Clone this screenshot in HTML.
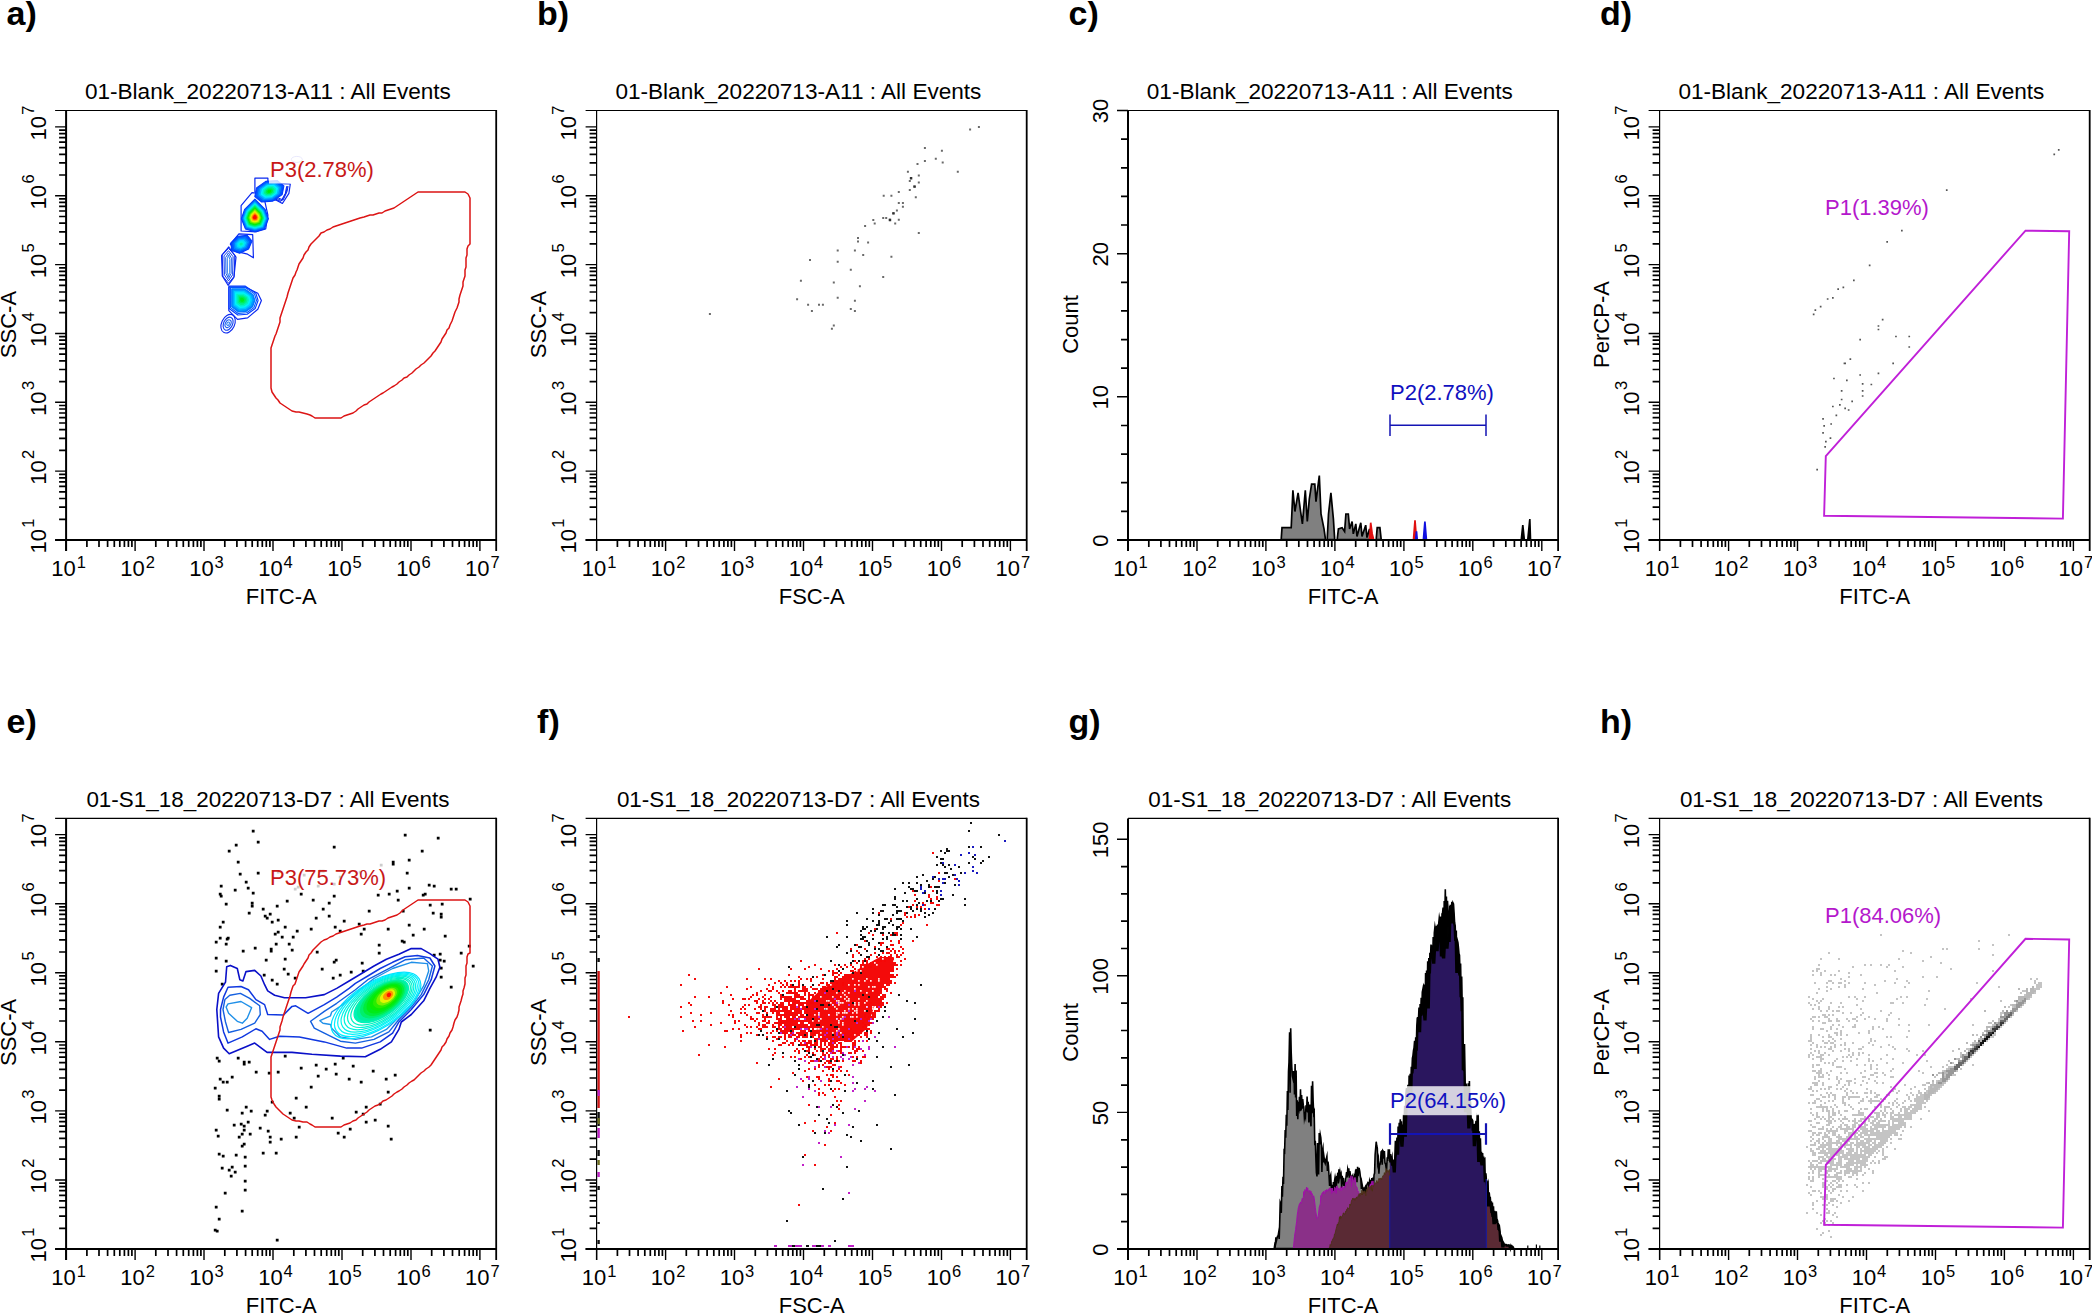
<!DOCTYPE html>
<html lang="en"><head><meta charset="utf-8"><title>Flow cytometry panels</title>
<style>html,body{margin:0;padding:0;background:#fff}svg{display:block}.t{font:22px "Liberation Sans", Arial, Helvetica, sans-serif;fill:#000}.s{font:16.5px "Liberation Sans", Arial, Helvetica, sans-serif;fill:#000}.L{font:bold 34px "Liberation Sans", Arial, Helvetica, sans-serif;fill:#000}.g{font:22px "Liberation Sans", Arial, Helvetica, sans-serif}</style></head><body>
<svg width="2092" height="1313" viewBox="0 0 2092 1313">
<rect width="2092" height="1313" fill="#fff"/>
<g>
<polygon points="254.9,178.2 267.9,178.2 267.9,183.3 290.3,184 288.9,193.4 282.4,203.5 275.8,199.9 265,200.7 259.2,193.4 254.9,192" fill="#fff" stroke="#0a28f0" stroke-width="1.2" stroke-linejoin="round"/><polygon points="241.1,205.7 252,192.7 260.7,193.4 265,202.1 267.9,215.1 265.7,228.9 256.3,231.8 241.1,231" fill="#fff" stroke="#0a28f0" stroke-width="1.2" stroke-linejoin="round"/><polygon points="230.3,244.1 238.9,233.9 252.7,234.7 253.4,257.8 247.6,254.2 236,251.3" fill="#fff" stroke="#0a28f0" stroke-width="1.2" stroke-linejoin="round"/><polygon points="221.6,255.6 228.8,247 236,257.1 233.9,277.4 228.1,285.3 222.3,275.9" fill="#fff" stroke="#0a28f0" stroke-width="1.2" stroke-linejoin="round"/><polygon points="228.8,286.8 244.7,286.8 257.8,293.3 261.4,300.5 257.8,309.2 247.6,317.9 237.5,319.3 228.8,310.6" fill="#fff" stroke="#0a28f0" stroke-width="1.2" stroke-linejoin="round"/><ellipse cx="296.83068017366134" cy="159.40665701881332" rx="5.5" ry="3" fill="none" stroke="#9090f0" stroke-width="1"/><polygon points="283.9,185.9 282.2,194.5 272.9,201.1 261.6,202 254.8,196.6 256.5,188 265.7,181.4 277.1,180.5" fill="#003cff" stroke="#003cff" stroke-width="1.1" stroke-linejoin="round"/><polygon points="282.3,186.5 280.7,194.1 272.5,200 262.5,200.8 256.4,196 257.9,188.4 266.1,182.5 276.2,181.7" fill="#005dff" stroke="#005dff" stroke-width="1.1" stroke-linejoin="round"/><polygon points="280.6,187.1 279.3,193.7 272.1,198.9 263.3,199.6 258.1,195.4 259.4,188.8 266.5,183.6 275.3,182.9" fill="#0089ff" stroke="#0089ff" stroke-width="1.1" stroke-linejoin="round"/><polygon points="279,187.7 277.8,193.4 271.7,197.8 264.2,198.4 259.7,194.8 260.8,189.1 266.9,184.7 274.5,184.1" fill="#00bbff" stroke="#00bbff" stroke-width="1.1" stroke-linejoin="round"/><polygon points="277.3,188.3 276.4,193 271.3,196.7 265.1,197.1 261.3,194.2 262.3,189.5 267.4,185.8 273.6,185.3" fill="#00f0ff" stroke="#00f0ff" stroke-width="1.1" stroke-linejoin="round"/><polygon points="275.7,188.9 275,192.7 270.9,195.6 265.9,195.9 263,193.6 263.7,189.8 267.8,186.9 272.7,186.5" fill="#00f2c7" stroke="#00f2c7" stroke-width="1.1" stroke-linejoin="round"/><polygon points="274.1,189.5 273.5,192.3 270.5,194.5 266.8,194.7 264.6,193 265.2,190.2 268.2,188 271.9,187.8" fill="#00f087" stroke="#00f087" stroke-width="1.1" stroke-linejoin="round"/><polygon points="272.4,190.1 272.1,191.9 270.1,193.3 267.7,193.5 266.2,192.4 266.6,190.6 268.6,189.1 271,189" fill="#00ed44" stroke="#00ed44" stroke-width="1.1" stroke-linejoin="round"/><polygon points="270.8,190.7 270.6,191.6 269.7,192.2 268.6,192.3 267.9,191.8 268.1,190.9 269,190.3 270.1,190.2" fill="#00eb00" stroke="#00eb00" stroke-width="1.1" stroke-linejoin="round"/><polyline points="275.8,199.2 280.9,201.4 285.3,193.4 286.7,186.2" fill="none" stroke="#0a28f0" stroke-width="1"/><polyline points="277,198.6 282.1,200.7 286.1,192.5 287.4,186.2" fill="none" stroke="#0a28f0" stroke-width="1"/><polyline points="278.2,198 283.2,199.9 287,191.7 288.1,186.2" fill="none" stroke="#0a28f0" stroke-width="1"/><polygon points="254.9,199.2 265,209.3 268.4,218.7 264.3,228.9 254.9,231.8 245.4,228.9 241.4,218.7 244.7,209.3" fill="#003cff" stroke="#003cff" stroke-width="1.1" stroke-linejoin="round"/><polygon points="254.9,200.4 264.3,209.9 267.4,218.6 263.7,228.1 254.9,230.8 246.1,228.1 242.3,218.6 245.4,209.9" fill="#0062ff" stroke="#0062ff" stroke-width="1.1" stroke-linejoin="round"/><polygon points="254.9,201.7 263.6,210.4 266.5,218.5 263,227.3 254.9,229.8 246.7,227.3 243.2,218.5 246.1,210.4" fill="#0095ff" stroke="#0095ff" stroke-width="1.1" stroke-linejoin="round"/><polygon points="254.9,202.9 262.9,211 265.6,218.4 262.3,226.5 254.9,228.8 247.4,226.5 244.2,218.4 246.8,211" fill="#00cdff" stroke="#00cdff" stroke-width="1.1" stroke-linejoin="round"/><polygon points="254.9,204.2 262.2,211.5 264.6,218.3 261.7,225.7 254.9,227.8 248,225.7 245.1,218.3 247.5,211.5" fill="#00f4e7" stroke="#00f4e7" stroke-width="1.1" stroke-linejoin="round"/><polygon points="254.9,205.4 261.5,212.1 263.7,218.2 261,224.9 254.9,226.8 248.7,224.9 246,218.2 248.2,212.1" fill="#00f1a1" stroke="#00f1a1" stroke-width="1.1" stroke-linejoin="round"/><polygon points="254.9,206.7 260.8,212.6 262.8,218.1 260.4,224.1 254.9,225.8 249.3,224.1 247,218.1 248.9,212.6" fill="#00ee57" stroke="#00ee57" stroke-width="1.1" stroke-linejoin="round"/><polygon points="254.9,208 260.1,213.2 261.8,218 259.7,223.3 254.9,224.8 250,223.3 247.9,218 249.6,213.2" fill="#00eb0b" stroke="#00eb0b" stroke-width="1.1" stroke-linejoin="round"/><polygon points="254.9,209.2 259.4,213.7 260.9,217.9 259.1,222.5 254.9,223.8 250.6,222.5 248.8,217.9 250.3,213.7" fill="#44ed00" stroke="#44ed00" stroke-width="1.1" stroke-linejoin="round"/><polygon points="254.9,210.5 258.7,214.3 260,217.8 258.4,221.7 254.9,222.8 251.3,221.7 249.8,217.8 251,214.3" fill="#96f000" stroke="#96f000" stroke-width="1.1" stroke-linejoin="round"/><polygon points="254.9,211.7 258,214.8 259,217.7 257.8,220.9 254.9,221.8 252,220.9 250.7,217.7 251.7,214.8" fill="#eaf400" stroke="#eaf400" stroke-width="1.1" stroke-linejoin="round"/><polygon points="254.9,213 257.3,215.4 258.1,217.6 257.1,220.1 254.9,220.8 252.6,220.1 251.6,217.6 252.4,215.4" fill="#ffb700" stroke="#ffb700" stroke-width="1.1" stroke-linejoin="round"/><polygon points="254.9,214.2 256.6,215.9 257.1,217.5 256.5,219.3 254.9,219.7 253.3,219.3 252.6,217.5 253.1,215.9" fill="#ff6200" stroke="#ff6200" stroke-width="1.1" stroke-linejoin="round"/><polygon points="254.9,215.5 255.9,216.5 256.2,217.4 255.8,218.5 254.9,218.7 253.9,218.5 253.5,217.4 253.9,216.5" fill="#ff0a00" stroke="#ff0a00" stroke-width="1.1" stroke-linejoin="round"/><polygon points="252,241 248.6,249 239.6,253.3 231.7,250.6 230.9,243 237.8,236.2 247.2,235.3" fill="#003cff" stroke="#003cff" stroke-width="1.1" stroke-linejoin="round"/><polygon points="250.3,241.5 247.5,248.3 239.8,251.9 233.1,249.6 232.5,243.2 238.3,237.4 246.3,236.6" fill="#0059ff" stroke="#0059ff" stroke-width="1.1" stroke-linejoin="round"/><polygon points="248.7,241.9 246.3,247.5 240,250.5 234.6,248.7 234,243.3 238.8,238.6 245.3,237.9" fill="#0080ff" stroke="#0080ff" stroke-width="1.1" stroke-linejoin="round"/><polygon points="247.1,242.4 245.2,246.8 240.3,249.1 236,247.7 235.5,243.5 239.3,239.7 244.4,239.3" fill="#00acff" stroke="#00acff" stroke-width="1.1" stroke-linejoin="round"/><polygon points="245.5,242.8 244.1,246 240.5,247.8 237.4,246.7 237,243.7 239.8,240.9 243.5,240.6" fill="#00dbff" stroke="#00dbff" stroke-width="1.1" stroke-linejoin="round"/><polygon points="243.8,243.3 243,245.3 240.7,246.4 238.8,245.7 238.6,243.8 240.3,242.1 242.6,241.9" fill="#00f4e5" stroke="#00f4e5" stroke-width="1.1" stroke-linejoin="round"/><polygon points="242.2,243.8 241.9,244.6 241,245 240.2,244.7 240.1,244 240.8,243.3 241.7,243.2" fill="#00f1ad" stroke="#00f1ad" stroke-width="1.1" stroke-linejoin="round"/><polygon points="222.2,254.4 228.5,248.3 234.8,255.3 234.2,276.3 228.5,283.3 222.9,276.3" fill="none" stroke="#0a28f0" stroke-width="1"/><polygon points="224,255.9 228.5,250.7 233.1,256.7 232.6,274.8 228.5,280.9 224.4,274.8" fill="none" stroke="#1040f0" stroke-width="1"/><polygon points="225.7,257.4 228.5,252.9 231.4,258.1 231.1,273.5 228.5,278.6 226,273.5" fill="none" stroke="#2060f0" stroke-width="1"/><polygon points="227.3,258.8 228.5,255.1 229.8,259.4 229.7,272.2 228.5,276.5 227.4,272.2" fill="none" stroke="#3080f0" stroke-width="1"/><polygon points="229.1,286 245,286 255.9,293.3 258.1,300.5 255.2,308.5 247.2,314.3 237.8,315 229.1,308.5" fill="none" stroke="#003cff" stroke-width="1.1" stroke-linejoin="round"/><polygon points="230.4,287.4 244.7,287.4 254.5,293.9 256.5,300.4 253.9,307.6 246.7,312.8 238.2,313.5 230.4,307.6" fill="none" stroke="#0056ff" stroke-width="1.1" stroke-linejoin="round"/><polygon points="231.7,288.8 244.4,288.8 253.1,294.6 254.9,300.4 252.6,306.7 246.2,311.4 238.6,312 231.7,306.7" fill="#007aff" stroke="#007aff" stroke-width="1.1" stroke-linejoin="round"/><polygon points="233,290.1 244.2,290.1 251.8,295.2 253.3,300.3 251.3,305.9 245.7,309.9 239.1,310.4 233,305.9" fill="#00a2ff" stroke="#00a2ff" stroke-width="1.1" stroke-linejoin="round"/><polygon points="234.3,291.5 243.9,291.5 250.4,295.9 251.7,300.2 250,305 245.2,308.5 239.5,308.9 234.3,305" fill="#00cdff" stroke="#00cdff" stroke-width="1.1" stroke-linejoin="round"/><polygon points="235.6,292.9 243.6,292.9 249,296.5 250.1,300.1 248.7,304.1 244.7,307 240,307.4 235.6,304.1" fill="#00f4f8" stroke="#00f4f8" stroke-width="1.1" stroke-linejoin="round"/><polygon points="236.9,294.3 243.3,294.3 247.6,297.2 248.5,300.1 247.3,303.3 244.2,305.6 240.4,305.9 236.9,303.3" fill="#00f2c4" stroke="#00f2c4" stroke-width="1.1" stroke-linejoin="round"/><polygon points="238.2,295.7 243,295.7 246.3,297.8 246.9,300 246,302.4 243.6,304.1 240.8,304.4 238.2,302.4" fill="#00f08f" stroke="#00f08f" stroke-width="1.1" stroke-linejoin="round"/><polygon points="239.5,297 242.7,297 244.9,298.5 245.3,299.9 244.7,301.5 243.1,302.7 241.3,302.8 239.5,301.5" fill="#00ee57" stroke="#00ee57" stroke-width="1.1" stroke-linejoin="round"/><polygon points="240.8,298.4 242.4,298.4 243.5,299.1 243.7,299.9 243.4,300.7 242.6,301.2 241.7,301.3 240.8,300.7" fill="#00ec1e" stroke="#00ec1e" stroke-width="1.1" stroke-linejoin="round"/><ellipse cx="228.1" cy="323.7" rx="6.5" ry="9.8" transform="rotate(25 228.1 323.7)" fill="none" stroke="#0a28f0" stroke-width="1.1"/><ellipse cx="228.1" cy="323.7" rx="4.5" ry="6.9" transform="rotate(25 228.1 323.7)" fill="none" stroke="#1040f0" stroke-width="1.1"/><ellipse cx="228.1" cy="323.7" rx="2.7" ry="4.1" transform="rotate(25 228.1 323.7)" fill="none" stroke="#2060f0" stroke-width="1.1"/><ellipse cx="228.1" cy="323.7" rx="1.2" ry="1.8" transform="rotate(25 228.1 323.7)" fill="none" stroke="#3080f0" stroke-width="1.1"/><polygon points="418,192 421,192 424,192 427,192 430,192 433,192 437,192 440,192 443,192 446,192 449,192 453,192 456,192 459,192 462,192 465,192 468,194 470,198 470,201 470,204 470,207 470,210 470,213 470,217 470,220 470,223 470,226 470,229 470,232 470,235 470,238 470,241 470,244 468,246 467,249 467,252 467,255 466,258 466,261 466,264 466,267 465,270 465,273 465,276 464,279 463,282 463,286 462,289 461,292 460,295 459,299 459,302 458,305 457,308 455,312 454,315 453,318 452,321 450,325 449,328 447,330 446,333 444,336 442,339 441,342 439,345 437,348 435,351 433,353 431,356 429,358 426,361 424,363 421,365 419,367 416,369 414,371 412,373 409,375 407,377 404,378 402,380 399,382 397,384 394,386 392,387 389,389 386,391 383,393 381,394 378,396 375,398 372,400 369,402 367,404 364,405 361,407 358,409 356,411 353,413 350,414 347,415 344,416 341,418 338,418 334,418 331,418 328,418 325,418 322,418 318,418 315,418 312,416 310,415 307,414 303,413 299,412 296,412 292,411 289,409 286,407 283,405 280,403 278,400 276,398 274,395 272,392 271,388 271,385 271,382 271,379 271,376 271,373 271,370 271,367 271,364 271,361 271,358 271,355 271,352 271,348 272,345 273,342 274,339 275,336 276,334 277,331 278,328 279,325 280,322 280,318 281,315 282,312 283,309 284,306 285,303 286,300 287,297 288,293 289,290 290,287 291,284 292,281 293,278 295,275 296,272 297,270 298,267 299,264 301,261 303,258 304,255 306,252 308,250 309,247 311,244 313,242 315,240 317,238 319,236 321,233 324,232 327,230 330,229 333,227 336,226 339,225 342,224 345,223 348,222 351,221 354,220 357,219 360,218 364,217 367,216 370,215 373,215 376,214 379,213 382,213 385,211 388,210 391,209 394,208 397,206 400,204 403,202 406,200 409,198 412,196 415,194" fill="none" stroke="#dc1414" stroke-width="1.5" stroke-linejoin="round"/><rect x="269" y="154.5" width="108" height="29" fill="#fff" fill-opacity="0.8"/><text x="270" y="176.5" class="g" fill="#c81818">P3(2.78%)</text>
<path d="M55.1 110.5H496.2" stroke="#000" stroke-width="1.2" fill="none"/>
<path d="M496.2 109.9V551" stroke="#000" stroke-width="1.8" fill="none"/>
<path d="M66.1 110.5V551" stroke="#000" stroke-width="2" fill="none"/>
<path d="M55.1 540H496.2" stroke="#000" stroke-width="2" fill="none"/>
<path d="M66.1 540v11M135.1 540v11M204 540v11M273 540v11M342 540v11M411 540v11M479.9 540v11" stroke="#000" stroke-width="1.4" fill="none"/>
<path d="M86.9 540v7M99 540v7M107.6 540v7M114.3 540v7M119.8 540v7M124.4 540v7M128.4 540v7M131.9 540v7M155.8 540v7M168 540v7M176.6 540v7M183.3 540v7M188.7 540v7M193.4 540v7M197.4 540v7M200.9 540v7M224.8 540v7M236.9 540v7M245.6 540v7M252.2 540v7M257.7 540v7M262.3 540v7M266.3 540v7M269.9 540v7M293.8 540v7M305.9 540v7M314.5 540v7M321.2 540v7M326.7 540v7M331.3 540v7M335.3 540v7M338.8 540v7M362.7 540v7M374.9 540v7M383.5 540v7M390.2 540v7M395.6 540v7M400.3 540v7M404.3 540v7M407.8 540v7M431.7 540v7M443.9 540v7M452.5 540v7M459.2 540v7M464.6 540v7M469.2 540v7M473.2 540v7M476.8 540v7" stroke="#000" stroke-width="1.7" fill="none"/>
<text x="51.3" y="575.7" class="t">10</text><text x="76.7" y="567.7" class="s">1</text>
<text x="120.3" y="575.7" class="t">10</text><text x="145.7" y="567.7" class="s">2</text>
<text x="189.2" y="575.7" class="t">10</text><text x="214.6" y="567.7" class="s">3</text>
<text x="258.2" y="575.7" class="t">10</text><text x="283.6" y="567.7" class="s">4</text>
<text x="327.2" y="575.7" class="t">10</text><text x="352.6" y="567.7" class="s">5</text>
<text x="396.2" y="575.7" class="t">10</text><text x="421.6" y="567.7" class="s">6</text>
<text x="465.1" y="575.7" class="t">10</text><text x="490.5" y="567.7" class="s">7</text>
<path d="M66.1 540h-11M66.1 471.1h-11M66.1 402.3h-11M66.1 333.5h-11M66.1 264.6h-11M66.1 195.8h-11M66.1 126.9h-11" stroke="#000" stroke-width="1.4" fill="none"/>
<path d="M66.1 519.3h-7M66.1 507.2h-7M66.1 498.5h-7M66.1 491.9h-7M66.1 486.4h-7M66.1 481.8h-7M66.1 477.8h-7M66.1 474.3h-7M66.1 450.4h-7M66.1 438.3h-7M66.1 429.7h-7M66.1 423h-7M66.1 417.6h-7M66.1 413h-7M66.1 409h-7M66.1 405.5h-7M66.1 381.6h-7M66.1 369.5h-7M66.1 360.8h-7M66.1 354.2h-7M66.1 348.7h-7M66.1 344.1h-7M66.1 340.1h-7M66.1 336.6h-7M66.1 312.7h-7M66.1 300.6h-7M66.1 292h-7M66.1 285.3h-7M66.1 279.9h-7M66.1 275.3h-7M66.1 271.3h-7M66.1 267.8h-7M66.1 243.9h-7M66.1 231.8h-7M66.1 223.1h-7M66.1 216.5h-7M66.1 211h-7M66.1 206.4h-7M66.1 202.4h-7M66.1 198.9h-7M66.1 175h-7M66.1 162.9h-7M66.1 154.3h-7M66.1 147.6h-7M66.1 142.2h-7M66.1 137.6h-7M66.1 133.6h-7M66.1 130.1h-7" stroke="#000" stroke-width="1.7" fill="none"/>
<g transform="translate(45.8 540) rotate(-90)"><text x="-13.6" y="0" class="t">10</text><text x="12.2" y="-11.9" class="s">1</text></g>
<g transform="translate(45.8 471.1) rotate(-90)"><text x="-13.6" y="0" class="t">10</text><text x="12.2" y="-11.9" class="s">2</text></g>
<g transform="translate(45.8 402.3) rotate(-90)"><text x="-13.6" y="0" class="t">10</text><text x="12.2" y="-11.9" class="s">3</text></g>
<g transform="translate(45.8 333.5) rotate(-90)"><text x="-13.6" y="0" class="t">10</text><text x="12.2" y="-11.9" class="s">4</text></g>
<g transform="translate(45.8 264.6) rotate(-90)"><text x="-13.6" y="0" class="t">10</text><text x="12.2" y="-11.9" class="s">5</text></g>
<g transform="translate(45.8 195.8) rotate(-90)"><text x="-13.6" y="0" class="t">10</text><text x="12.2" y="-11.9" class="s">6</text></g>
<g transform="translate(45.8 126.9) rotate(-90)"><text x="-13.6" y="0" class="t">10</text><text x="12.2" y="-11.9" class="s">7</text></g>
<text x="267.9" y="98.8" class="t" text-anchor="middle" textLength="366" lengthAdjust="spacingAndGlyphs">01-Blank_20220713-A11 : All Events</text>
<text x="281.2" y="603.8" class="t" text-anchor="middle">FITC-A</text>
<text transform="translate(15.9 324.5) rotate(-90)" class="t" text-anchor="middle">SSC-A</text>
<text x="6.6" y="24.9" class="L">a)</text>
</g>
<g>
<path d="M977.9 126.9h2M969.1 129.6h2M923.9 148h2M940.9 150.7h2M934.8 158.7h2M923.9 160.9h2M941.7 162.5h2M916.5 163.9h2M956.8 171.8h2M906.9 171.8h2M917.8 175.4h2M909.9 178.1h2M908.8 180.9h2M917.8 182.5h2M913.4 186.4h2M908.8 189.9h2M897.8 191.9h2M882.7 195.7h2M890.4 195.7h2M914.8 197.3h2M897.8 203.1h2M901.9 203.1h2M901.9 206.7h2M895.9 210.5h2M892.3 213.2h2M897.8 219.8h2M888.8 219.8h2M882.2 217.9h2M885.2 217.9h2M872.3 220.1h2M873.7 223.4h2M894.2 223.4h2M864.1 225.9h2M917.8 233h2M857 237.9h2M857 241.5h2M867.1 242.6h2M836.7 250.5h2M853.9 250.5h2M862.2 254.9h2M890.4 256.8h2M809 260.1h2M836.7 261.8h2M849.8 269.7h2M882.2 276.9h2M799.9 280.7h2M832.8 282.6h2M858.9 286.2h2M836.7 297.7h2M796.1 299.3h2M853.9 300.7h2M807.1 304.8h2M818 304.8h2M821.9 304.8h2M849.8 308.9h2M810.9 310.9h2M853.9 310.9h2M708.9 313.9h2M832.8 325.4h2M830.9 328.7h2" stroke="#6a6a6a" stroke-width="2" fill="none"/><path d="M913.4 186.6h2.4M892.3 213.4h2.4M888.8 220h2.4M909.9 178.3h2.4" stroke="#303030" stroke-width="2.4" fill="none"/>
<path d="M585.6 110.5H1026.7" stroke="#000" stroke-width="1.2" fill="none"/>
<path d="M1026.7 109.9V551" stroke="#000" stroke-width="1.8" fill="none"/>
<path d="M596.6 110.5V551" stroke="#000" stroke-width="1.2" fill="none"/>
<path d="M585.6 540H1026.7" stroke="#000" stroke-width="2" fill="none"/>
<path d="M596.6 540v11M665.6 540v11M734.5 540v11M803.5 540v11M872.5 540v11M941.5 540v11M1010.4 540v11" stroke="#000" stroke-width="1.4" fill="none"/>
<path d="M617.4 540v7M629.5 540v7M638.1 540v7M644.8 540v7M650.3 540v7M654.9 540v7M658.9 540v7M662.4 540v7M686.3 540v7M698.5 540v7M707.1 540v7M713.8 540v7M719.2 540v7M723.9 540v7M727.9 540v7M731.4 540v7M755.3 540v7M767.4 540v7M776.1 540v7M782.7 540v7M788.2 540v7M792.8 540v7M796.8 540v7M800.4 540v7M824.3 540v7M836.4 540v7M845 540v7M851.7 540v7M857.2 540v7M861.8 540v7M865.8 540v7M869.3 540v7M893.2 540v7M905.4 540v7M914 540v7M920.7 540v7M926.1 540v7M930.8 540v7M934.8 540v7M938.3 540v7M962.2 540v7M974.4 540v7M983 540v7M989.7 540v7M995.1 540v7M999.7 540v7M1003.7 540v7M1007.3 540v7" stroke="#000" stroke-width="1.7" fill="none"/>
<text x="581.8" y="575.7" class="t">10</text><text x="607.2" y="567.7" class="s">1</text>
<text x="650.8" y="575.7" class="t">10</text><text x="676.2" y="567.7" class="s">2</text>
<text x="719.7" y="575.7" class="t">10</text><text x="745.1" y="567.7" class="s">3</text>
<text x="788.7" y="575.7" class="t">10</text><text x="814.1" y="567.7" class="s">4</text>
<text x="857.7" y="575.7" class="t">10</text><text x="883.1" y="567.7" class="s">5</text>
<text x="926.7" y="575.7" class="t">10</text><text x="952.1" y="567.7" class="s">6</text>
<text x="995.6" y="575.7" class="t">10</text><text x="1021" y="567.7" class="s">7</text>
<path d="M596.6 540h-11M596.6 471.1h-11M596.6 402.3h-11M596.6 333.5h-11M596.6 264.6h-11M596.6 195.8h-11M596.6 126.9h-11" stroke="#000" stroke-width="1.4" fill="none"/>
<path d="M596.6 519.3h-7M596.6 507.2h-7M596.6 498.5h-7M596.6 491.9h-7M596.6 486.4h-7M596.6 481.8h-7M596.6 477.8h-7M596.6 474.3h-7M596.6 450.4h-7M596.6 438.3h-7M596.6 429.7h-7M596.6 423h-7M596.6 417.6h-7M596.6 413h-7M596.6 409h-7M596.6 405.5h-7M596.6 381.6h-7M596.6 369.5h-7M596.6 360.8h-7M596.6 354.2h-7M596.6 348.7h-7M596.6 344.1h-7M596.6 340.1h-7M596.6 336.6h-7M596.6 312.7h-7M596.6 300.6h-7M596.6 292h-7M596.6 285.3h-7M596.6 279.9h-7M596.6 275.3h-7M596.6 271.3h-7M596.6 267.8h-7M596.6 243.9h-7M596.6 231.8h-7M596.6 223.1h-7M596.6 216.5h-7M596.6 211h-7M596.6 206.4h-7M596.6 202.4h-7M596.6 198.9h-7M596.6 175h-7M596.6 162.9h-7M596.6 154.3h-7M596.6 147.6h-7M596.6 142.2h-7M596.6 137.6h-7M596.6 133.6h-7M596.6 130.1h-7" stroke="#000" stroke-width="1.7" fill="none"/>
<g transform="translate(576.3 540) rotate(-90)"><text x="-13.6" y="0" class="t">10</text><text x="12.2" y="-11.9" class="s">1</text></g>
<g transform="translate(576.3 471.1) rotate(-90)"><text x="-13.6" y="0" class="t">10</text><text x="12.2" y="-11.9" class="s">2</text></g>
<g transform="translate(576.3 402.3) rotate(-90)"><text x="-13.6" y="0" class="t">10</text><text x="12.2" y="-11.9" class="s">3</text></g>
<g transform="translate(576.3 333.5) rotate(-90)"><text x="-13.6" y="0" class="t">10</text><text x="12.2" y="-11.9" class="s">4</text></g>
<g transform="translate(576.3 264.6) rotate(-90)"><text x="-13.6" y="0" class="t">10</text><text x="12.2" y="-11.9" class="s">5</text></g>
<g transform="translate(576.3 195.8) rotate(-90)"><text x="-13.6" y="0" class="t">10</text><text x="12.2" y="-11.9" class="s">6</text></g>
<g transform="translate(576.3 126.9) rotate(-90)"><text x="-13.6" y="0" class="t">10</text><text x="12.2" y="-11.9" class="s">7</text></g>
<text x="798.4" y="98.8" class="t" text-anchor="middle" textLength="366" lengthAdjust="spacingAndGlyphs">01-Blank_20220713-A11 : All Events</text>
<text x="811.7" y="603.8" class="t" text-anchor="middle">FSC-A</text>
<text transform="translate(546.4 324.5) rotate(-90)" class="t" text-anchor="middle">SSC-A</text>
<text x="537.1" y="24.9" class="L">b)</text>
</g>
<g>
<polygon points="1281.2,539.6 1282,527.7 1291.2,527.7 1292.9,490.4 1294.9,511.5 1298.1,492.9 1300.6,511.5 1302.4,523.9 1305.3,490.4 1307.3,521.5 1309.3,499.1 1311.6,484.2 1314.8,484.2 1316,501.6 1319.3,475.5 1321,514 1324,528.9 1325.5,539.6" fill="#808080" stroke="#000" stroke-width="1.7" stroke-linejoin="miter"/><polygon points="1327.2,539.6 1328.5,514 1330.9,492.9 1333.4,519 1334.7,539.6" fill="#808080" stroke="#000" stroke-width="1.7" stroke-linejoin="miter"/><polygon points="1337.2,539.6 1338.4,528.9 1342.1,527.7 1344.6,531.4 1345.9,514 1348.3,514 1349.6,528.9 1352.1,521.5 1353.3,533.9 1355.8,523.9 1357,536.4 1360.8,522.7 1362,536.4 1365.7,525.2 1367,537.6 1369.5,528.9 1370.7,539.6" fill="#808080" stroke="#000" stroke-width="1.7" stroke-linejoin="miter"/><polygon points="1369.5,539.6 1370.7,522.7 1372.2,533.9 1373.7,539.6" fill="#e01010" stroke="#e01010" stroke-width="1.7" stroke-linejoin="miter"/><polygon points="1376.2,539.6 1377.2,527.7 1379.9,527.7 1381.2,539.6" fill="#808080" stroke="#000" stroke-width="1.7" stroke-linejoin="miter"/><polygon points="1413.5,539.6 1415,520.2 1416.5,539.6" fill="#e01010" stroke="#e01010" stroke-width="1.7" stroke-linejoin="miter"/><polygon points="1415.7,539.6 1416.5,531.4 1417.2,539.6" fill="#1010e0" stroke="#1010e0" stroke-width="1.7" stroke-linejoin="miter"/><polygon points="1423.4,539.6 1424.9,521.5 1426.4,539.6" fill="#1010e0" stroke="#1010e0" stroke-width="1.7" stroke-linejoin="miter"/><polygon points="1521.3,539.6 1522.8,525.2 1524.3,539.6" fill="#000" stroke="#000" stroke-width="1.7" stroke-linejoin="miter"/><polygon points="1527.8,539.6 1529.8,519 1530.5,539.6" fill="#000" stroke="#000" stroke-width="1.7" stroke-linejoin="miter"/><rect x="1389" y="377.5" width="108" height="29" fill="#fff" fill-opacity="0.8"/><text x="1390" y="399.5" class="g" fill="#1010c0">P2(2.78%)</text><path d="M1390 414.5V436.1M1486 414.5V436.1M1390 425.3H1486" stroke="#1414b4" stroke-width="1.5" fill="none"/>
<path d="M1117 110.5H1558.1" stroke="#000" stroke-width="1.2" fill="none"/>
<path d="M1558.1 109.9V551" stroke="#000" stroke-width="1.8" fill="none"/>
<path d="M1128 110.5V551" stroke="#000" stroke-width="2" fill="none"/>
<path d="M1117 540H1558.1" stroke="#000" stroke-width="2" fill="none"/>
<path d="M1128 540v11M1197 540v11M1265.9 540v11M1334.9 540v11M1403.9 540v11M1472.8 540v11M1541.8 540v11" stroke="#000" stroke-width="1.4" fill="none"/>
<path d="M1148.8 540v7M1160.9 540v7M1169.5 540v7M1176.2 540v7M1181.7 540v7M1186.3 540v7M1190.3 540v7M1193.8 540v7M1217.7 540v7M1229.9 540v7M1238.5 540v7M1245.2 540v7M1250.6 540v7M1255.3 540v7M1259.3 540v7M1262.8 540v7M1286.7 540v7M1298.8 540v7M1307.5 540v7M1314.1 540v7M1319.6 540v7M1324.2 540v7M1328.2 540v7M1331.8 540v7M1355.7 540v7M1367.8 540v7M1376.4 540v7M1383.1 540v7M1388.6 540v7M1393.2 540v7M1397.2 540v7M1400.7 540v7M1424.6 540v7M1436.8 540v7M1445.4 540v7M1452.1 540v7M1457.5 540v7M1462.2 540v7M1466.2 540v7M1469.7 540v7M1493.6 540v7M1505.8 540v7M1514.4 540v7M1521.1 540v7M1526.5 540v7M1531.1 540v7M1535.1 540v7M1538.7 540v7" stroke="#000" stroke-width="1.7" fill="none"/>
<text x="1113.2" y="575.7" class="t">10</text><text x="1138.6" y="567.7" class="s">1</text>
<text x="1182.2" y="575.7" class="t">10</text><text x="1207.6" y="567.7" class="s">2</text>
<text x="1251.1" y="575.7" class="t">10</text><text x="1276.5" y="567.7" class="s">3</text>
<text x="1320.1" y="575.7" class="t">10</text><text x="1345.5" y="567.7" class="s">4</text>
<text x="1389.1" y="575.7" class="t">10</text><text x="1414.5" y="567.7" class="s">5</text>
<text x="1458" y="575.7" class="t">10</text><text x="1483.4" y="567.7" class="s">6</text>
<text x="1527" y="575.7" class="t">10</text><text x="1552.4" y="567.7" class="s">7</text>
<path d="M1128 540h-11M1128 396.8h-11M1128 253.7h-11M1128 110.5h-11" stroke="#000" stroke-width="1.4" fill="none"/>
<path d="M1128 511.4h-7M1128 482.7h-7M1128 454.1h-7M1128 425.5h-7M1128 368.2h-7M1128 339.6h-7M1128 310.9h-7M1128 282.3h-7M1128 225h-7M1128 196.4h-7M1128 167.8h-7M1128 139.1h-7" stroke="#000" stroke-width="1.7" fill="none"/>
<text transform="translate(1107.7 540.5) rotate(-90)" class="t" text-anchor="middle">0</text>
<text transform="translate(1107.7 397.3) rotate(-90)" class="t" text-anchor="middle">10</text>
<text transform="translate(1107.7 254.2) rotate(-90)" class="t" text-anchor="middle">20</text>
<text transform="translate(1107.7 111) rotate(-90)" class="t" text-anchor="middle">30</text>
<text x="1329.8" y="98.8" class="t" text-anchor="middle" textLength="366" lengthAdjust="spacingAndGlyphs">01-Blank_20220713-A11 : All Events</text>
<text x="1343.1" y="603.8" class="t" text-anchor="middle">FITC-A</text>
<text transform="translate(1077.8 324.5) rotate(-90)" class="t" text-anchor="middle">Count</text>
<text x="1068.5" y="24.9" class="L">c)</text>
</g>
<g>
<path d="M2057.9 149.8h1.7M2053.4 154.3h1.7M1945.9 190.1h1.7M1901 230.7h1.7M1886.3 241.9h1.7M1868.8 265.4h1.7M1853 280.4h1.7M1842.5 287.4h1.7M1837.3 289.2h1.7M1832 297.9h1.7M1826.8 299h1.7M1819.8 306.7h1.7M1814.5 310.2h1.7M1812.8 314.4h1.7M1881.8 319.7h1.7M1877.6 329.5h1.7M1895.1 336.5h1.7M1908.4 336.5h1.7M1859.3 339.6h1.7M1908.4 347h1.7M1849.5 359.2h1.7M1843.6 363.4h1.7M1892.3 363.4h1.7M1877.6 373.3h1.7M1859.3 375h1.7M1833.1 378.5h1.7M1846 380.3h1.7M1861.8 383.8h1.7M1870.5 384.5h1.7M1840.8 390.8h1.7M1861.8 396h1.7M1840.8 399.5h1.7M1851.3 401.3h1.7M1832 406.5h1.7M1844.3 408.3h1.7M1847.8 410h1.7M1835.5 415.3h1.7M1822.2 418.8h1.7M1830.3 424h1.7M1822.2 432.8h1.7M1829.6 438.1h1.7M1824.3 446.8h1.7M1816.3 469.6h1.7M1877.6 326h1.7M1861.8 390.8h1.7M1823.3 425.8h1.7M1825 441.6h1.7M1839 404.8h1.7M1844.3 363.4h1.7" stroke="#555" stroke-width="1.7" fill="none"/><polygon points="1825.8,456.2 2025.5,230.6 2069.2,231.3 2062.9,518.6 1824.1,515.8" fill="none" stroke="#c020d8" stroke-width="1.9" stroke-linejoin="miter"/><text x="1825" y="215" class="g" fill="#b418cc">P1(1.39%)</text>
<path d="M1648.6 110.5H2089.7" stroke="#000" stroke-width="1.2" fill="none"/>
<path d="M2089.7 109.9V551" stroke="#000" stroke-width="1.8" fill="none"/>
<path d="M1659.6 110.5V551" stroke="#000" stroke-width="1.2" fill="none"/>
<path d="M1648.6 540H2089.7" stroke="#000" stroke-width="2" fill="none"/>
<path d="M1659.6 540v11M1728.6 540v11M1797.5 540v11M1866.5 540v11M1935.5 540v11M2004.4 540v11M2073.4 540v11" stroke="#000" stroke-width="1.4" fill="none"/>
<path d="M1680.4 540v7M1692.5 540v7M1701.1 540v7M1707.8 540v7M1713.3 540v7M1717.9 540v7M1721.9 540v7M1725.4 540v7M1749.3 540v7M1761.5 540v7M1770.1 540v7M1776.8 540v7M1782.2 540v7M1786.9 540v7M1790.9 540v7M1794.4 540v7M1818.3 540v7M1830.4 540v7M1839.1 540v7M1845.7 540v7M1851.2 540v7M1855.8 540v7M1859.8 540v7M1863.4 540v7M1887.3 540v7M1899.4 540v7M1908 540v7M1914.7 540v7M1920.2 540v7M1924.8 540v7M1928.8 540v7M1932.3 540v7M1956.2 540v7M1968.4 540v7M1977 540v7M1983.7 540v7M1989.1 540v7M1993.8 540v7M1997.8 540v7M2001.3 540v7M2025.2 540v7M2037.4 540v7M2046 540v7M2052.7 540v7M2058.1 540v7M2062.7 540v7M2066.7 540v7M2070.3 540v7" stroke="#000" stroke-width="1.7" fill="none"/>
<text x="1644.8" y="575.7" class="t">10</text><text x="1670.2" y="567.7" class="s">1</text>
<text x="1713.8" y="575.7" class="t">10</text><text x="1739.2" y="567.7" class="s">2</text>
<text x="1782.7" y="575.7" class="t">10</text><text x="1808.1" y="567.7" class="s">3</text>
<text x="1851.7" y="575.7" class="t">10</text><text x="1877.1" y="567.7" class="s">4</text>
<text x="1920.7" y="575.7" class="t">10</text><text x="1946.1" y="567.7" class="s">5</text>
<text x="1989.6" y="575.7" class="t">10</text><text x="2015" y="567.7" class="s">6</text>
<text x="2058.6" y="575.7" class="t">10</text><text x="2084" y="567.7" class="s">7</text>
<path d="M1659.6 540h-11M1659.6 471.1h-11M1659.6 402.3h-11M1659.6 333.5h-11M1659.6 264.6h-11M1659.6 195.8h-11M1659.6 126.9h-11" stroke="#000" stroke-width="1.4" fill="none"/>
<path d="M1659.6 519.3h-7M1659.6 507.2h-7M1659.6 498.5h-7M1659.6 491.9h-7M1659.6 486.4h-7M1659.6 481.8h-7M1659.6 477.8h-7M1659.6 474.3h-7M1659.6 450.4h-7M1659.6 438.3h-7M1659.6 429.7h-7M1659.6 423h-7M1659.6 417.6h-7M1659.6 413h-7M1659.6 409h-7M1659.6 405.5h-7M1659.6 381.6h-7M1659.6 369.5h-7M1659.6 360.8h-7M1659.6 354.2h-7M1659.6 348.7h-7M1659.6 344.1h-7M1659.6 340.1h-7M1659.6 336.6h-7M1659.6 312.7h-7M1659.6 300.6h-7M1659.6 292h-7M1659.6 285.3h-7M1659.6 279.9h-7M1659.6 275.3h-7M1659.6 271.3h-7M1659.6 267.8h-7M1659.6 243.9h-7M1659.6 231.8h-7M1659.6 223.1h-7M1659.6 216.5h-7M1659.6 211h-7M1659.6 206.4h-7M1659.6 202.4h-7M1659.6 198.9h-7M1659.6 175h-7M1659.6 162.9h-7M1659.6 154.3h-7M1659.6 147.6h-7M1659.6 142.2h-7M1659.6 137.6h-7M1659.6 133.6h-7M1659.6 130.1h-7" stroke="#000" stroke-width="1.7" fill="none"/>
<g transform="translate(1639.3 540) rotate(-90)"><text x="-13.6" y="0" class="t">10</text><text x="12.2" y="-11.9" class="s">1</text></g>
<g transform="translate(1639.3 471.1) rotate(-90)"><text x="-13.6" y="0" class="t">10</text><text x="12.2" y="-11.9" class="s">2</text></g>
<g transform="translate(1639.3 402.3) rotate(-90)"><text x="-13.6" y="0" class="t">10</text><text x="12.2" y="-11.9" class="s">3</text></g>
<g transform="translate(1639.3 333.5) rotate(-90)"><text x="-13.6" y="0" class="t">10</text><text x="12.2" y="-11.9" class="s">4</text></g>
<g transform="translate(1639.3 264.6) rotate(-90)"><text x="-13.6" y="0" class="t">10</text><text x="12.2" y="-11.9" class="s">5</text></g>
<g transform="translate(1639.3 195.8) rotate(-90)"><text x="-13.6" y="0" class="t">10</text><text x="12.2" y="-11.9" class="s">6</text></g>
<g transform="translate(1639.3 126.9) rotate(-90)"><text x="-13.6" y="0" class="t">10</text><text x="12.2" y="-11.9" class="s">7</text></g>
<text x="1861.4" y="98.8" class="t" text-anchor="middle" textLength="366" lengthAdjust="spacingAndGlyphs">01-Blank_20220713-A11 : All Events</text>
<text x="1874.7" y="603.8" class="t" text-anchor="middle">FITC-A</text>
<text transform="translate(1609.4 324.5) rotate(-90)" class="t" text-anchor="middle">PerCP-A</text>
<text x="1600.1" y="24.9" class="L">d)</text>
</g>
<g>
<path d="M438.8 960.2h2.8M275.8 906.2h2.8M283.8 1056.2h2.8M299.8 1068.2h2.8M270.8 1102.2h2.8M295.8 931.2h2.8M387.8 894.2h2.8M309.8 1087.2h2.8M449.8 889.2h2.8M285.8 901.2h2.8M244.8 882.2h2.8M251.8 893.2h2.8M215.8 1231.2h2.8M400.8 941.2h2.8M225.8 1082.2h2.8M213.8 1088.2h2.8M221.8 1156.2h2.8M265.8 918.2h2.8M393.8 1075.2h2.8M274.8 1153.2h2.8M314.8 1065.2h2.8M403.8 835.2h2.8M227.8 851.2h2.8M376.8 895.2h2.8M214.8 958.2h2.8M276.8 872.2h2.8M214.8 1207.2h2.8M287.8 944.2h2.8M296.8 887.2h2.8M268.8 1142.2h2.8M318.8 871.2h2.8M265.8 1111.2h2.8M330.8 1118.2h2.8M270.8 922.2h2.8M243.8 1181.2h2.8M364.8 1107.2h2.8M239.8 1124.2h2.8M333.8 927.2h2.8M320.8 969.2h2.8M378.8 1104.2h2.8M407.8 888.2h2.8M422.8 929.2h2.8M270.8 980.2h2.8M282.8 969.2h2.8M237.8 1137.2h2.8M234.8 845.2h2.8M332.8 847.2h2.8M386.8 1092.2h2.8M402.8 942.2h2.8M230.8 1077.2h2.8M262.8 975.2h2.8M248.8 1134.2h2.8M293.8 978.2h2.8M223.8 1193.2h2.8M217.8 1096.2h2.8M232.8 1125.2h2.8M342.8 1137.2h2.8M247.8 913.2h2.8M321.8 871.2h2.8M362.8 929.2h2.8M279.8 1139.2h2.8M431.8 913.2h2.8M227.8 1170.2h2.8M389.8 1139.2h2.8M327.8 916.2h2.8M275.8 1240.2h2.8M230.8 1167.2h2.8M443.8 936.2h2.8M263.8 916.2h2.8M386.8 1126.2h2.8M309.8 929.2h2.8M288.8 1113.2h2.8M233.8 890.2h2.8M251.8 831.2h2.8M439.8 968.2h2.8M439.8 917.2h2.8M276.8 920.2h2.8M440.8 904.2h2.8M213.8 1230.2h2.8M327.8 903.2h2.8M355.8 879.2h2.8M471.8 966.2h2.8M336.8 1133.2h2.8M254.8 1072.2h2.8M219.8 886.2h2.8M217.8 1219.2h2.8M238.8 874.2h2.8M242.8 1144.2h2.8M219.8 896.2h2.8M250.8 906.2h2.8M241.8 951.2h2.8M428.8 905.2h2.8M348.8 1129.2h2.8M258.8 1128.2h2.8M243.8 1190.2h2.8M315.8 952.2h2.8M334.8 960.2h2.8M332.8 884.2h2.8M225.8 1110.2h2.8M218.8 1079.2h2.8M240.8 1146.2h2.8M225.8 939.2h2.8M432.8 955.2h2.8M407.8 925.2h2.8M246.8 1122.2h2.8M242.8 1064.2h2.8M220.8 1168.2h2.8M311.8 900.2h2.8M293.8 889.2h2.8M269.8 951.2h2.8M246.8 888.2h2.8M283.8 959.2h2.8M338.8 931.2h2.8M342.8 921.2h2.8M321.8 909.2h2.8M253.8 948.2h2.8M333.8 1064.2h2.8M364.8 1122.2h2.8M234.8 1155.2h2.8M332.8 896.2h2.8M359.8 934.2h2.8M297.8 1127.2h2.8M240.8 1211.2h2.8M432.8 886.2h2.8M243.8 1157.2h2.8M361.8 971.2h2.8M354.8 1112.2h2.8M386.8 929.2h2.8M220.8 984.2h2.8M459.8 953.2h2.8M249.8 1111.2h2.8M267.8 1073.2h2.8M428.8 1030.2h2.8M304.8 1107.2h2.8M391.8 864.2h2.8M338.8 877.2h2.8M351.8 1066.2h2.8M439.8 914.2h2.8M360.8 963.2h2.8M290.8 950.2h2.8M273.8 934.2h2.8M268.8 914.2h2.8M384.8 1079.2h2.8M256.8 873.2h2.8M361.8 1114.2h2.8M396.8 900.2h2.8M243.8 1166.2h2.8M276.8 932.2h2.8M250.8 903.2h2.8M269.8 949.2h2.8M377.8 945.2h2.8M349.8 972.2h2.8M274.8 944.2h2.8M367.8 911.2h2.8M438.8 954.2h2.8M261.8 1153.2h2.8M224.8 944.2h2.8M358.8 872.2h2.8M454.8 889.2h2.8M214.8 1130.2h2.8M215.8 1058.2h2.8M405.8 873.2h2.8M331.8 978.2h2.8M242.8 1130.2h2.8M221.8 922.2h2.8M242.8 1062.2h2.8M236.8 1058.2h2.8M316.8 886.2h2.8M233.8 1172.2h2.8M218.8 927.2h2.8M280.8 937.2h2.8M264.8 960.2h2.8M240.8 1134.2h2.8M314.8 918.2h2.8M341.8 1058.2h2.8M294.8 1137.2h2.8M423.8 894.2h2.8M224.8 904.2h2.8M256.8 842.2h2.8M395.8 891.2h2.8M359.8 1082.2h2.8M276.8 1072.2h2.8M316.8 1076.2h2.8M391.8 862.2h2.8M291.8 937.2h2.8M442.8 961.2h2.8M266.8 1131.2h2.8M467.8 946.2h2.8M218.8 894.2h2.8M261.8 909.2h2.8M334.8 1074.2h2.8M401.8 911.2h2.8M275.8 984.2h2.8M377.8 953.2h2.8M286.8 974.2h2.8M236.8 862.2h2.8M226.8 938.2h2.8M420.8 851.2h2.8M283.8 927.2h2.8M268.8 1137.2h2.8M407.8 860.2h2.8M224.8 961.2h2.8M324.8 1069.2h2.8M216.8 1136.2h2.8M229.8 1176.2h2.8M347.8 1079.2h2.8M411.8 935.2h2.8M242.8 1126.2h2.8M244.8 1107.2h2.8M217.8 1061.2h2.8M302.8 875.2h2.8M436.8 838.2h2.8M379.8 865.2h2.8M217.8 1099.2h2.8M427.8 885.2h2.8M371.8 1071.2h2.8M292.8 1118.2h2.8M332.8 962.2h2.8M218.8 938.2h2.8M299.8 894.2h2.8M421.8 895.2h2.8M247.8 1062.2h2.8M357.8 924.2h2.8M294.8 1098.2h2.8M217.8 1154.2h2.8M338.8 975.2h2.8M373.8 1120.2h2.8M214.8 942.2h2.8M221.8 1082.2h2.8M214.8 971.2h2.8M449.8 987.2h2.8M263.8 1115.2h2.8M240.8 1113.2h2.8M439.8 977.2h2.8M468.8 899.2h2.8" stroke="#000" stroke-width="2.8" fill="none"/><polygon points="216.8,1009.5 218.6,993.4 225.5,982.2 226.7,966.7 230.4,965.4 237.3,968.5 239.8,979.7 242.9,981 246,971.6 254.7,970.4 260.9,976 264.6,984.7 267.7,990.9 274.6,995.2 284.5,997.7 305.6,997.7 324.3,994.6 336.7,988.4 349.1,981 361.6,973.5 374,966 386.4,959.2 398.9,954.2 411.3,948.6 421.2,948.6 429.9,953.6 438,959.2 439.9,967.3 436.1,977.2 429.9,988.4 423.7,1000.8 411.3,1014.5 401.3,1022 398.9,1029.4 391.4,1041.9 380.2,1049.3 365.3,1056.8 340.4,1056.1 311.9,1054.3 292,1052.4 267.1,1052.4 254.7,1043.1 247.2,1046.2 229.2,1053.7 223.6,1048.1 218.6,1036.9" fill="none" stroke="#0a10c8" stroke-width="1.6" stroke-linejoin="round"/><polygon points="220.5,1009.5 223.6,997.1 228,987.2 241,986.5 248.5,989.7 255.9,999.6 264.6,1004.6 267.7,1014.5 283.3,1015.1 292,1006.4 295.7,1005.8 308.1,1013.3 324.3,1004.6 336.7,997.1 349.1,988.4 355.4,983.4 367.8,976 380.2,968.5 392.6,962.3 405.1,956.7 417.5,955.5 429.9,958 434.9,966 431.2,979.7 423.7,994.6 411.3,1009.5 398.9,1022 392.6,1033.2 380.2,1041.9 361.6,1048.1 346.7,1048.1 324.3,1041.9 299.4,1036.9 279.5,1036.3 269.6,1039.4 262.1,1031.3 255.9,1028.8 242.3,1036.9 228,1043.1 223.6,1031.9 220.5,1017" fill="none" stroke="#1038e0" stroke-width="1.5" stroke-linejoin="round"/><polygon points="223,1009.5 224.9,999.6 229.8,995.2 240.4,993.4 249.7,998.4 259.7,1005.8 260.3,1014.5 254.7,1023.2 241,1029.4 228.6,1032.5 225.5,1022" fill="none" stroke="#1560e0" stroke-width="1.4" stroke-linejoin="round"/><polygon points="226.1,1007.1 228,1003.9 241,1001.5 251.6,1007.7 247.2,1018.2 242.3,1023.2 237.3,1021.3 228.6,1013.3" fill="none" stroke="#2090e8" stroke-width="1.4" stroke-linejoin="round"/><polygon points="310.6,1021.3 324.3,1011.4 336.7,1003.3 355.4,989.7 367.8,979.7 386.4,969.8 405.1,959.8 423.7,958 432.4,966 428.7,979.7 421.2,994.6 411.3,1007.1 398.9,1019.5 388.9,1031.9 374,1039.4 355.4,1043.1 340.4,1041.2 324.3,1033.2 314.3,1028.2" fill="none" stroke="#1560e0" stroke-width="1.4" stroke-linejoin="round"/><polygon points="319.9,1020.7 330.5,1015.8 331.7,1012 342.9,1004.6 361.6,988.4 374,978.5 392.6,968.5 411.3,962.3 427.4,963.6 428.7,971 423.7,985.9 413.8,1002.1 398.9,1017 386.4,1029.4 371.5,1036.9 355.4,1039.4 340.4,1036.9 331.7,1028.2 330.5,1024.5 323,1023.2" fill="none" stroke="#2090e8" stroke-width="1.4" stroke-linejoin="round"/><ellipse cx="376" cy="1005.5" rx="50.8" ry="23" transform="rotate(-32 376 1005.5)" fill="none" stroke="#00e2ff" stroke-width="1.2"/><ellipse cx="376.8" cy="1004.9" rx="48.1" ry="21.9" transform="rotate(-32.4 376.8 1004.9)" fill="none" stroke="#00eeff" stroke-width="1.2"/><ellipse cx="377.5" cy="1004.2" rx="45.3" ry="20.7" transform="rotate(-32.7 377.5 1004.2)" fill="none" stroke="#00f4f8" stroke-width="1.2"/><ellipse cx="378.3" cy="1003.6" rx="42.5" ry="19.6" transform="rotate(-33.1 378.3 1003.6)" fill="none" stroke="#00f4eb" stroke-width="1.2"/><ellipse cx="379" cy="1003" rx="39.8" ry="18.4" transform="rotate(-33.4 379 1003)" fill="none" stroke="#00f3de" stroke-width="1.2"/><ellipse cx="379.8" cy="1002.4" rx="37" ry="17.2" transform="rotate(-33.8 379.8 1002.4)" fill="none" stroke="#00f3d0" stroke-width="1.2"/><ellipse cx="380.6" cy="1001.7" rx="34.2" ry="16" transform="rotate(-34.1 380.6 1001.7)" fill="none" stroke="#00f2c3" stroke-width="1.2"/><ellipse cx="381.3" cy="1001.1" rx="31.4" ry="14.8" transform="rotate(-34.5 381.3 1001.1)" fill="#00f2b6" stroke="#00f2b6" stroke-width="1.2"/><ellipse cx="382.1" cy="1000.5" rx="28.6" ry="13.6" transform="rotate(-34.8 382.1 1000.5)" fill="#00f19c" stroke="#00f19c" stroke-width="1.2"/><ellipse cx="382.8" cy="999.8" rx="25.7" ry="12.4" transform="rotate(-35.2 382.8 999.8)" fill="#00ef6c" stroke="#00ef6c" stroke-width="1.2"/><ellipse cx="383.6" cy="999.2" rx="22.9" ry="11.2" transform="rotate(-35.5 383.6 999.2)" fill="#00ed3c" stroke="#00ed3c" stroke-width="1.2"/><ellipse cx="384.3" cy="998.6" rx="20" ry="9.9" transform="rotate(-35.9 384.3 998.6)" fill="#00eb18" stroke="#00eb18" stroke-width="1.2"/><ellipse cx="385.1" cy="997.9" rx="17.1" ry="8.6" transform="rotate(-36.2 385.1 997.9)" fill="#09eb00" stroke="#09eb00" stroke-width="1.2"/><ellipse cx="385.9" cy="997.3" rx="14.2" ry="7.3" transform="rotate(-36.6 385.9 997.3)" fill="#2aec00" stroke="#2aec00" stroke-width="1.2"/><ellipse cx="386.6" cy="996.7" rx="11.2" ry="6" transform="rotate(-36.9 386.6 996.7)" fill="#7eef00" stroke="#7eef00" stroke-width="1.2"/><ellipse cx="387.4" cy="996.1" rx="8.2" ry="4.6" transform="rotate(-37.3 387.4 996.1)" fill="#e5f400" stroke="#e5f400" stroke-width="1.2"/><ellipse cx="388.1" cy="995.4" rx="5.1" ry="3.2" transform="rotate(-37.6 388.1 995.4)" fill="#ff9400" stroke="#ff9400" stroke-width="1.2"/><ellipse cx="388.9" cy="994.8" rx="1.8" ry="1.5" transform="rotate(-38 388.9 994.8)" fill="#ff1400" stroke="#ff1400" stroke-width="1.2"/><polygon points="418,900 421,900 424,900 427,900 430,900 433,900 437,900 440,900 443,900 446,900 449,900 453,900 456,900 459,900 462,900 465,900 468,902 470,906 470,909 470,912 470,915 470,919 470,922 470,925 470,928 470,931 470,934 470,937 470,940 470,943 470,946 470,949 470,953 468,954 467,957 467,960 467,963 466,966 466,969 466,972 466,975 465,978 465,981 465,984 464,988 463,991 463,994 462,997 461,1001 460,1004 459,1007 459,1010 458,1014 457,1017 455,1020 454,1023 453,1027 452,1030 450,1033 449,1036 447,1039 446,1042 444,1045 442,1047 441,1050 439,1053 437,1056 435,1059 433,1062 431,1065 429,1067 426,1069 424,1071 421,1073 419,1075 416,1078 414,1080 412,1081 409,1083 407,1085 404,1087 402,1089 399,1091 397,1092 394,1094 392,1096 389,1098 386,1100 383,1101 381,1103 378,1105 375,1106 372,1108 369,1110 367,1112 364,1114 361,1116 358,1118 356,1120 353,1121 350,1123 347,1124 344,1125 341,1127 338,1127 334,1127 331,1127 328,1127 325,1127 322,1127 318,1127 315,1127 312,1125 310,1124 307,1122 303,1122 299,1121 296,1121 292,1120 289,1118 286,1116 283,1114 280,1111 278,1109 276,1107 274,1104 272,1100 271,1097 271,1094 271,1091 271,1088 271,1085 271,1081 271,1078 271,1075 271,1072 271,1069 271,1066 271,1063 271,1060 271,1057 272,1054 273,1051 274,1048 275,1045 276,1042 277,1039 278,1036 279,1033 280,1030 280,1027 281,1024 282,1021 283,1017 284,1014 285,1011 286,1008 287,1005 288,1002 289,999 290,996 291,992 292,989 293,986 295,984 296,981 297,978 298,975 299,972 301,969 303,966 304,964 306,961 308,958 309,955 311,953 313,950 315,948 317,946 319,944 321,942 324,940 327,939 330,937 333,936 336,934 339,933 342,932 345,931 348,930 351,929 354,928 357,927 360,926 364,925 367,924 370,924 373,923 376,922 379,921 382,921 385,920 388,918 391,917 394,916 397,915 400,913 403,910 406,908 409,906 412,904 415,902" fill="none" stroke="#dc1414" stroke-width="1.5" stroke-linejoin="round"/><rect x="269" y="862.6" width="119" height="29" fill="#fff" fill-opacity="0.8"/><text x="270" y="884.6" class="g" fill="#c81818">P3(75.73%)</text>
<path d="M55.1 818.4H496.2" stroke="#000" stroke-width="1.2" fill="none"/>
<path d="M496.2 817.8V1260" stroke="#000" stroke-width="1.8" fill="none"/>
<path d="M66.1 818.4V1260" stroke="#000" stroke-width="2" fill="none"/>
<path d="M55.1 1249H496.2" stroke="#000" stroke-width="2" fill="none"/>
<path d="M66.1 1249v11M135.1 1249v11M204 1249v11M273 1249v11M342 1249v11M411 1249v11M479.9 1249v11" stroke="#000" stroke-width="1.4" fill="none"/>
<path d="M86.9 1249v7M99 1249v7M107.6 1249v7M114.3 1249v7M119.8 1249v7M124.4 1249v7M128.4 1249v7M131.9 1249v7M155.8 1249v7M168 1249v7M176.6 1249v7M183.3 1249v7M188.7 1249v7M193.4 1249v7M197.4 1249v7M200.9 1249v7M224.8 1249v7M236.9 1249v7M245.6 1249v7M252.2 1249v7M257.7 1249v7M262.3 1249v7M266.3 1249v7M269.9 1249v7M293.8 1249v7M305.9 1249v7M314.5 1249v7M321.2 1249v7M326.7 1249v7M331.3 1249v7M335.3 1249v7M338.8 1249v7M362.7 1249v7M374.9 1249v7M383.5 1249v7M390.2 1249v7M395.6 1249v7M400.3 1249v7M404.3 1249v7M407.8 1249v7M431.7 1249v7M443.9 1249v7M452.5 1249v7M459.2 1249v7M464.6 1249v7M469.2 1249v7M473.2 1249v7M476.8 1249v7" stroke="#000" stroke-width="1.7" fill="none"/>
<text x="51.3" y="1284.8" class="t">10</text><text x="76.7" y="1276.8" class="s">1</text>
<text x="120.3" y="1284.8" class="t">10</text><text x="145.7" y="1276.8" class="s">2</text>
<text x="189.2" y="1284.8" class="t">10</text><text x="214.6" y="1276.8" class="s">3</text>
<text x="258.2" y="1284.8" class="t">10</text><text x="283.6" y="1276.8" class="s">4</text>
<text x="327.2" y="1284.8" class="t">10</text><text x="352.6" y="1276.8" class="s">5</text>
<text x="396.2" y="1284.8" class="t">10</text><text x="421.6" y="1276.8" class="s">6</text>
<text x="465.1" y="1284.8" class="t">10</text><text x="490.5" y="1276.8" class="s">7</text>
<path d="M66.1 1249h-11M66.1 1180h-11M66.1 1110.9h-11M66.1 1041.8h-11M66.1 972.8h-11M66.1 903.7h-11M66.1 834.6h-11" stroke="#000" stroke-width="1.4" fill="none"/>
<path d="M66.1 1228.3h-7M66.1 1216.1h-7M66.1 1207.5h-7M66.1 1200.8h-7M66.1 1195.3h-7M66.1 1190.7h-7M66.1 1186.7h-7M66.1 1183.1h-7M66.1 1159.2h-7M66.1 1147h-7M66.1 1138.4h-7M66.1 1131.7h-7M66.1 1126.2h-7M66.1 1121.6h-7M66.1 1117.6h-7M66.1 1114.1h-7M66.1 1090.1h-7M66.1 1078h-7M66.1 1069.3h-7M66.1 1062.6h-7M66.1 1057.2h-7M66.1 1052.5h-7M66.1 1048.5h-7M66.1 1045h-7M66.1 1021h-7M66.1 1008.9h-7M66.1 1000.3h-7M66.1 993.6h-7M66.1 988.1h-7M66.1 983.5h-7M66.1 979.5h-7M66.1 975.9h-7M66.1 952h-7M66.1 939.8h-7M66.1 931.2h-7M66.1 924.5h-7M66.1 919h-7M66.1 914.4h-7M66.1 910.4h-7M66.1 906.9h-7M66.1 882.9h-7M66.1 870.7h-7M66.1 862.1h-7M66.1 855.4h-7M66.1 850h-7M66.1 845.3h-7M66.1 841.3h-7M66.1 837.8h-7" stroke="#000" stroke-width="1.7" fill="none"/>
<g transform="translate(45.8 1249) rotate(-90)"><text x="-13.6" y="0" class="t">10</text><text x="12.2" y="-11.9" class="s">1</text></g>
<g transform="translate(45.8 1180) rotate(-90)"><text x="-13.6" y="0" class="t">10</text><text x="12.2" y="-11.9" class="s">2</text></g>
<g transform="translate(45.8 1110.9) rotate(-90)"><text x="-13.6" y="0" class="t">10</text><text x="12.2" y="-11.9" class="s">3</text></g>
<g transform="translate(45.8 1041.8) rotate(-90)"><text x="-13.6" y="0" class="t">10</text><text x="12.2" y="-11.9" class="s">4</text></g>
<g transform="translate(45.8 972.8) rotate(-90)"><text x="-13.6" y="0" class="t">10</text><text x="12.2" y="-11.9" class="s">5</text></g>
<g transform="translate(45.8 903.7) rotate(-90)"><text x="-13.6" y="0" class="t">10</text><text x="12.2" y="-11.9" class="s">6</text></g>
<g transform="translate(45.8 834.6) rotate(-90)"><text x="-13.6" y="0" class="t">10</text><text x="12.2" y="-11.9" class="s">7</text></g>
<text x="267.9" y="806.7" class="t" text-anchor="middle" textLength="363" lengthAdjust="spacingAndGlyphs">01-S1_18_20220713-D7 : All Events</text>
<text x="281.2" y="1312.8" class="t" text-anchor="middle">FITC-A</text>
<text transform="translate(15.9 1032.4) rotate(-90)" class="t" text-anchor="middle">SSC-A</text>
<text x="6.6" y="732.8" class="L">e)</text>
</g>
<g>
<polygon points="808,1003 822,990 842,980 862,968 880,958 893,958 890,970 880,988 872,1010 866,1028 852,1040 838,1040 822,1030 810,1018" fill="#f60606" stroke="#f60606" stroke-width="2" stroke-linejoin="round"/><path d="M758 1035h2M760 1031h2M762 1011h2M762 1035h2M766 1015h2M766 1039h2M768 1023h2M768 1065h2M772 1059h2M776 1007h2M776 1011h2M776 1029h2M778 1033h2M778 1039h2M780 1021h2M780 1033h2M782 995h2M782 1053h2M784 1011h2M784 1027h2M786 1091h2M786 1221h2M788 967h2M788 1017h2M788 1111h2M790 1031h2M790 1033h2M790 1113h2M792 985h2M794 987h2M794 989h2M794 999h2M794 1027h2M794 1061h2M794 1075h2M796 1087h2M798 1045h2M798 1059h2M798 1065h2M798 1069h2M798 1125h2M802 985h2M802 1037h2M802 1157h2M804 1035h2M804 1051h2M804 1061h2M806 1007h2M806 1015h2M808 1017h2M808 1021h2M808 1023h2M808 1053h2M808 1085h2M808 1087h2M810 1021h2M810 1031h2M810 1037h2M810 1057h2M812 977h2M812 985h2M812 997h2M812 1011h2M812 1019h2M812 1055h2M812 1061h2M812 1081h2M814 1041h2M814 1047h2M814 1049h2M814 1133h2M816 1001h2M816 1009h2M816 1023h2M816 1025h2M816 1059h2M816 1107h2M818 997h2M818 1019h2M818 1023h2M818 1025h2M818 1037h2M818 1059h2M818 1115h2M820 1005h2M820 1023h2M820 1061h2M822 1005h2M822 1051h2M822 1189h2M824 975h2M824 999h2M824 1009h2M824 1029h2M824 1039h2M824 1133h2M826 937h2M826 991h2M826 1007h2M826 1119h2M828 1005h2M828 1009h2M828 1019h2M828 1123h2M830 961h2M830 981h2M830 997h2M830 1007h2M830 1025h2M830 1041h2M830 1061h2M830 1081h2M830 1089h2M832 981h2M832 989h2M832 1023h2M832 1035h2M832 1069h2M832 1105h2M834 1009h2M834 1027h2M834 1043h2M834 1241h2M836 947h2M836 1027h2M836 1039h2M836 1059h2M836 1061h2M836 1107h2M838 945h2M838 965h2M838 971h2M838 991h2M838 1029h2M840 1007h2M840 1053h2M842 969h2M842 989h2M842 1031h2M842 1037h2M842 1055h2M842 1113h2M842 1199h2M844 1009h2M844 1075h2M844 1091h2M846 921h2M846 925h2M846 937h2M846 953h2M846 979h2M846 1135h2M846 1167h2M848 1021h2M848 1029h2M850 951h2M850 963h2M850 991h2M850 1019h2M850 1039h2M850 1137h2M852 961h2M852 973h2M852 997h2M852 1003h2M852 1005h2M852 1013h2M852 1023h2M852 1127h2M854 945h2M854 1007h2M854 1015h2M854 1021h2M854 1031h2M854 1061h2M856 913h2M856 1059h2M856 1083h2M858 947h2M858 953h2M858 961h2M858 1001h2M858 1111h2M860 931h2M860 935h2M860 939h2M860 947h2M860 955h2M860 973h2M860 1033h2M860 1141h2M862 927h2M862 929h2M862 937h2M862 939h2M862 963h2M862 995h2M862 1015h2M862 1017h2M864 929h2M864 937h2M864 961h2M866 919h2M866 927h2M866 941h2M866 951h2M866 957h2M866 1011h2M866 1031h2M868 943h2M868 945h2M868 957h2M868 997h2M868 1001h2M868 1003h2M868 1039h2M870 931h2M872 909h2M872 913h2M872 921h2M872 939h2M872 971h2M872 1081h2M872 1089h2M874 931h2M874 949h2M874 963h2M876 925h2M876 929h2M876 977h2M876 1021h2M876 1041h2M876 1057h2M876 1125h2M878 915h2M878 921h2M878 923h2M878 925h2M878 943h2M878 949h2M878 955h2M878 1033h2M880 911h2M880 933h2M880 951h2M880 967h2M882 905h2M882 911h2M882 927h2M882 929h2M882 933h2M882 939h2M882 951h2M882 963h2M882 1017h2M882 1047h2M884 905h2M884 919h2M884 927h2M884 1007h2M884 1011h2M886 919h2M886 937h2M886 939h2M886 947h2M886 961h2M888 923h2M888 933h2M890 921h2M890 1067h2M890 1149h2M892 905h2M892 915h2M892 925h2M892 933h2M892 935h2M894 889h2M894 897h2M894 899h2M894 905h2M894 935h2M894 1095h2M896 907h2M896 911h2M896 913h2M896 919h2M896 927h2M896 929h2M896 1029h2M898 911h2M898 919h2M898 927h2M898 995h2M900 911h2M900 919h2M900 929h2M900 935h2M900 939h2M902 883h2M902 901h2M902 921h2M902 1037h2M904 893h2M906 901h2M906 907h2M906 913h2M906 1001h2M908 883h2M908 887h2M908 1065h2M910 889h2M910 907h2M910 909h2M910 929h2M912 889h2M912 911h2M912 1033h2M914 891h2M914 1003h2M914 1019h2M916 877h2M916 883h2M916 891h2M916 899h2M916 905h2M916 907h2M916 909h2M916 937h2M918 903h2M920 885h2M920 887h2M920 909h2M920 911h2M920 985h2M922 875h2M924 893h2M924 913h2M924 917h2M926 881h2M926 901h2M928 885h2M928 887h2M928 909h2M928 915h2M930 901h2M932 879h2M932 913h2M934 877h2M934 887h2M934 909h2M936 857h2M936 865h2M936 887h2M936 891h2M936 893h2M938 887h2M938 901h2M940 851h2M940 859h2M940 863h2M940 899h2M942 859h2M942 865h2M942 879h2M942 899h2M944 853h2M944 867h2M944 873h2M944 883h2M946 849h2M946 851h2M946 873h2M948 851h2M948 865h2M948 877h2M950 869h2M952 875h2M952 895h2M954 885h2M958 867h2M960 873h2M964 899h2M964 905h2M968 831h2M968 847h2M968 863h2M970 823h2M972 857h2M974 859h2M980 847h2M980 863h2M982 861h2M988 857h2M998 835h2" stroke="#111" stroke-width="2" fill="none"/><path d="M628 1017h2M680 985h2M680 1007h2M680 1017h2M682 1031h2M688 975h2M688 1003h2M690 1005h2M690 1013h2M692 1021h2M694 979h2M694 997h2M694 1027h2M698 1055h2M700 1015h2M700 1021h2M708 997h2M708 1045h2M710 1013h2M710 1025h2M720 993h2M720 1023h2M722 1001h2M722 1003h2M724 1031h2M724 1047h2M726 987h2M726 1031h2M728 1005h2M728 1015h2M730 995h2M730 1011h2M732 999h2M732 1015h2M732 1017h2M732 1029h2M734 1021h2M734 1023h2M738 1021h2M738 1029h2M740 1009h2M740 1013h2M740 1035h2M740 1037h2M740 1041h2M742 999h2M742 1007h2M744 999h2M744 1005h2M744 1009h2M744 1013h2M744 1025h2M746 979h2M746 989h2M746 1015h2M746 1027h2M746 1033h2M748 999h2M748 1005h2M750 987h2M750 997h2M750 1017h2M750 1019h2M750 1027h2M750 1033h2M752 995h2M752 1019h2M754 1001h2M754 1009h2M754 1021h2M756 993h2M756 995h2M756 1001h2M756 1003h2M756 1013h2M756 1019h2M756 1027h2M756 1035h2M756 1063h2M758 969h2M758 999h2M758 1007h2M758 1013h2M758 1023h2M758 1025h2M758 1029h2M760 991h2M760 1005h2M760 1007h2M760 1009h2M760 1029h2M762 997h2M762 1001h2M762 1003h2M762 1015h2M762 1017h2M762 1021h2M762 1025h2M762 1027h2M764 979h2M764 995h2M764 999h2M764 1003h2M764 1007h2M764 1009h2M764 1011h2M764 1017h2M764 1019h2M764 1021h2M764 1025h2M764 1027h2M766 989h2M766 1007h2M766 1013h2M766 1017h2M766 1023h2M766 1027h2M766 1033h2M766 1037h2M768 985h2M768 991h2M768 999h2M768 1003h2M768 1017h2M768 1021h2M768 1023h2M768 1049h2M770 979h2M770 991h2M770 997h2M770 1001h2M770 1009h2M770 1011h2M770 1017h2M770 1033h2M770 1087h2M772 987h2M772 989h2M772 1003h2M772 1005h2M772 1009h2M772 1011h2M772 1013h2M772 1025h2M772 1027h2M772 1031h2M772 1037h2M772 1041h2M772 1055h2M774 983h2M774 1001h2M774 1005h2M774 1007h2M774 1009h2M774 1011h2M774 1023h2M774 1027h2M774 1037h2M774 1049h2M774 1053h2M776 991h2M776 1003h2M776 1011h2M776 1013h2M776 1015h2M776 1017h2M776 1019h2M776 1023h2M776 1031h2M776 1039h2M778 981h2M778 993h2M778 1005h2M778 1007h2M778 1009h2M778 1011h2M778 1013h2M778 1015h2M778 1019h2M778 1021h2M778 1023h2M778 1025h2M778 1027h2M778 1029h2M778 1037h2M778 1045h2M778 1079h2M780 983h2M780 987h2M780 995h2M780 997h2M780 999h2M780 1003h2M780 1005h2M780 1007h2M780 1011h2M780 1015h2M780 1017h2M780 1019h2M780 1021h2M780 1023h2M780 1025h2M780 1029h2M780 1031h2M780 1037h2M780 1045h2M782 985h2M782 991h2M782 997h2M782 1003h2M782 1005h2M782 1007h2M782 1009h2M782 1011h2M782 1015h2M782 1021h2M782 1023h2M782 1027h2M782 1031h2M782 1033h2M782 1043h2M782 1057h2M784 981h2M784 987h2M784 997h2M784 999h2M784 1001h2M784 1007h2M784 1009h2M784 1011h2M784 1013h2M784 1015h2M784 1017h2M784 1021h2M784 1023h2M784 1025h2M784 1027h2M784 1029h2M784 1031h2M784 1033h2M784 1035h2M784 1037h2M784 1039h2M784 1043h2M786 983h2M786 985h2M786 993h2M786 997h2M786 999h2M786 1001h2M786 1007h2M786 1009h2M786 1011h2M786 1013h2M786 1015h2M786 1017h2M786 1019h2M786 1021h2M786 1023h2M786 1025h2M786 1027h2M786 1029h2M786 1031h2M786 1033h2M786 1041h2M788 975h2M788 987h2M788 991h2M788 993h2M788 997h2M788 999h2M788 1001h2M788 1003h2M788 1005h2M788 1011h2M788 1013h2M788 1015h2M788 1017h2M788 1019h2M788 1021h2M788 1023h2M788 1025h2M788 1027h2M788 1029h2M788 1031h2M788 1035h2M788 1037h2M788 1045h2M790 969h2M790 981h2M790 985h2M790 987h2M790 991h2M790 993h2M790 997h2M790 999h2M790 1001h2M790 1005h2M790 1007h2M790 1009h2M790 1011h2M790 1013h2M790 1015h2M790 1019h2M790 1021h2M790 1023h2M790 1025h2M790 1027h2M790 1029h2M790 1033h2M790 1035h2M790 1037h2M790 1043h2M790 1057h2M792 987h2M792 993h2M792 999h2M792 1001h2M792 1003h2M792 1005h2M792 1007h2M792 1009h2M792 1013h2M792 1015h2M792 1017h2M792 1019h2M792 1021h2M792 1023h2M792 1025h2M792 1029h2M792 1031h2M792 1033h2M792 1035h2M792 1043h2M792 1045h2M792 1073h2M794 981h2M794 987h2M794 989h2M794 991h2M794 993h2M794 995h2M794 997h2M794 999h2M794 1001h2M794 1003h2M794 1005h2M794 1007h2M794 1009h2M794 1011h2M794 1013h2M794 1015h2M794 1017h2M794 1019h2M794 1021h2M794 1023h2M794 1025h2M794 1027h2M794 1029h2M794 1035h2M794 1039h2M794 1041h2M794 1051h2M794 1057h2M796 987h2M796 993h2M796 995h2M796 997h2M796 1001h2M796 1003h2M796 1007h2M796 1009h2M796 1011h2M796 1013h2M796 1015h2M796 1019h2M796 1021h2M796 1023h2M796 1025h2M796 1027h2M796 1029h2M796 1033h2M796 1037h2M796 1049h2M798 977h2M798 981h2M798 983h2M798 985h2M798 987h2M798 991h2M798 995h2M798 997h2M798 1001h2M798 1003h2M798 1005h2M798 1007h2M798 1009h2M798 1011h2M798 1013h2M798 1017h2M798 1019h2M798 1021h2M798 1025h2M798 1027h2M798 1029h2M798 1033h2M798 1035h2M798 1037h2M798 1041h2M798 1045h2M798 1051h2M798 1053h2M798 1205h2M800 961h2M800 979h2M800 991h2M800 997h2M800 999h2M800 1003h2M800 1005h2M800 1009h2M800 1011h2M800 1013h2M800 1015h2M800 1017h2M800 1021h2M800 1023h2M800 1025h2M800 1027h2M800 1029h2M800 1031h2M800 1033h2M800 1035h2M800 1043h2M800 1045h2M800 1059h2M802 987h2M802 989h2M802 991h2M802 997h2M802 999h2M802 1003h2M802 1005h2M802 1007h2M802 1009h2M802 1015h2M802 1017h2M802 1021h2M802 1023h2M802 1025h2M802 1027h2M802 1031h2M802 1033h2M802 1035h2M802 1037h2M802 1041h2M802 1045h2M802 1049h2M802 1081h2M804 969h2M804 987h2M804 989h2M804 991h2M804 993h2M804 995h2M804 999h2M804 1003h2M804 1007h2M804 1009h2M804 1011h2M804 1013h2M804 1017h2M804 1019h2M804 1021h2M804 1025h2M804 1027h2M804 1029h2M804 1031h2M804 1033h2M804 1035h2M804 1037h2M804 1041h2M804 1043h2M804 1045h2M804 1057h2M804 1071h2M804 1123h2M804 1155h2M806 979h2M806 989h2M806 991h2M806 1001h2M806 1003h2M806 1005h2M806 1009h2M806 1011h2M806 1013h2M806 1015h2M806 1017h2M806 1019h2M806 1021h2M806 1025h2M806 1027h2M806 1029h2M806 1033h2M806 1035h2M806 1037h2M806 1043h2M806 1045h2M806 1047h2M806 1051h2M806 1055h2M806 1077h2M808 967h2M808 993h2M808 995h2M808 997h2M808 999h2M808 1001h2M808 1003h2M808 1005h2M808 1007h2M808 1009h2M808 1011h2M808 1013h2M808 1015h2M808 1017h2M808 1019h2M808 1021h2M808 1023h2M808 1027h2M808 1029h2M808 1031h2M808 1041h2M808 1043h2M808 1047h2M808 1049h2M808 1051h2M808 1057h2M808 1063h2M808 1069h2M808 1105h2M810 979h2M810 981h2M810 987h2M810 995h2M810 1001h2M810 1005h2M810 1007h2M810 1009h2M810 1011h2M810 1013h2M810 1017h2M810 1019h2M810 1021h2M810 1023h2M810 1025h2M810 1027h2M810 1031h2M810 1033h2M810 1035h2M810 1041h2M810 1043h2M810 1045h2M810 1047h2M810 1061h2M812 989h2M812 995h2M812 997h2M812 999h2M812 1001h2M812 1005h2M812 1007h2M812 1009h2M812 1011h2M812 1013h2M812 1015h2M812 1017h2M812 1021h2M812 1023h2M812 1025h2M812 1027h2M812 1029h2M812 1031h2M812 1033h2M812 1035h2M812 1037h2M812 1045h2M812 1053h2M812 1061h2M812 1131h2M814 965h2M814 989h2M814 993h2M814 997h2M814 999h2M814 1003h2M814 1005h2M814 1007h2M814 1009h2M814 1011h2M814 1013h2M814 1015h2M814 1017h2M814 1019h2M814 1021h2M814 1023h2M814 1025h2M814 1027h2M814 1031h2M814 1033h2M814 1035h2M814 1039h2M814 1043h2M814 1045h2M814 1047h2M814 1049h2M814 1055h2M814 1069h2M814 1085h2M814 1121h2M814 1165h2M816 977h2M816 989h2M816 997h2M816 999h2M816 1003h2M816 1005h2M816 1007h2M816 1009h2M816 1011h2M816 1013h2M816 1015h2M816 1017h2M816 1019h2M816 1021h2M816 1023h2M816 1027h2M816 1029h2M816 1031h2M816 1033h2M816 1039h2M816 1041h2M816 1043h2M816 1045h2M816 1051h2M816 1061h2M816 1077h2M818 985h2M818 991h2M818 995h2M818 997h2M818 999h2M818 1001h2M818 1003h2M818 1005h2M818 1007h2M818 1009h2M818 1011h2M818 1013h2M818 1015h2M818 1017h2M818 1019h2M818 1021h2M818 1023h2M818 1025h2M818 1027h2M818 1029h2M818 1031h2M818 1033h2M818 1035h2M818 1037h2M818 1039h2M818 1047h2M818 1059h2M818 1061h2M818 1065h2M818 1067h2M818 1077h2M818 1079h2M818 1089h2M818 1093h2M818 1095h2M820 969h2M820 983h2M820 989h2M820 991h2M820 993h2M820 995h2M820 997h2M820 999h2M820 1001h2M820 1003h2M820 1005h2M820 1007h2M820 1009h2M820 1011h2M820 1013h2M820 1015h2M820 1017h2M820 1019h2M820 1021h2M820 1023h2M820 1025h2M820 1029h2M820 1031h2M820 1033h2M820 1035h2M820 1039h2M820 1041h2M820 1043h2M820 1045h2M820 1047h2M820 1049h2M820 1051h2M820 1057h2M822 975h2M822 979h2M822 983h2M822 987h2M822 989h2M822 993h2M822 995h2M822 997h2M822 999h2M822 1001h2M822 1003h2M822 1007h2M822 1009h2M822 1011h2M822 1013h2M822 1015h2M822 1017h2M822 1019h2M822 1021h2M822 1023h2M822 1025h2M822 1027h2M822 1029h2M822 1031h2M822 1033h2M822 1035h2M822 1037h2M822 1039h2M822 1041h2M822 1049h2M822 1051h2M822 1053h2M822 1055h2M822 1059h2M822 1065h2M822 1071h2M822 1093h2M824 987h2M824 997h2M824 999h2M824 1001h2M824 1003h2M824 1005h2M824 1007h2M824 1009h2M824 1011h2M824 1013h2M824 1015h2M824 1017h2M824 1019h2M824 1021h2M824 1023h2M824 1025h2M824 1027h2M824 1029h2M824 1031h2M824 1033h2M824 1035h2M824 1037h2M824 1039h2M824 1041h2M824 1043h2M824 1045h2M824 1049h2M824 1055h2M824 1063h2M824 1085h2M824 1095h2M824 1145h2M826 983h2M826 985h2M826 989h2M826 993h2M826 995h2M826 997h2M826 1001h2M826 1003h2M826 1005h2M826 1007h2M826 1009h2M826 1011h2M826 1013h2M826 1015h2M826 1017h2M826 1019h2M826 1021h2M826 1023h2M826 1025h2M826 1027h2M826 1029h2M826 1031h2M826 1033h2M826 1035h2M826 1037h2M826 1039h2M826 1041h2M826 1047h2M826 1053h2M826 1061h2M826 1067h2M826 1075h2M826 1127h2M828 971h2M828 985h2M828 989h2M828 991h2M828 993h2M828 995h2M828 997h2M828 999h2M828 1001h2M828 1003h2M828 1005h2M828 1007h2M828 1009h2M828 1011h2M828 1013h2M828 1015h2M828 1017h2M828 1019h2M828 1021h2M828 1023h2M828 1025h2M828 1027h2M828 1029h2M828 1031h2M828 1033h2M828 1035h2M828 1037h2M828 1039h2M828 1043h2M828 1045h2M828 1049h2M828 1051h2M828 1055h2M828 1057h2M828 1061h2M828 1063h2M828 1067h2M828 1069h2M828 1079h2M828 1081h2M828 1085h2M830 983h2M830 987h2M830 993h2M830 995h2M830 997h2M830 999h2M830 1001h2M830 1003h2M830 1005h2M830 1007h2M830 1009h2M830 1011h2M830 1013h2M830 1015h2M830 1017h2M830 1019h2M830 1021h2M830 1023h2M830 1025h2M830 1027h2M830 1029h2M830 1031h2M830 1033h2M830 1035h2M830 1037h2M830 1039h2M830 1041h2M830 1043h2M830 1045h2M830 1047h2M830 1049h2M830 1051h2M830 1059h2M830 1063h2M830 1067h2M830 1075h2M830 1115h2M830 1131h2M832 971h2M832 973h2M832 975h2M832 983h2M832 985h2M832 991h2M832 993h2M832 995h2M832 997h2M832 999h2M832 1001h2M832 1003h2M832 1005h2M832 1007h2M832 1009h2M832 1011h2M832 1013h2M832 1015h2M832 1017h2M832 1019h2M832 1021h2M832 1023h2M832 1025h2M832 1027h2M832 1029h2M832 1031h2M832 1033h2M832 1035h2M832 1037h2M832 1039h2M832 1041h2M832 1043h2M832 1045h2M832 1047h2M832 1049h2M832 1053h2M832 1059h2M832 1065h2M832 1071h2M832 1075h2M832 1077h2M832 1091h2M834 965h2M834 973h2M834 977h2M834 979h2M834 981h2M834 983h2M834 985h2M834 989h2M834 991h2M834 993h2M834 995h2M834 997h2M834 999h2M834 1001h2M834 1003h2M834 1005h2M834 1007h2M834 1009h2M834 1011h2M834 1013h2M834 1015h2M834 1017h2M834 1019h2M834 1021h2M834 1023h2M834 1025h2M834 1027h2M834 1029h2M834 1031h2M834 1033h2M834 1035h2M834 1037h2M834 1039h2M834 1041h2M834 1043h2M834 1047h2M834 1053h2M834 1061h2M834 1065h2M834 1089h2M834 1097h2M834 1123h2M836 933h2M836 969h2M836 973h2M836 977h2M836 981h2M836 985h2M836 987h2M836 989h2M836 991h2M836 993h2M836 995h2M836 997h2M836 999h2M836 1001h2M836 1003h2M836 1005h2M836 1007h2M836 1009h2M836 1011h2M836 1013h2M836 1015h2M836 1017h2M836 1019h2M836 1021h2M836 1023h2M836 1025h2M836 1027h2M836 1029h2M836 1031h2M836 1033h2M836 1035h2M836 1037h2M836 1039h2M836 1041h2M836 1045h2M836 1047h2M836 1057h2M836 1059h2M836 1071h2M836 1077h2M836 1081h2M836 1101h2M838 975h2M838 979h2M838 981h2M838 983h2M838 985h2M838 987h2M838 989h2M838 991h2M838 993h2M838 995h2M838 997h2M838 999h2M838 1001h2M838 1003h2M838 1005h2M838 1007h2M838 1009h2M838 1011h2M838 1013h2M838 1015h2M838 1017h2M838 1019h2M838 1021h2M838 1023h2M838 1025h2M838 1027h2M838 1029h2M838 1031h2M838 1033h2M838 1035h2M838 1037h2M838 1039h2M838 1043h2M838 1051h2M838 1061h2M838 1067h2M838 1069h2M838 1081h2M838 1089h2M838 1105h2M838 1109h2M840 967h2M840 973h2M840 979h2M840 981h2M840 983h2M840 985h2M840 987h2M840 989h2M840 991h2M840 993h2M840 995h2M840 997h2M840 999h2M840 1001h2M840 1003h2M840 1005h2M840 1007h2M840 1009h2M840 1011h2M840 1013h2M840 1015h2M840 1017h2M840 1019h2M840 1021h2M840 1023h2M840 1025h2M840 1027h2M840 1029h2M840 1031h2M840 1033h2M840 1035h2M840 1037h2M840 1039h2M840 1043h2M840 1045h2M840 1047h2M840 1049h2M840 1051h2M840 1053h2M840 1067h2M840 1071h2M840 1083h2M840 1101h2M842 977h2M842 979h2M842 981h2M842 987h2M842 989h2M842 991h2M842 993h2M842 995h2M842 997h2M842 999h2M842 1001h2M842 1003h2M842 1005h2M842 1007h2M842 1009h2M842 1011h2M842 1013h2M842 1015h2M842 1017h2M842 1019h2M842 1021h2M842 1023h2M842 1025h2M842 1027h2M842 1029h2M842 1031h2M842 1033h2M842 1035h2M842 1039h2M842 1047h2M842 1061h2M844 965h2M844 975h2M844 977h2M844 979h2M844 981h2M844 983h2M844 985h2M844 987h2M844 989h2M844 991h2M844 993h2M844 995h2M844 997h2M844 999h2M844 1001h2M844 1003h2M844 1005h2M844 1007h2M844 1009h2M844 1011h2M844 1013h2M844 1015h2M844 1017h2M844 1019h2M844 1021h2M844 1023h2M844 1025h2M844 1027h2M844 1029h2M844 1031h2M844 1035h2M844 1037h2M844 1041h2M844 1047h2M844 1085h2M846 967h2M846 975h2M846 977h2M846 979h2M846 981h2M846 983h2M846 985h2M846 987h2M846 989h2M846 991h2M846 993h2M846 995h2M846 997h2M846 999h2M846 1001h2M846 1003h2M846 1005h2M846 1007h2M846 1009h2M846 1011h2M846 1013h2M846 1015h2M846 1017h2M846 1019h2M846 1021h2M846 1023h2M846 1025h2M846 1027h2M846 1029h2M846 1031h2M846 1033h2M846 1035h2M846 1037h2M846 1039h2M846 1041h2M846 1047h2M846 1071h2M848 975h2M848 979h2M848 981h2M848 983h2M848 985h2M848 987h2M848 989h2M848 991h2M848 993h2M848 995h2M848 997h2M848 999h2M848 1001h2M848 1003h2M848 1005h2M848 1007h2M848 1009h2M848 1011h2M848 1013h2M848 1015h2M848 1017h2M848 1019h2M848 1021h2M848 1023h2M848 1025h2M848 1027h2M848 1029h2M848 1031h2M848 1033h2M848 1035h2M848 1039h2M848 1041h2M848 1047h2M848 1053h2M848 1075h2M850 949h2M850 965h2M850 971h2M850 977h2M850 979h2M850 981h2M850 983h2M850 985h2M850 987h2M850 989h2M850 991h2M850 993h2M850 995h2M850 997h2M850 999h2M850 1001h2M850 1003h2M850 1005h2M850 1007h2M850 1009h2M850 1011h2M850 1013h2M850 1015h2M850 1017h2M850 1019h2M850 1021h2M850 1023h2M850 1025h2M850 1027h2M850 1031h2M850 1033h2M850 1037h2M850 1039h2M850 1041h2M850 1053h2M852 955h2M852 957h2M852 967h2M852 971h2M852 981h2M852 985h2M852 987h2M852 989h2M852 991h2M852 993h2M852 995h2M852 997h2M852 999h2M852 1001h2M852 1003h2M852 1005h2M852 1007h2M852 1009h2M852 1011h2M852 1013h2M852 1015h2M852 1017h2M852 1019h2M852 1023h2M852 1025h2M852 1027h2M852 1029h2M852 1031h2M852 1035h2M852 1043h2M852 1045h2M852 1047h2M852 1049h2M852 1057h2M852 1061h2M852 1065h2M854 961h2M854 969h2M854 973h2M854 975h2M854 977h2M854 979h2M854 981h2M854 983h2M854 985h2M854 987h2M854 989h2M854 991h2M854 993h2M854 995h2M854 997h2M854 999h2M854 1001h2M854 1003h2M854 1005h2M854 1007h2M854 1009h2M854 1011h2M854 1013h2M854 1015h2M854 1017h2M854 1021h2M854 1023h2M854 1025h2M854 1027h2M854 1029h2M854 1031h2M854 1033h2M854 1035h2M854 1037h2M854 1041h2M854 1043h2M854 1045h2M854 1051h2M854 1053h2M854 1061h2M856 945h2M856 951h2M856 963h2M856 975h2M856 977h2M856 981h2M856 983h2M856 985h2M856 987h2M856 989h2M856 991h2M856 993h2M856 995h2M856 997h2M856 999h2M856 1001h2M856 1003h2M856 1005h2M856 1007h2M856 1009h2M856 1011h2M856 1013h2M856 1015h2M856 1017h2M856 1019h2M856 1021h2M856 1023h2M856 1025h2M856 1027h2M856 1029h2M856 1031h2M856 1033h2M856 1035h2M856 1049h2M856 1051h2M856 1057h2M856 1059h2M858 953h2M858 971h2M858 973h2M858 975h2M858 977h2M858 979h2M858 981h2M858 983h2M858 985h2M858 987h2M858 989h2M858 991h2M858 993h2M858 995h2M858 997h2M858 999h2M858 1001h2M858 1003h2M858 1005h2M858 1007h2M858 1009h2M858 1011h2M858 1013h2M858 1015h2M858 1017h2M858 1021h2M858 1023h2M858 1025h2M858 1027h2M858 1029h2M858 1031h2M858 1033h2M858 1035h2M858 1041h2M858 1047h2M858 1049h2M860 965h2M860 967h2M860 971h2M860 975h2M860 977h2M860 979h2M860 981h2M860 983h2M860 985h2M860 987h2M860 989h2M860 991h2M860 993h2M860 995h2M860 997h2M860 999h2M860 1001h2M860 1003h2M860 1005h2M860 1007h2M860 1009h2M860 1011h2M860 1013h2M860 1015h2M860 1017h2M860 1019h2M860 1021h2M860 1023h2M860 1025h2M860 1027h2M860 1029h2M860 1033h2M860 1037h2M860 1049h2M860 1061h2M860 1063h2M862 961h2M862 963h2M862 965h2M862 969h2M862 973h2M862 975h2M862 977h2M862 979h2M862 981h2M862 983h2M862 985h2M862 987h2M862 989h2M862 991h2M862 993h2M862 995h2M862 997h2M862 999h2M862 1001h2M862 1003h2M862 1005h2M862 1007h2M862 1009h2M862 1011h2M862 1013h2M862 1015h2M862 1017h2M862 1019h2M862 1021h2M862 1025h2M862 1029h2M862 1051h2M862 1057h2M864 941h2M864 949h2M864 959h2M864 965h2M864 969h2M864 971h2M864 973h2M864 975h2M864 977h2M864 979h2M864 981h2M864 983h2M864 985h2M864 987h2M864 989h2M864 991h2M864 993h2M864 995h2M864 997h2M864 999h2M864 1001h2M864 1003h2M864 1005h2M864 1007h2M864 1009h2M864 1011h2M864 1013h2M864 1019h2M864 1021h2M864 1023h2M864 1027h2M864 1029h2M864 1033h2M864 1035h2M864 1057h2M866 961h2M866 963h2M866 965h2M866 967h2M866 969h2M866 971h2M866 973h2M866 975h2M866 977h2M866 979h2M866 981h2M866 983h2M866 985h2M866 987h2M866 989h2M866 991h2M866 993h2M866 995h2M866 997h2M866 999h2M866 1001h2M866 1003h2M866 1005h2M866 1007h2M866 1009h2M866 1013h2M866 1015h2M866 1017h2M866 1021h2M866 1023h2M866 1029h2M866 1033h2M866 1035h2M866 1037h2M866 1041h2M868 933h2M868 959h2M868 965h2M868 969h2M868 971h2M868 973h2M868 975h2M868 977h2M868 979h2M868 981h2M868 983h2M868 985h2M868 987h2M868 989h2M868 991h2M868 993h2M868 995h2M868 997h2M868 999h2M868 1001h2M868 1003h2M868 1005h2M868 1007h2M868 1009h2M868 1015h2M868 1019h2M868 1021h2M868 1023h2M868 1025h2M868 1029h2M870 955h2M870 963h2M870 965h2M870 969h2M870 971h2M870 973h2M870 975h2M870 977h2M870 979h2M870 981h2M870 983h2M870 985h2M870 987h2M870 989h2M870 991h2M870 993h2M870 995h2M870 997h2M870 999h2M870 1001h2M870 1005h2M870 1007h2M870 1009h2M870 1011h2M870 1013h2M870 1017h2M870 1019h2M870 1023h2M870 1031h2M870 1033h2M872 935h2M872 939h2M872 965h2M872 967h2M872 969h2M872 971h2M872 973h2M872 975h2M872 977h2M872 979h2M872 981h2M872 983h2M872 985h2M872 987h2M872 989h2M872 991h2M872 993h2M872 995h2M872 997h2M872 999h2M872 1001h2M872 1003h2M872 1005h2M872 1007h2M872 1013h2M872 1015h2M872 1017h2M872 1019h2M874 929h2M874 947h2M874 953h2M874 961h2M874 963h2M874 965h2M874 967h2M874 971h2M874 973h2M874 975h2M874 977h2M874 979h2M874 981h2M874 983h2M874 985h2M874 987h2M874 989h2M874 993h2M874 995h2M874 997h2M874 999h2M874 1001h2M874 1003h2M874 1005h2M874 1011h2M874 1013h2M874 1015h2M874 1017h2M876 957h2M876 961h2M876 963h2M876 967h2M876 969h2M876 971h2M876 973h2M876 975h2M876 977h2M876 979h2M876 981h2M876 983h2M876 985h2M876 987h2M876 989h2M876 991h2M876 993h2M876 995h2M876 997h2M876 999h2M876 1001h2M876 1003h2M876 1005h2M876 1007h2M876 1011h2M878 913h2M878 955h2M878 959h2M878 961h2M878 963h2M878 965h2M878 967h2M878 969h2M878 971h2M878 973h2M878 975h2M878 979h2M878 981h2M878 983h2M878 985h2M878 987h2M878 989h2M878 991h2M878 993h2M878 995h2M878 999h2M878 1001h2M878 1003h2M878 1005h2M878 1007h2M878 1009h2M878 1011h2M880 943h2M880 945h2M880 951h2M880 957h2M880 963h2M880 965h2M880 967h2M880 969h2M880 971h2M880 973h2M880 975h2M880 977h2M880 979h2M880 981h2M880 983h2M880 985h2M880 987h2M880 989h2M880 991h2M880 993h2M880 997h2M880 999h2M880 1001h2M880 1003h2M880 1005h2M880 1007h2M882 935h2M882 943h2M882 953h2M882 961h2M882 963h2M882 965h2M882 967h2M882 969h2M882 971h2M882 973h2M882 975h2M882 977h2M882 979h2M882 981h2M882 983h2M882 985h2M882 987h2M882 995h2M882 997h2M882 999h2M882 1003h2M882 1005h2M884 957h2M884 963h2M884 965h2M884 967h2M884 969h2M884 971h2M884 973h2M884 975h2M884 977h2M884 979h2M884 981h2M884 983h2M884 987h2M884 989h2M884 995h2M884 997h2M886 949h2M886 953h2M886 959h2M886 961h2M886 963h2M886 965h2M886 967h2M886 969h2M886 971h2M886 973h2M886 975h2M886 977h2M886 979h2M886 981h2M886 983h2M886 985h2M886 989h2M886 991h2M886 1003h2M888 949h2M888 953h2M888 957h2M888 961h2M888 963h2M888 965h2M888 967h2M888 969h2M888 971h2M888 973h2M888 975h2M888 977h2M888 979h2M888 981h2M888 983h2M888 985h2M890 919h2M890 935h2M890 941h2M890 945h2M890 951h2M890 955h2M890 957h2M890 959h2M890 961h2M890 963h2M890 965h2M890 967h2M890 969h2M890 971h2M890 975h2M890 977h2M890 981h2M890 983h2M890 993h2M892 945h2M892 949h2M892 959h2M892 963h2M892 965h2M892 967h2M892 969h2M892 971h2M892 975h2M892 977h2M894 933h2M894 951h2M894 953h2M894 963h2M894 965h2M894 977h2M894 983h2M896 933h2M896 935h2M896 955h2M896 957h2M896 965h2M896 969h2M896 975h2M898 941h2M898 943h2M898 951h2M898 957h2M900 925h2M900 947h2M900 955h2M900 961h2M900 965h2M902 923h2M902 949h2M902 953h2M904 913h2M904 915h2M904 959h2M906 917h2M908 907h2M910 917h2M912 891h2M912 905h2M912 941h2M914 895h2M914 901h2M914 915h2M914 917h2M916 905h2M916 907h2M918 915h2M920 907h2M922 903h2M924 905h2M924 909h2M926 925h2M928 895h2M928 897h2M930 887h2M930 899h2M930 903h2M932 853h2M932 891h2M932 903h2M936 897h2M936 899h2M936 905h2M938 873h2M938 881h2M938 905h2M954 865h2M954 879h2" stroke="#f40a0a" stroke-width="2" fill="none"/><path d="M758 1035h2M766 1015h2M772 1059h2M778 1033h2M782 995h2M786 1091h2M788 1111h2M792 985h2M794 1027h2M798 1045h2M798 1125h2M804 1035h2M806 1015h2M808 1053h2M810 1031h2M812 985h2M812 1055h2M814 1047h2M816 1009h2M816 1107h2M818 1025h2M820 1005h2M822 1051h2M824 1009h2M826 937h2M828 1005h2M830 961h2M830 1025h2M830 1089h2M832 1035h2M834 1027h2M836 1027h2M836 1107h2M838 991h2M842 969h2M842 1055h2M844 1075h2M846 937h2M846 1167h2M850 963h2M850 1137h2M852 1003h2M852 1127h2M854 1021h2M856 1059h2M858 961h2M860 935h2M860 973h2M862 929h2M862 995h2M864 937h2M866 941h2M866 1031h2M868 997h2M870 931h2M872 939h2M874 931h2M876 929h2M876 1057h2M878 923h2M878 955h2M880 951h2M882 927h2M882 951h2M884 905h2M884 1011h2M886 947h2M890 921h2M892 915h2M894 889h2M894 935h2M896 913h2M896 1029h2M898 995h2M900 935h2M902 921h2M906 907h2M908 887h2M910 909h2M912 1033h2M916 877h2M916 905h2M918 903h2M920 911h2M924 913h2M928 885h2M930 901h2M934 887h2M936 887h2M938 901h2M940 899h2M942 899h2M944 883h2M948 851h2M952 875h2M960 873h2M968 847h2M974 859h2M988 857h2" stroke="#111" stroke-width="2" fill="none"/><path d="M780 1033h2M784 1027h2M790 1035h2M792 1033h2M794 1019h2M796 1007h2M796 1039h2M796 1087h2M798 1019h2M798 1059h2M800 1009h2M800 1029h2M800 1079h2M802 1097h2M802 1165h2M804 1019h2M804 1029h2M804 1043h2M804 1061h2M806 1029h2M808 1077h2M808 1079h2M808 1089h2M810 1047h2M814 1001h2M814 1009h2M814 1061h2M814 1067h2M814 1091h2M816 1061h2M818 1013h2M818 1017h2M818 1039h2M818 1107h2M818 1143h2M820 1029h2M820 1081h2M824 993h2M824 1035h2M824 1057h2M824 1059h2M824 1067h2M824 1131h2M826 1029h2M826 1033h2M826 1039h2M828 1015h2M828 1133h2M830 1053h2M830 1107h2M832 1005h2M832 1039h2M832 1043h2M832 1051h2M832 1057h2M834 999h2M834 1125h2M836 1003h2M836 1019h2M836 1033h2M836 1035h2M836 1051h2M838 1031h2M838 1037h2M838 1067h2M840 1057h2M840 1157h2M842 1019h2M842 1035h2M842 1053h2M842 1059h2M844 1017h2M844 1055h2M846 1047h2M848 1005h2M848 1011h2M848 1029h2M848 1039h2M848 1059h2M848 1125h2M848 1193h2M850 1057h2M852 1065h2M852 1077h2M852 1083h2M852 1091h2M854 991h2M854 1047h2M854 1089h2M854 1109h2M856 1023h2M858 1063h2M860 1019h2M860 1049h2M862 1041h2M864 1055h2M864 1089h2M864 1101h2M866 1007h2M866 1087h2M868 1021h2M868 1047h2M868 1049h2M870 1019h2M872 1023h2M874 1037h2M874 1091h2M878 1007h2M888 1017h2M894 1047h2" stroke="#c020c8" stroke-width="2" fill="none"/><path d="M920 887h2M920 889h2M922 893h2M922 905h2M924 891h2M928 909h2M932 877h2M938 879h2M940 891h2M940 895h2M942 863h2M942 879h2M942 883h2M944 879h2M954 865h2M954 875h2M956 879h2M958 881h2M958 885h2M960 855h2M964 873h2M968 853h2M972 847h2M972 867h2M972 871h2M974 855h2M976 873h2M1004 841h2" stroke="#1818c0" stroke-width="2" fill="none"/><path d="M812 1020.9h1.7M814 1014.9h1.7M816 1028.8h1.7M818 1012.9h1.7M818 1014.9h1.7M818 1020.9h1.7M818 1028.8h1.7M820 996.9h1.7M820 1018.9h1.7M820 1032.8h1.7M822 1026.8h1.7M824 1008.9h1.7M826 1000.9h1.7M826 1008.9h1.7M828 1000.9h1.7M828 1014.9h1.7M830 984.9h1.7M830 1002.9h1.7M832 996.9h1.7M832 1004.9h1.7M832 1032.8h1.7M834 1006.9h1.7M836 992.9h1.7M836 1000.9h1.7M836 1008.9h1.7M836 1012.9h1.7M836 1014.9h1.7M836 1018.9h1.7M836 1030.8h1.7M838 1000.9h1.7M838 1002.9h1.7M838 1004.9h1.7M838 1012.9h1.7M838 1020.9h1.7M838 1022.9h1.7M838 1028.8h1.7M840 996.9h1.7M840 1002.9h1.7M840 1018.9h1.7M840 1032.8h1.7M842 992.9h1.7M842 1002.9h1.7M842 1012.9h1.7M842 1016.9h1.7M842 1022.9h1.7M842 1024.8h1.7M844 990.9h1.7M844 994.9h1.7M844 998.9h1.7M844 1010.9h1.7M844 1012.9h1.7M846 996.9h1.7M846 1000.9h1.7M846 1012.9h1.7M848 984.9h1.7M848 992.9h1.7M848 998.9h1.7M848 1000.9h1.7M848 1008.9h1.7M850 1016.9h1.7M852 978.9h1.7M852 1008.9h1.7M852 1012.9h1.7M852 1016.9h1.7M854 984.9h1.7M854 988.9h1.7M854 1002.9h1.7M854 1004.9h1.7M854 1010.9h1.7M854 1034.8h1.7M856 970.9h1.7M856 1008.9h1.7M856 1010.9h1.7M856 1012.9h1.7M856 1016.9h1.7M858 980.9h1.7M858 984.9h1.7M858 998.9h1.7M858 1002.9h1.7M858 1004.9h1.7M860 970.9h1.7M860 990.9h1.7M862 966.9h1.7M864 980.9h1.7M864 1002.9h1.7M864 1010.9h1.7M866 978.9h1.7M866 992.9h1.7M866 1000.9h1.7M866 1006.9h1.7M868 986.9h1.7M870 980.9h1.7M872 986.9h1.7M872 990.9h1.7M872 1006.9h1.7M872 1008.9h1.7M874 962.9h1.7M874 986.9h1.7M876 964.9h1.7M878 978.9h1.7M878 980.9h1.7M882 958.9h1.7M896 984.9h1.7" stroke="#fff" stroke-width="1.7" fill="none" stroke-opacity="0.9"/><path d="M598.6 971V1108" stroke="#d01818" stroke-width="2.4"/><path d="M598.6 935v3M598.6 958v4M598.6 1112v14M598.6 1150v6M598.6 1186v4M598.6 1222v2M598.6 1240v4" stroke="#111" stroke-width="2.4"/><path d="M598.6 1090v6M598.6 1128v10M598.6 1172v5" stroke="#c020c8" stroke-width="2.4"/><path d="M598.6 1118v6M598.6 1160v5" stroke="#707020" stroke-width="2.4"/><path d="M774 1246h3M788 1246h14M812 1246h12M828 1246h3M848 1246h6" stroke="#c020c8" stroke-width="2"/><path d="M792 1246h3M806 1246h3M816 1246h5" stroke="#111" stroke-width="2"/>
<path d="M585.6 818.4H1026.7" stroke="#000" stroke-width="1.2" fill="none"/>
<path d="M1026.7 817.8V1260" stroke="#000" stroke-width="1.8" fill="none"/>
<path d="M596.6 818.4V1260" stroke="#000" stroke-width="1.2" fill="none"/>
<path d="M585.6 1249H1026.7" stroke="#000" stroke-width="2" fill="none"/>
<path d="M596.6 1249v11M665.6 1249v11M734.5 1249v11M803.5 1249v11M872.5 1249v11M941.5 1249v11M1010.4 1249v11" stroke="#000" stroke-width="1.4" fill="none"/>
<path d="M617.4 1249v7M629.5 1249v7M638.1 1249v7M644.8 1249v7M650.3 1249v7M654.9 1249v7M658.9 1249v7M662.4 1249v7M686.3 1249v7M698.5 1249v7M707.1 1249v7M713.8 1249v7M719.2 1249v7M723.9 1249v7M727.9 1249v7M731.4 1249v7M755.3 1249v7M767.4 1249v7M776.1 1249v7M782.7 1249v7M788.2 1249v7M792.8 1249v7M796.8 1249v7M800.4 1249v7M824.3 1249v7M836.4 1249v7M845 1249v7M851.7 1249v7M857.2 1249v7M861.8 1249v7M865.8 1249v7M869.3 1249v7M893.2 1249v7M905.4 1249v7M914 1249v7M920.7 1249v7M926.1 1249v7M930.8 1249v7M934.8 1249v7M938.3 1249v7M962.2 1249v7M974.4 1249v7M983 1249v7M989.7 1249v7M995.1 1249v7M999.7 1249v7M1003.7 1249v7M1007.3 1249v7" stroke="#000" stroke-width="1.7" fill="none"/>
<text x="581.8" y="1284.8" class="t">10</text><text x="607.2" y="1276.8" class="s">1</text>
<text x="650.8" y="1284.8" class="t">10</text><text x="676.2" y="1276.8" class="s">2</text>
<text x="719.7" y="1284.8" class="t">10</text><text x="745.1" y="1276.8" class="s">3</text>
<text x="788.7" y="1284.8" class="t">10</text><text x="814.1" y="1276.8" class="s">4</text>
<text x="857.7" y="1284.8" class="t">10</text><text x="883.1" y="1276.8" class="s">5</text>
<text x="926.7" y="1284.8" class="t">10</text><text x="952.1" y="1276.8" class="s">6</text>
<text x="995.6" y="1284.8" class="t">10</text><text x="1021" y="1276.8" class="s">7</text>
<path d="M596.6 1249h-11M596.6 1180h-11M596.6 1110.9h-11M596.6 1041.8h-11M596.6 972.8h-11M596.6 903.7h-11M596.6 834.6h-11" stroke="#000" stroke-width="1.4" fill="none"/>
<path d="M596.6 1228.3h-7M596.6 1216.1h-7M596.6 1207.5h-7M596.6 1200.8h-7M596.6 1195.3h-7M596.6 1190.7h-7M596.6 1186.7h-7M596.6 1183.1h-7M596.6 1159.2h-7M596.6 1147h-7M596.6 1138.4h-7M596.6 1131.7h-7M596.6 1126.2h-7M596.6 1121.6h-7M596.6 1117.6h-7M596.6 1114.1h-7M596.6 1090.1h-7M596.6 1078h-7M596.6 1069.3h-7M596.6 1062.6h-7M596.6 1057.2h-7M596.6 1052.5h-7M596.6 1048.5h-7M596.6 1045h-7M596.6 1021h-7M596.6 1008.9h-7M596.6 1000.3h-7M596.6 993.6h-7M596.6 988.1h-7M596.6 983.5h-7M596.6 979.5h-7M596.6 975.9h-7M596.6 952h-7M596.6 939.8h-7M596.6 931.2h-7M596.6 924.5h-7M596.6 919h-7M596.6 914.4h-7M596.6 910.4h-7M596.6 906.9h-7M596.6 882.9h-7M596.6 870.7h-7M596.6 862.1h-7M596.6 855.4h-7M596.6 850h-7M596.6 845.3h-7M596.6 841.3h-7M596.6 837.8h-7" stroke="#000" stroke-width="1.7" fill="none"/>
<g transform="translate(576.3 1249) rotate(-90)"><text x="-13.6" y="0" class="t">10</text><text x="12.2" y="-11.9" class="s">1</text></g>
<g transform="translate(576.3 1180) rotate(-90)"><text x="-13.6" y="0" class="t">10</text><text x="12.2" y="-11.9" class="s">2</text></g>
<g transform="translate(576.3 1110.9) rotate(-90)"><text x="-13.6" y="0" class="t">10</text><text x="12.2" y="-11.9" class="s">3</text></g>
<g transform="translate(576.3 1041.8) rotate(-90)"><text x="-13.6" y="0" class="t">10</text><text x="12.2" y="-11.9" class="s">4</text></g>
<g transform="translate(576.3 972.8) rotate(-90)"><text x="-13.6" y="0" class="t">10</text><text x="12.2" y="-11.9" class="s">5</text></g>
<g transform="translate(576.3 903.7) rotate(-90)"><text x="-13.6" y="0" class="t">10</text><text x="12.2" y="-11.9" class="s">6</text></g>
<g transform="translate(576.3 834.6) rotate(-90)"><text x="-13.6" y="0" class="t">10</text><text x="12.2" y="-11.9" class="s">7</text></g>
<text x="798.4" y="806.7" class="t" text-anchor="middle" textLength="363" lengthAdjust="spacingAndGlyphs">01-S1_18_20220713-D7 : All Events</text>
<text x="811.7" y="1312.8" class="t" text-anchor="middle">FSC-A</text>
<text transform="translate(546.4 1032.4) rotate(-90)" class="t" text-anchor="middle">SSC-A</text>
<text x="537.1" y="732.8" class="L">f)</text>
</g>
<g>
<polygon points="1274.2,1248.6 1274.2,1248.6 1274.8,1244.5 1275.3,1245.6 1275.9,1237.2 1276.4,1240.9 1277,1238.4 1277.5,1236.3 1278.1,1235.8 1278.6,1232.8 1279.2,1238.9 1279.7,1222.3 1280.2,1202.7 1280.8,1204.4 1281.3,1212.9 1281.9,1185.9 1282.4,1196.8 1283,1176.8 1283.5,1184 1284.1,1151 1284.6,1151.8 1285.2,1130.1 1285.7,1137.8 1286.3,1114.8 1286.8,1125.7 1287.4,1090.9 1287.9,1109.9 1288.5,1071.3 1289,1062 1289.6,1032.3 1290.1,1092.8 1290.7,1028.3 1291.2,1052.2 1291.8,1067.1 1292.3,1076 1292.9,1078.4 1293.4,1071.7 1294,1071.6 1294.5,1094.5 1295.1,1063.9 1295.6,1097.6 1296.1,1070.6 1296.7,1115.9 1297.2,1100.3 1297.8,1119.1 1298.3,1105.9 1298.9,1108.5 1299.4,1096.9 1300,1111.3 1300.5,1089.3 1301.1,1110.4 1301.6,1095 1302.2,1108.8 1302.7,1099.1 1303.3,1105.2 1303.8,1106.9 1304.4,1118 1304.9,1115.1 1305.5,1117.3 1306,1105.4 1306.6,1111.6 1307.1,1096.6 1307.7,1112.5 1308.2,1101.8 1308.8,1122.5 1309.3,1113.9 1309.9,1104.5 1310.4,1120.3 1311,1126.3 1311.5,1085.7 1312,1113.3 1312.6,1081.3 1313.1,1100.1 1313.7,1113.5 1314.2,1112 1314.8,1145.2 1315.3,1140.8 1315.9,1159.4 1316.4,1172.7 1317,1176.5 1317.5,1143.1 1318.1,1149.4 1318.6,1174.4 1319.2,1132.9 1319.7,1144.4 1320.3,1134.9 1320.8,1137.6 1321.4,1145 1321.9,1172.1 1322.5,1151.3 1323,1148.6 1323.6,1162.3 1324.1,1157.7 1324.7,1162.1 1325.2,1163.4 1325.8,1159.8 1326.3,1158.7 1326.9,1156.3 1327.4,1170.9 1328,1161.5 1328.5,1166.1 1329,1175.5 1329.6,1185.9 1330.1,1177.2 1330.7,1175.2 1331.2,1185.6 1331.8,1193.5 1332.3,1184.9 1332.9,1191.9 1333.4,1182 1334,1192.2 1334.5,1181.2 1335.1,1177.4 1335.6,1180.3 1336.2,1193.4 1336.7,1177.4 1337.3,1178 1337.8,1172.7 1338.4,1183.5 1338.9,1169.4 1339.5,1175.9 1340,1172.1 1340.6,1175.9 1341.1,1174.3 1341.7,1187.9 1342.2,1175.9 1342.8,1184.4 1343.3,1177.8 1343.9,1186 1344.4,1181.7 1344.9,1188 1345.5,1178.7 1346,1177.2 1346.6,1172 1347.1,1177.4 1347.7,1169.5 1348.2,1171.9 1348.8,1168.3 1349.3,1177.6 1349.9,1171.2 1350.4,1175.2 1351,1175.7 1351.5,1186.6 1352.1,1178.3 1352.6,1176.5 1353.2,1179.6 1353.7,1182.2 1354.3,1176.1 1354.8,1177.3 1355.4,1172.5 1355.9,1174.4 1356.5,1169.2 1357,1182.1 1357.6,1166.8 1358.1,1176.2 1358.7,1168.4 1359.2,1168.5 1359.8,1171.6 1360.3,1176.1 1360.8,1178.3 1361.4,1188.9 1361.9,1183.3 1362.5,1186.6 1363,1189.9 1363.6,1191.2 1364.1,1188.2 1364.7,1188.3 1365.2,1187.2 1365.8,1195.8 1366.3,1186.5 1366.9,1184.8 1367.4,1183.6 1368,1182.5 1368.5,1182.9 1369.1,1187.7 1369.6,1181.2 1370.2,1183.4 1370.7,1179.8 1371.3,1190.2 1371.8,1178 1372.4,1191.2 1372.9,1177.6 1373.5,1186.4 1374,1175.1 1374.6,1173.1 1375.1,1154.8 1375.7,1147.9 1376.2,1141.7 1376.8,1146 1377.3,1147.9 1377.8,1162.9 1378.4,1159.8 1378.9,1173.7 1379.5,1164.7 1380,1164.6 1380.6,1160.9 1381.1,1151.9 1381.7,1151.2 1382.2,1164.7 1382.8,1150.7 1383.3,1151.4 1383.9,1158.8 1384.4,1151.1 1385,1163.1 1385.5,1163.5 1386.1,1167.7 1386.6,1169.5 1387.2,1157.3 1387.7,1161 1388.3,1149.3 1388.8,1158.6 1389.4,1149.2 1389.9,1162.5 1390.5,1154 1391,1160.4 1391.6,1160.5 1392.1,1157.6 1392.7,1165.8 1393.2,1165.1 1393.7,1159.5 1394.3,1172.6 1394.8,1158 1395.4,1140.7 1395.9,1148.4 1396.5,1144.6 1397,1137.6 1397.6,1154.8 1398.1,1126.5 1398.7,1139.9 1399.2,1122.7 1399.8,1130.2 1400.3,1119.4 1400.9,1126.8 1401.4,1121.3 1402,1146.7 1402.5,1124.6 1403.1,1134.7 1403.6,1114.6 1404.2,1118.3 1404.7,1105.8 1405.3,1136.7 1405.8,1095.2 1406.4,1088.8 1406.9,1088.7 1407.5,1094.6 1408,1084.7 1408.6,1108.3 1409.1,1075.6 1409.7,1087.5 1410.2,1073.7 1410.7,1094.6 1411.3,1066.7 1411.8,1073.5 1412.4,1058 1412.9,1056.1 1413.5,1050.3 1414,1048.2 1414.6,1040.7 1415.1,1069.1 1415.7,1037.3 1416.2,1050.8 1416.8,1026 1417.3,1018 1417.9,1017.3 1418.4,1020.7 1419,1007.5 1419.5,1032.3 1420.1,1003.9 1420.6,1016 1421.2,997.7 1421.7,1014.2 1422.3,992.2 1422.8,989.6 1423.4,986.6 1423.9,989 1424.5,984.6 1425,1020.6 1425.6,973 1426.1,998.4 1426.6,970.4 1427.2,989.7 1427.7,961.3 1428.3,1008.6 1428.8,957.9 1429.4,973.4 1429.9,952.8 1430.5,957.2 1431,944.5 1431.6,951.1 1432.1,945.3 1432.7,957.9 1433.2,937.1 1433.8,963.8 1434.3,933.1 1434.9,927.2 1435.4,930.9 1436,944.5 1436.5,925.8 1437.1,951.3 1437.6,924.6 1438.2,931.7 1438.7,923.9 1439.3,917.7 1439.8,920.5 1440.4,941.6 1440.9,916.5 1441.5,956.5 1442,913.9 1442.5,913.7 1443.1,907.5 1443.6,958.4 1444.2,901 1444.7,921.3 1445.3,889.3 1445.8,914.7 1446.4,896.6 1446.9,948.7 1447.5,900.8 1448,910.8 1448.6,911.8 1449.1,941.9 1449.7,908.8 1450.2,910.3 1450.8,904.8 1451.3,909.4 1451.9,901.9 1452.4,923.4 1453,903 1453.5,904 1454.1,913.2 1454.6,922.5 1455.2,925.9 1455.7,940.9 1456.3,930.4 1456.8,972.9 1457.4,940.6 1457.9,942.5 1458.5,948.1 1459,953.7 1459.5,955.2 1460.1,975.8 1460.6,963.5 1461.2,997.2 1461.7,976.4 1462.3,1011.2 1462.8,997.3 1463.4,1070.3 1463.9,1055.8 1464.5,1044.1 1465,1071.5 1465.6,1112.3 1466.1,1083.6 1466.7,1093.1 1467.2,1093.7 1467.8,1089.9 1468.3,1083.3 1468.9,1128.5 1469.4,1080.9 1470,1119.4 1470.5,1101.4 1471.1,1118.6 1471.6,1118.9 1472.2,1119.6 1472.7,1120.7 1473.3,1130.7 1473.8,1124 1474.4,1146.2 1474.9,1123.7 1475.4,1127.9 1476,1120.9 1476.5,1139.5 1477.1,1117.4 1477.6,1119.1 1478.2,1114.1 1478.7,1162.1 1479.3,1131.3 1479.8,1160.7 1480.4,1138.3 1480.9,1156.9 1481.5,1151.7 1482,1165.4 1482.6,1153 1483.1,1163.1 1483.7,1156.5 1484.2,1160.6 1484.8,1159.6 1485.3,1182.2 1485.9,1173.3 1486.4,1180.1 1487,1181 1487.5,1186.3 1488.1,1184 1488.6,1206.6 1489.2,1192.2 1489.7,1197.8 1490.3,1197.7 1490.8,1204.6 1491.4,1201.2 1491.9,1213.1 1492.4,1202.5 1493,1217 1493.5,1206.2 1494.1,1224.2 1494.6,1210.9 1495.2,1218.3 1495.7,1216.8 1496.3,1211.3 1496.8,1218.9 1497.4,1220.1 1497.9,1222.7 1498.5,1224.2 1499,1230.1 1499.6,1227.7 1500.1,1231.5 1500.7,1241.7 1501.2,1236.3 1501.8,1237.8 1502.3,1240.3 1502.9,1247.4 1503.4,1242.4 1504,1243.5 1504.5,1244.3 1505.1,1244.9 1505.6,1244.6 1506.2,1244.6 1506.7,1244.8 1507.3,1246.7 1507.8,1245.2 1508.3,1244.9 1508.9,1245.1 1509.4,1246.3 1510,1245.4 1510.5,1248.3 1511.1,1245.6 1511.6,1245.5 1512.2,1246.2 1512.7,1246.4 1513.3,1247.2 1513.8,1248.6 1514.1,1248.6" fill="#808080" stroke="#000" stroke-width="1.6" stroke-linejoin="miter" stroke-miterlimit="9"/><polygon points="1293.1,1248.6 1293.4,1248.2 1294,1241.7 1294.5,1236.7 1295.1,1232.4 1295.6,1229.7 1296.1,1225.2 1296.7,1221.2 1297.2,1215.3 1297.8,1211.5 1298.3,1207.8 1298.9,1206 1299.4,1203.8 1300,1204 1300.5,1201.9 1301.1,1203.2 1301.6,1201.7 1302.2,1198.3 1302.7,1198.4 1303.3,1197.7 1303.8,1191.5 1304.4,1194.3 1304.9,1189.6 1305.5,1190.7 1306,1190 1306.6,1187 1307.1,1191 1307.7,1187.9 1308.2,1191.4 1308.8,1191.1 1309.3,1191.3 1309.9,1190.4 1310.4,1193.8 1311,1191.3 1311.5,1194.9 1312,1193.5 1312.6,1195.4 1313.1,1196.9 1313.7,1195.8 1314.2,1198.3 1314.8,1202.8 1315.3,1207.5 1315.9,1212.2 1316.4,1214.9 1317,1218.6 1317.5,1217.4 1318.1,1216.4 1318.6,1214 1319.2,1207.4 1319.7,1205.9 1320.3,1203.7 1320.8,1195.6 1321.4,1196.6 1321.9,1193.5 1322.5,1192.5 1323,1193.6 1323.6,1191.3 1324.1,1192.2 1324.7,1193.9 1325.2,1190.3 1325.8,1192.1 1326.3,1190 1326.9,1189.5 1327.4,1191.3 1328,1190 1328.5,1188.9 1329,1190.3 1329.6,1187.9 1330.1,1190.2 1330.7,1188.7 1331.2,1188 1331.8,1193.5 1332.3,1188 1332.9,1191.9 1333.4,1191 1334,1192.2 1334.5,1187.2 1335.1,1187.6 1335.6,1188.6 1336.2,1193.4 1336.7,1185.9 1337.3,1187.5 1337.8,1190 1338.4,1188.2 1338.9,1188 1339.5,1190.3 1340,1189.9 1340.6,1186.7 1341.1,1190.6 1341.7,1189.3 1342.2,1186.6 1342.8,1189.7 1343.3,1188.1 1343.9,1187.2 1344.4,1186.3 1344.9,1188 1345.5,1185.2 1346,1182.1 1346.6,1182.6 1347.1,1183.9 1347.7,1182.1 1348.2,1181 1348.8,1179.3 1349.3,1178.4 1349.9,1178.7 1350.4,1180.5 1351,1175.7 1351.5,1186.6 1352.1,1178.3 1352.6,1176.5 1353.2,1179.6 1353.7,1182.2 1354.3,1179.5 1354.8,1177.5 1355.4,1181.1 1355.9,1185.4 1356.5,1186.5 1357,1187.2 1357.6,1190.8 1358.1,1191 1358.7,1192.5 1359.2,1194.8 1359.8,1194.4 1360.3,1195.7 1360.8,1193.1 1361.4,1195.1 1361.9,1195 1362.5,1194 1363,1194.4 1363.6,1192.2 1364.1,1193.7 1364.7,1193 1365.2,1193.2 1365.8,1195.8 1366.3,1193.1 1366.9,1191.9 1367.4,1190 1368,1190.2 1368.5,1189.4 1369.1,1189.9 1369.6,1187.6 1370.2,1184.3 1370.7,1183.9 1371.3,1190.2 1371.8,1181.3 1372.4,1191.2 1372.9,1180.9 1373.5,1186.4 1373.6,1248.6" fill="#8a3088" stroke="#a010a8" stroke-width="1" stroke-linejoin="round"/><polygon points="1329,1248.6 1329,1247.9 1329.6,1248 1330.1,1244.5 1330.7,1245.4 1331.2,1243.9 1331.8,1240.9 1332.3,1240.7 1332.9,1238.7 1333.4,1238.5 1334,1237 1334.5,1234 1335.1,1233.4 1335.6,1231.1 1336.2,1228.5 1336.7,1226.7 1337.3,1224.1 1337.8,1225.1 1338.4,1222.4 1338.9,1221.9 1339.5,1216.7 1340,1219.1 1340.6,1215.9 1341.1,1218.2 1341.7,1216.6 1342.2,1216.1 1342.8,1214.9 1343.3,1212.9 1343.9,1213.1 1344.4,1214.2 1344.9,1214.3 1345.5,1211.3 1346,1211.9 1346.6,1209.5 1347.1,1210.1 1347.7,1207.6 1348.2,1208.4 1348.8,1208.6 1349.3,1208.8 1349.9,1204 1350.4,1205.5 1351,1203.4 1351.5,1200.4 1352.1,1200.2 1352.6,1198.2 1353.2,1200 1353.7,1198.3 1354.3,1198.4 1354.8,1200.4 1355.4,1198.5 1355.9,1198.8 1356.5,1196.9 1357,1198.1 1357.6,1197.7 1358.1,1195.8 1358.7,1195 1359.2,1193.5 1359.8,1196.3 1360.3,1194.5 1360.8,1193.1 1361.4,1194.8 1361.9,1190.2 1362.5,1195 1363,1191.2 1363.6,1191.2 1364.1,1193.8 1364.7,1191.3 1365.2,1191.6 1365.8,1195.8 1366.3,1189.1 1366.9,1191.5 1367.4,1188.9 1368,1186.7 1368.5,1187.7 1369.1,1187.7 1369.6,1187.4 1370.2,1187.7 1370.7,1186.3 1371.3,1190.2 1371.8,1185 1372.4,1191.2 1372.9,1185.4 1373.5,1186.4 1374,1184.8 1374.6,1183.7 1375.1,1182.6 1375.7,1183.3 1376.2,1182.9 1376.8,1180.4 1377.3,1181.8 1377.8,1183.1 1378.4,1180.4 1378.9,1178.4 1379.5,1179.3 1380,1178.3 1380.6,1179.1 1381.1,1177.9 1381.7,1179.9 1382.2,1177.9 1382.8,1175.8 1383.3,1175.8 1383.9,1174.9 1384.4,1172.6 1385,1174.5 1385.5,1172.8 1386.1,1168.6 1386.6,1172.5 1387.2,1170.3 1387.7,1171.4 1388.3,1170.6 1388.8,1172.4 1389.4,1169.5 1389.7,1248.6" fill="#5a2a34" stroke="#4a3010" stroke-width="0.8"/><polygon points="1389.7,1248.6 1389.9,1162.5 1390.5,1154 1391,1160.4 1391.6,1160.5 1392.1,1157.6 1392.7,1165.8 1393.2,1165.1 1393.7,1159.5 1394.3,1172.6 1394.8,1158 1395.4,1140.7 1395.9,1148.4 1396.5,1144.6 1397,1137.6 1397.6,1154.8 1398.1,1126.5 1398.7,1139.9 1399.2,1122.7 1399.8,1130.2 1400.3,1119.4 1400.9,1126.8 1401.4,1121.3 1402,1146.7 1402.5,1124.6 1403.1,1134.7 1403.6,1114.6 1404.2,1118.3 1404.7,1105.8 1405.3,1136.7 1405.8,1095.2 1406.4,1088.8 1406.9,1088.7 1407.5,1094.6 1408,1084.7 1408.6,1108.3 1409.1,1075.6 1409.7,1087.5 1410.2,1073.7 1410.7,1094.6 1411.3,1066.7 1411.8,1073.5 1412.4,1058 1412.9,1056.1 1413.5,1050.3 1414,1048.2 1414.6,1040.7 1415.1,1069.1 1415.7,1037.3 1416.2,1050.8 1416.8,1026 1417.3,1018 1417.9,1017.3 1418.4,1020.7 1419,1007.5 1419.5,1032.3 1420.1,1003.9 1420.6,1016 1421.2,997.7 1421.7,1014.2 1422.3,992.2 1422.8,989.6 1423.4,986.6 1423.9,989 1424.5,984.6 1425,1020.6 1425.6,973 1426.1,998.4 1426.6,970.4 1427.2,989.7 1427.7,961.3 1428.3,1008.6 1428.8,957.9 1429.4,973.4 1429.9,952.8 1430.5,957.2 1431,944.5 1431.6,951.1 1432.1,945.3 1432.7,957.9 1433.2,937.1 1433.8,963.8 1434.3,933.1 1434.9,927.2 1435.4,930.9 1436,944.5 1436.5,925.8 1437.1,951.3 1437.6,924.6 1438.2,931.7 1438.7,923.9 1439.3,917.7 1439.8,920.5 1440.4,941.6 1440.9,916.5 1441.5,956.5 1442,913.9 1442.5,913.7 1443.1,907.5 1443.6,958.4 1444.2,901 1444.7,921.3 1445.3,889.3 1445.8,914.7 1446.4,896.6 1446.9,948.7 1447.5,900.8 1448,910.8 1448.6,911.8 1449.1,941.9 1449.7,908.8 1450.2,910.3 1450.8,904.8 1451.3,909.4 1451.9,901.9 1452.4,923.4 1453,903 1453.5,904 1454.1,913.2 1454.6,922.5 1455.2,925.9 1455.7,940.9 1456.3,930.4 1456.8,972.9 1457.4,940.6 1457.9,942.5 1458.5,948.1 1459,953.7 1459.5,955.2 1460.1,975.8 1460.6,963.5 1461.2,997.2 1461.7,976.4 1462.3,1011.2 1462.8,997.3 1463.4,1070.3 1463.9,1055.8 1464.5,1044.1 1465,1071.5 1465.6,1112.3 1466.1,1083.6 1466.7,1093.1 1467.2,1093.7 1467.8,1089.9 1468.3,1083.3 1468.9,1128.5 1469.4,1080.9 1470,1119.4 1470.5,1101.4 1471.1,1118.6 1471.6,1118.9 1472.2,1119.6 1472.7,1120.7 1473.3,1130.7 1473.8,1124 1474.4,1146.2 1474.9,1123.7 1475.4,1127.9 1476,1120.9 1476.5,1139.5 1477.1,1117.4 1477.6,1119.1 1478.2,1114.1 1478.7,1162.1 1479.3,1131.3 1479.8,1160.7 1480.4,1138.3 1480.9,1156.9 1481.5,1151.7 1482,1165.4 1482.6,1153 1483.1,1163.1 1483.7,1156.5 1484.2,1160.6 1484.8,1159.6 1485.3,1182.2 1485.9,1173.3 1486.4,1180.1 1487,1181 1487.5,1186.3 1488.1,1184 1488.6,1206.6 1489.2,1192.2 1489.7,1197.8 1490.3,1197.7 1490.8,1204.6 1491.4,1201.2 1491.9,1213.1 1492.4,1202.5 1493,1217 1493.5,1206.2 1494.1,1224.2 1494.6,1210.9 1495.2,1218.3 1495.7,1216.8 1496.3,1211.3 1496.8,1218.9 1497.4,1220.1 1497.9,1222.7 1498.5,1224.2 1499,1230.1 1499.6,1227.7 1500.1,1231.5 1500.7,1241.7 1501.2,1236.3 1501.8,1237.8 1502.3,1240.3 1502.9,1247.4 1503.4,1242.4 1504,1243.5 1504.5,1244.3 1505.1,1244.9 1505.6,1244.6 1506.2,1244.6 1506.7,1244.8 1507.3,1246.7 1507.8,1245.2 1508.3,1244.9 1508.9,1245.1 1509.4,1246.3 1510,1245.4 1510.5,1248.3 1511.1,1245.6 1511.6,1245.5 1512.2,1246.2 1512.7,1246.4 1513.3,1247.2 1513.8,1248.6 1514.1,1248.6" fill="#000"/><polygon points="1486,1248.6 1486.4,1186.3 1487,1206.6 1487.5,1206.6 1488.1,1206.6 1488.6,1206.6 1489.2,1206.6 1489.7,1206.6 1490.3,1213.1 1490.8,1213.1 1491.4,1217 1491.9,1217 1492.4,1224.2 1493,1224.2 1493.5,1224.2 1494.1,1224.2 1494.6,1224.2 1495.2,1224.2 1495.7,1224.2 1496.3,1222.7 1496.8,1224.2 1497.4,1230.1 1497.9,1230.1 1498.5,1231.5 1499,1241.7 1499.6,1241.7 1500.1,1241.7 1500.7,1241.7 1501.2,1247.4 1501.8,1247.4 1502.3,1247.4 1502.9,1247.4 1503.4,1247.4 1504,1247.4 1504.5,1247.4 1505.1,1244.9 1505.6,1246.7 1506.2,1246.7 1506.7,1246.7 1507.3,1246.7 1507.8,1246.7 1508.3,1246.7 1508.9,1248.3 1509.4,1248.3 1510,1248.3 1510.5,1248.3 1511.1,1248.3 1511.6,1248.3 1512.2,1248.6 1512.7,1248.6 1513.3,1248.6 1513.8,1248.6 1514.1,1248.6" fill="#5a2a34"/><polygon points="1389.7,1248.6 1389.9,1162.5 1390.5,1162.5 1391,1165.8 1391.6,1165.8 1392.1,1165.8 1392.7,1172.6 1393.2,1172.6 1393.7,1172.6 1394.3,1172.6 1394.8,1172.6 1395.4,1172.6 1395.9,1172.6 1396.5,1158 1397,1154.8 1397.6,1154.8 1398.1,1154.8 1398.7,1154.8 1399.2,1154.8 1399.8,1139.9 1400.3,1146.7 1400.9,1146.7 1401.4,1146.7 1402,1146.7 1402.5,1146.7 1403.1,1146.7 1403.6,1146.7 1404.2,1136.7 1404.7,1136.7 1405.3,1136.7 1405.8,1136.7 1406.4,1136.7 1406.9,1136.7 1407.5,1108.3 1408,1108.3 1408.6,1108.3 1409.1,1108.3 1409.7,1108.3 1410.2,1108.3 1410.7,1094.6 1411.3,1094.6 1411.8,1094.6 1412.4,1094.6 1412.9,1073.5 1413.5,1073.5 1414,1069.1 1414.6,1069.1 1415.1,1069.1 1415.7,1069.1 1416.2,1069.1 1416.8,1069.1 1417.3,1050.8 1417.9,1050.8 1418.4,1032.3 1419,1032.3 1419.5,1032.3 1420.1,1032.3 1420.6,1032.3 1421.2,1032.3 1421.7,1016 1422.3,1016 1422.8,1014.2 1423.4,1020.6 1423.9,1020.6 1424.5,1020.6 1425,1020.6 1425.6,1020.6 1426.1,1020.6 1426.6,1020.6 1427.2,1008.6 1427.7,1008.6 1428.3,1008.6 1428.8,1008.6 1429.4,1008.6 1429.9,1008.6 1430.5,973.4 1431,973.4 1431.6,957.9 1432.1,963.8 1432.7,963.8 1433.2,963.8 1433.8,963.8 1434.3,963.8 1434.9,963.8 1435.4,963.8 1436,951.3 1436.5,951.3 1437.1,951.3 1437.6,951.3 1438.2,951.3 1438.7,951.3 1439.3,941.6 1439.8,956.5 1440.4,956.5 1440.9,956.5 1441.5,956.5 1442,958.4 1442.5,958.4 1443.1,958.4 1443.6,958.4 1444.2,958.4 1444.7,958.4 1445.3,958.4 1445.8,948.7 1446.4,948.7 1446.9,948.7 1447.5,948.7 1448,948.7 1448.6,948.7 1449.1,941.9 1449.7,941.9 1450.2,941.9 1450.8,941.9 1451.3,923.4 1451.9,923.4 1452.4,923.4 1453,923.4 1453.5,925.9 1454.1,940.9 1454.6,940.9 1455.2,972.9 1455.7,972.9 1456.3,972.9 1456.8,972.9 1457.4,972.9 1457.9,972.9 1458.5,975.8 1459,975.8 1459.5,997.2 1460.1,997.2 1460.6,1011.2 1461.2,1011.2 1461.7,1070.3 1462.3,1070.3 1462.8,1070.3 1463.4,1071.5 1463.9,1112.3 1464.5,1112.3 1465,1112.3 1465.6,1112.3 1466.1,1112.3 1466.7,1112.3 1467.2,1128.5 1467.8,1128.5 1468.3,1128.5 1468.9,1128.5 1469.4,1128.5 1470,1128.5 1470.5,1128.5 1471.1,1120.7 1471.6,1130.7 1472.2,1130.7 1472.7,1146.2 1473.3,1146.2 1473.8,1146.2 1474.4,1146.2 1474.9,1146.2 1475.4,1146.2 1476,1146.2 1476.5,1139.5 1477.1,1162.1 1477.6,1162.1 1478.2,1162.1 1478.7,1162.1 1479.3,1162.1 1479.8,1162.1 1480.4,1165.4 1480.9,1165.4 1481.5,1165.4 1482,1165.4 1482.6,1165.4 1483.1,1165.4 1483.7,1182.2 1484.2,1182.2 1484.8,1182.2 1485.3,1182.2 1485.9,1186.3 1486.3,1248.6" fill="#2a165e"/><path d="M1389.7 1248.6V1175.6M1486.3 1248.6V1179" stroke="#1a1a9a" stroke-width="1.2"/><rect x="1389" y="1086.2" width="119" height="29" fill="#fff" fill-opacity="0.8"/><text x="1390" y="1108.2" class="g" fill="#1010c0">P2(64.15%)</text><path d="M1390 1123.2V1144.8M1486 1123.2V1144.8M1390 1134H1486" stroke="#1414b4" stroke-width="2.2" fill="none"/><path d="M1527.8 1248.6v-3M1536.4 1248.6v-4M1539.8 1248.6v-3" stroke="#000" stroke-width="1.2"/>
<path d="M1128 818.4H1558.1" stroke="#000" stroke-width="1.2" fill="none"/>
<path d="M1558.1 817.8V1260" stroke="#000" stroke-width="1.8" fill="none"/>
<path d="M1128 818.4V1260" stroke="#000" stroke-width="2" fill="none"/>
<path d="M1117 1249H1558.1" stroke="#000" stroke-width="2" fill="none"/>
<path d="M1128 1249v11M1197 1249v11M1265.9 1249v11M1334.9 1249v11M1403.9 1249v11M1472.8 1249v11M1541.8 1249v11" stroke="#000" stroke-width="1.4" fill="none"/>
<path d="M1148.8 1249v7M1160.9 1249v7M1169.5 1249v7M1176.2 1249v7M1181.7 1249v7M1186.3 1249v7M1190.3 1249v7M1193.8 1249v7M1217.7 1249v7M1229.9 1249v7M1238.5 1249v7M1245.2 1249v7M1250.6 1249v7M1255.3 1249v7M1259.3 1249v7M1262.8 1249v7M1286.7 1249v7M1298.8 1249v7M1307.5 1249v7M1314.1 1249v7M1319.6 1249v7M1324.2 1249v7M1328.2 1249v7M1331.8 1249v7M1355.7 1249v7M1367.8 1249v7M1376.4 1249v7M1383.1 1249v7M1388.6 1249v7M1393.2 1249v7M1397.2 1249v7M1400.7 1249v7M1424.6 1249v7M1436.8 1249v7M1445.4 1249v7M1452.1 1249v7M1457.5 1249v7M1462.2 1249v7M1466.2 1249v7M1469.7 1249v7M1493.6 1249v7M1505.8 1249v7M1514.4 1249v7M1521.1 1249v7M1526.5 1249v7M1531.1 1249v7M1535.1 1249v7M1538.7 1249v7" stroke="#000" stroke-width="1.7" fill="none"/>
<text x="1113.2" y="1284.8" class="t">10</text><text x="1138.6" y="1276.8" class="s">1</text>
<text x="1182.2" y="1284.8" class="t">10</text><text x="1207.6" y="1276.8" class="s">2</text>
<text x="1251.1" y="1284.8" class="t">10</text><text x="1276.5" y="1276.8" class="s">3</text>
<text x="1320.1" y="1284.8" class="t">10</text><text x="1345.5" y="1276.8" class="s">4</text>
<text x="1389.1" y="1284.8" class="t">10</text><text x="1414.5" y="1276.8" class="s">5</text>
<text x="1458" y="1284.8" class="t">10</text><text x="1483.4" y="1276.8" class="s">6</text>
<text x="1527" y="1284.8" class="t">10</text><text x="1552.4" y="1276.8" class="s">7</text>
<path d="M1128 1249h-11M1128 1112.4h-11M1128 975.8h-11M1128 839.2h-11" stroke="#000" stroke-width="1.4" fill="none"/>
<path d="M1128 1221.7h-7M1128 1194.4h-7M1128 1167.1h-7M1128 1139.8h-7M1128 1085.1h-7M1128 1057.8h-7M1128 1030.5h-7M1128 1003.2h-7M1128 948.5h-7M1128 921.2h-7M1128 893.9h-7M1128 866.6h-7" stroke="#000" stroke-width="1.7" fill="none"/>
<text transform="translate(1107.7 1249.5) rotate(-90)" class="t" text-anchor="middle">0</text>
<text transform="translate(1107.7 1112.9) rotate(-90)" class="t" text-anchor="middle">50</text>
<text transform="translate(1107.7 976.3) rotate(-90)" class="t" text-anchor="middle">100</text>
<text transform="translate(1107.7 839.8) rotate(-90)" class="t" text-anchor="middle">150</text>
<text x="1329.8" y="806.7" class="t" text-anchor="middle" textLength="363" lengthAdjust="spacingAndGlyphs">01-S1_18_20220713-D7 : All Events</text>
<text x="1343.1" y="1312.8" class="t" text-anchor="middle">FITC-A</text>
<text transform="translate(1077.8 1032.4) rotate(-90)" class="t" text-anchor="middle">Count</text>
<text x="1068.5" y="732.8" class="L">g)</text>
</g>
<g>
<path d="M1806 1147h2M1806 1185h2M1806 1213h2M1808 997h2M1808 1003h2M1808 1041h2M1808 1055h2M1808 1057h2M1808 1089h2M1808 1103h2M1808 1121h2M1808 1131h2M1808 1161h2M1808 1167h2M1808 1173h2M1808 1177h2M1808 1179h2M1808 1193h2M1810 1005h2M1810 1019h2M1810 1035h2M1810 1037h2M1810 1039h2M1810 1041h2M1810 1045h2M1810 1049h2M1810 1053h2M1810 1087h2M1810 1089h2M1810 1095h2M1810 1109h2M1810 1113h2M1810 1121h2M1810 1125h2M1810 1131h2M1810 1137h2M1810 1141h2M1810 1145h2M1810 1149h2M1810 1151h2M1810 1163h2M1810 1165h2M1810 1167h2M1810 1169h2M1810 1181h2M1810 1187h2M1810 1195h2M1812 971h2M1812 975h2M1812 999h2M1812 1009h2M1812 1017h2M1812 1021h2M1812 1027h2M1812 1029h2M1812 1043h2M1812 1055h2M1812 1059h2M1812 1065h2M1812 1067h2M1812 1071h2M1812 1083h2M1812 1091h2M1812 1095h2M1812 1103h2M1812 1115h2M1812 1127h2M1812 1133h2M1812 1135h2M1812 1139h2M1812 1145h2M1812 1151h2M1812 1153h2M1812 1155h2M1812 1161h2M1812 1165h2M1812 1167h2M1812 1171h2M1812 1173h2M1812 1177h2M1812 1179h2M1812 1181h2M1812 1191h2M1812 1203h2M1812 1205h2M1812 1209h2M1814 983h2M1814 1005h2M1814 1017h2M1814 1051h2M1814 1071h2M1814 1077h2M1814 1079h2M1814 1083h2M1814 1085h2M1814 1101h2M1814 1103h2M1814 1119h2M1814 1127h2M1814 1133h2M1814 1143h2M1814 1145h2M1814 1153h2M1814 1155h2M1814 1161h2M1814 1167h2M1814 1169h2M1814 1191h2M1816 969h2M1816 971h2M1816 993h2M1816 1001h2M1816 1045h2M1816 1047h2M1816 1057h2M1816 1065h2M1816 1073h2M1816 1083h2M1816 1085h2M1816 1091h2M1816 1099h2M1816 1107h2M1816 1113h2M1816 1115h2M1816 1117h2M1816 1123h2M1816 1135h2M1816 1141h2M1816 1149h2M1816 1161h2M1816 1165h2M1816 1167h2M1816 1201h2M1816 1213h2M1816 1229h2M1818 965h2M1818 969h2M1818 989h2M1818 1003h2M1818 1007h2M1818 1009h2M1818 1017h2M1818 1021h2M1818 1035h2M1818 1051h2M1818 1053h2M1818 1057h2M1818 1065h2M1818 1071h2M1818 1073h2M1818 1075h2M1818 1077h2M1818 1081h2M1818 1099h2M1818 1107h2M1818 1117h2M1818 1123h2M1818 1129h2M1818 1133h2M1818 1135h2M1818 1139h2M1818 1141h2M1818 1143h2M1818 1147h2M1818 1149h2M1818 1153h2M1818 1157h2M1818 1159h2M1818 1163h2M1818 1167h2M1818 1169h2M1818 1171h2M1818 1173h2M1818 1175h2M1818 1177h2M1818 1191h2M1820 959h2M1820 973h2M1820 975h2M1820 1001h2M1820 1011h2M1820 1029h2M1820 1047h2M1820 1055h2M1820 1057h2M1820 1059h2M1820 1061h2M1820 1069h2M1820 1071h2M1820 1073h2M1820 1077h2M1820 1089h2M1820 1095h2M1820 1101h2M1820 1105h2M1820 1107h2M1820 1119h2M1820 1129h2M1820 1133h2M1820 1145h2M1820 1147h2M1820 1151h2M1820 1153h2M1820 1157h2M1820 1161h2M1820 1163h2M1820 1167h2M1820 1169h2M1820 1171h2M1820 1175h2M1820 1193h2M1820 1197h2M1820 1215h2M1820 1223h2M1820 1235h2M1822 999h2M1822 1015h2M1822 1023h2M1822 1029h2M1822 1037h2M1822 1041h2M1822 1055h2M1822 1059h2M1822 1075h2M1822 1077h2M1822 1083h2M1822 1085h2M1822 1097h2M1822 1107h2M1822 1109h2M1822 1111h2M1822 1117h2M1822 1127h2M1822 1129h2M1822 1137h2M1822 1139h2M1822 1143h2M1822 1145h2M1822 1147h2M1822 1149h2M1822 1151h2M1822 1153h2M1822 1157h2M1822 1159h2M1822 1161h2M1822 1167h2M1822 1169h2M1822 1175h2M1822 1179h2M1822 1183h2M1822 1185h2M1822 1187h2M1822 1197h2M1822 1199h2M1822 1205h2M1822 1221h2M1822 1233h2M1824 971h2M1824 1015h2M1824 1017h2M1824 1023h2M1824 1043h2M1824 1047h2M1824 1053h2M1824 1063h2M1824 1089h2M1824 1097h2M1824 1103h2M1824 1107h2M1824 1119h2M1824 1133h2M1824 1135h2M1824 1137h2M1824 1141h2M1824 1145h2M1824 1147h2M1824 1151h2M1824 1153h2M1824 1155h2M1824 1159h2M1824 1161h2M1824 1167h2M1824 1169h2M1824 1175h2M1824 1183h2M1824 1185h2M1824 1191h2M1824 1195h2M1824 1197h2M1824 1201h2M1824 1219h2M1824 1223h2M1824 1225h2M1826 983h2M1826 987h2M1826 991h2M1826 1011h2M1826 1017h2M1826 1031h2M1826 1043h2M1826 1073h2M1826 1093h2M1826 1107h2M1826 1109h2M1826 1111h2M1826 1121h2M1826 1125h2M1826 1129h2M1826 1131h2M1826 1135h2M1826 1137h2M1826 1143h2M1826 1145h2M1826 1149h2M1826 1153h2M1826 1155h2M1826 1157h2M1826 1161h2M1826 1163h2M1826 1167h2M1826 1171h2M1826 1173h2M1826 1177h2M1826 1181h2M1826 1187h2M1826 1189h2M1826 1195h2M1826 1197h2M1826 1199h2M1826 1205h2M1826 1209h2M1826 1213h2M1826 1221h2M1828 953h2M1828 981h2M1828 1007h2M1828 1009h2M1828 1015h2M1828 1019h2M1828 1021h2M1828 1035h2M1828 1037h2M1828 1041h2M1828 1049h2M1828 1055h2M1828 1063h2M1828 1075h2M1828 1079h2M1828 1087h2M1828 1089h2M1828 1095h2M1828 1097h2M1828 1101h2M1828 1111h2M1828 1113h2M1828 1115h2M1828 1117h2M1828 1119h2M1828 1121h2M1828 1123h2M1828 1125h2M1828 1131h2M1828 1133h2M1828 1137h2M1828 1139h2M1828 1141h2M1828 1143h2M1828 1145h2M1828 1147h2M1828 1149h2M1828 1151h2M1828 1153h2M1828 1157h2M1828 1159h2M1828 1161h2M1828 1163h2M1828 1167h2M1828 1169h2M1828 1171h2M1828 1175h2M1828 1177h2M1828 1185h2M1828 1191h2M1828 1203h2M1828 1211h2M1828 1213h2M1828 1225h2M1828 1231h2M1830 975h2M1830 981h2M1830 989h2M1830 1003h2M1830 1021h2M1830 1027h2M1830 1029h2M1830 1037h2M1830 1043h2M1830 1047h2M1830 1049h2M1830 1071h2M1830 1087h2M1830 1093h2M1830 1107h2M1830 1117h2M1830 1121h2M1830 1123h2M1830 1129h2M1830 1131h2M1830 1139h2M1830 1141h2M1830 1143h2M1830 1145h2M1830 1147h2M1830 1149h2M1830 1151h2M1830 1153h2M1830 1155h2M1830 1157h2M1830 1161h2M1830 1163h2M1830 1165h2M1830 1167h2M1830 1169h2M1830 1171h2M1830 1177h2M1830 1183h2M1830 1187h2M1830 1193h2M1830 1199h2M1830 1201h2M1830 1221h2M1830 1237h2M1832 983h2M1832 1011h2M1832 1015h2M1832 1025h2M1832 1039h2M1832 1043h2M1832 1051h2M1832 1063h2M1832 1065h2M1832 1095h2M1832 1101h2M1832 1109h2M1832 1111h2M1832 1113h2M1832 1115h2M1832 1119h2M1832 1127h2M1832 1131h2M1832 1133h2M1832 1135h2M1832 1143h2M1832 1149h2M1832 1151h2M1832 1153h2M1832 1155h2M1832 1159h2M1832 1161h2M1832 1163h2M1832 1165h2M1832 1169h2M1832 1177h2M1832 1181h2M1832 1185h2M1832 1189h2M1832 1191h2M1832 1199h2M1832 1201h2M1832 1205h2M1832 1215h2M1832 1223h2M1834 975h2M1834 1033h2M1834 1041h2M1834 1045h2M1834 1047h2M1834 1061h2M1834 1095h2M1834 1097h2M1834 1099h2M1834 1105h2M1834 1113h2M1834 1115h2M1834 1121h2M1834 1131h2M1834 1133h2M1834 1135h2M1834 1143h2M1834 1149h2M1834 1151h2M1834 1153h2M1834 1159h2M1834 1165h2M1834 1169h2M1834 1171h2M1834 1175h2M1834 1177h2M1834 1181h2M1834 1189h2M1834 1199h2M1834 1213h2M1834 1225h2M1836 1011h2M1836 1019h2M1836 1021h2M1836 1029h2M1836 1033h2M1836 1035h2M1836 1059h2M1836 1067h2M1836 1077h2M1836 1079h2M1836 1085h2M1836 1089h2M1836 1107h2M1836 1129h2M1836 1131h2M1836 1137h2M1836 1141h2M1836 1143h2M1836 1145h2M1836 1149h2M1836 1151h2M1836 1153h2M1836 1155h2M1836 1163h2M1836 1165h2M1836 1167h2M1836 1169h2M1836 1173h2M1836 1175h2M1836 1177h2M1836 1179h2M1836 1183h2M1836 1187h2M1836 1201h2M1836 1207h2M1836 1217h2M1836 1225h2M1838 959h2M1838 971h2M1838 983h2M1838 987h2M1838 1007h2M1838 1011h2M1838 1021h2M1838 1025h2M1838 1067h2M1838 1081h2M1838 1083h2M1838 1111h2M1838 1113h2M1838 1119h2M1838 1127h2M1838 1135h2M1838 1137h2M1838 1139h2M1838 1141h2M1838 1143h2M1838 1147h2M1838 1149h2M1838 1151h2M1838 1153h2M1838 1155h2M1838 1157h2M1838 1159h2M1838 1161h2M1838 1163h2M1838 1165h2M1838 1173h2M1838 1177h2M1838 1179h2M1838 1181h2M1838 1185h2M1838 1187h2M1838 1195h2M1840 979h2M1840 983h2M1840 1003h2M1840 1031h2M1840 1033h2M1840 1035h2M1840 1039h2M1840 1045h2M1840 1051h2M1840 1067h2M1840 1073h2M1840 1079h2M1840 1089h2M1840 1115h2M1840 1121h2M1840 1125h2M1840 1127h2M1840 1129h2M1840 1137h2M1840 1139h2M1840 1143h2M1840 1145h2M1840 1147h2M1840 1149h2M1840 1151h2M1840 1153h2M1840 1157h2M1840 1159h2M1840 1161h2M1840 1163h2M1840 1165h2M1840 1167h2M1840 1171h2M1840 1173h2M1840 1177h2M1840 1179h2M1840 1185h2M1840 1187h2M1840 1191h2M1840 1203h2M1842 1007h2M1842 1013h2M1842 1027h2M1842 1057h2M1842 1061h2M1842 1087h2M1842 1097h2M1842 1099h2M1842 1101h2M1842 1103h2M1842 1119h2M1842 1123h2M1842 1129h2M1842 1139h2M1842 1141h2M1842 1145h2M1842 1151h2M1842 1153h2M1842 1155h2M1842 1157h2M1842 1167h2M1842 1181h2M1842 1197h2M1844 981h2M1844 985h2M1844 987h2M1844 1043h2M1844 1045h2M1844 1049h2M1844 1069h2M1844 1085h2M1844 1091h2M1844 1097h2M1844 1103h2M1844 1105h2M1844 1111h2M1844 1117h2M1844 1119h2M1844 1125h2M1844 1129h2M1844 1131h2M1844 1133h2M1844 1139h2M1844 1141h2M1844 1143h2M1844 1145h2M1844 1147h2M1844 1155h2M1844 1157h2M1844 1159h2M1844 1165h2M1844 1167h2M1844 1171h2M1844 1173h2M1844 1175h2M1846 1019h2M1846 1035h2M1846 1057h2M1846 1073h2M1846 1081h2M1846 1089h2M1846 1093h2M1846 1095h2M1846 1111h2M1846 1119h2M1846 1125h2M1846 1127h2M1846 1129h2M1846 1131h2M1846 1137h2M1846 1139h2M1846 1143h2M1846 1145h2M1846 1149h2M1846 1153h2M1846 1155h2M1846 1157h2M1846 1159h2M1846 1163h2M1846 1165h2M1846 1167h2M1846 1169h2M1846 1171h2M1846 1173h2M1846 1185h2M1846 1191h2M1848 973h2M1848 977h2M1848 983h2M1848 997h2M1848 1021h2M1848 1049h2M1848 1051h2M1848 1055h2M1848 1081h2M1848 1083h2M1848 1085h2M1848 1097h2M1848 1099h2M1848 1105h2M1848 1121h2M1848 1127h2M1848 1129h2M1848 1133h2M1848 1135h2M1848 1137h2M1848 1139h2M1848 1141h2M1848 1145h2M1848 1149h2M1848 1151h2M1848 1153h2M1848 1155h2M1848 1159h2M1848 1161h2M1848 1163h2M1848 1165h2M1848 1167h2M1848 1169h2M1848 1171h2M1848 1173h2M1848 1177h2M1848 1201h2M1850 1013h2M1850 1057h2M1850 1061h2M1850 1081h2M1850 1091h2M1850 1097h2M1850 1107h2M1850 1129h2M1850 1133h2M1850 1135h2M1850 1137h2M1850 1139h2M1850 1143h2M1850 1145h2M1850 1147h2M1850 1149h2M1850 1151h2M1850 1153h2M1850 1155h2M1850 1157h2M1850 1159h2M1850 1161h2M1850 1163h2M1850 1165h2M1850 1169h2M1850 1171h2M1850 1177h2M1852 967h2M1852 1019h2M1852 1027h2M1852 1043h2M1852 1053h2M1852 1055h2M1852 1093h2M1852 1097h2M1852 1109h2M1852 1115h2M1852 1121h2M1852 1125h2M1852 1127h2M1852 1129h2M1852 1131h2M1852 1133h2M1852 1139h2M1852 1143h2M1852 1149h2M1852 1151h2M1852 1155h2M1852 1157h2M1852 1159h2M1852 1161h2M1852 1163h2M1852 1165h2M1852 1171h2M1852 1173h2M1852 1175h2M1852 1197h2M1854 997h2M1854 1019h2M1854 1025h2M1854 1027h2M1854 1079h2M1854 1083h2M1854 1097h2M1854 1115h2M1854 1119h2M1854 1121h2M1854 1123h2M1854 1125h2M1854 1127h2M1854 1133h2M1854 1135h2M1854 1137h2M1854 1139h2M1854 1145h2M1854 1153h2M1854 1155h2M1854 1157h2M1854 1159h2M1854 1163h2M1854 1167h2M1854 1169h2M1854 1171h2M1854 1173h2M1854 1185h2M1856 999h2M1856 1005h2M1856 1017h2M1856 1021h2M1856 1059h2M1856 1065h2M1856 1093h2M1856 1097h2M1856 1115h2M1856 1123h2M1856 1133h2M1856 1137h2M1856 1139h2M1856 1141h2M1856 1143h2M1856 1145h2M1856 1147h2M1856 1149h2M1856 1151h2M1856 1153h2M1856 1155h2M1856 1157h2M1856 1159h2M1856 1161h2M1856 1163h2M1856 1165h2M1856 1167h2M1856 1169h2M1856 1171h2M1856 1173h2M1856 1175h2M1856 1179h2M1856 1187h2M1858 1033h2M1858 1049h2M1858 1053h2M1858 1055h2M1858 1097h2M1858 1103h2M1858 1111h2M1858 1113h2M1858 1115h2M1858 1121h2M1858 1125h2M1858 1131h2M1858 1135h2M1858 1139h2M1858 1143h2M1858 1145h2M1858 1147h2M1858 1155h2M1858 1157h2M1858 1159h2M1858 1161h2M1858 1163h2M1858 1167h2M1858 1171h2M1860 975h2M1860 1009h2M1860 1015h2M1860 1049h2M1860 1073h2M1860 1085h2M1860 1101h2M1860 1109h2M1860 1113h2M1860 1115h2M1860 1119h2M1860 1121h2M1860 1127h2M1860 1129h2M1860 1133h2M1860 1135h2M1860 1137h2M1860 1141h2M1860 1143h2M1860 1145h2M1860 1149h2M1860 1151h2M1860 1153h2M1860 1155h2M1860 1157h2M1860 1161h2M1860 1163h2M1860 1165h2M1860 1167h2M1860 1169h2M1860 1171h2M1862 989h2M1862 1001h2M1862 1013h2M1862 1047h2M1862 1053h2M1862 1077h2M1862 1081h2M1862 1099h2M1862 1101h2M1862 1113h2M1862 1115h2M1862 1119h2M1862 1123h2M1862 1127h2M1862 1129h2M1862 1131h2M1862 1133h2M1862 1137h2M1862 1141h2M1862 1143h2M1862 1145h2M1862 1147h2M1862 1151h2M1862 1155h2M1862 1157h2M1862 1159h2M1862 1161h2M1862 1163h2M1862 1165h2M1862 1175h2M1862 1183h2M1862 1191h2M1864 965h2M1864 983h2M1864 997h2M1864 1019h2M1864 1065h2M1864 1071h2M1864 1077h2M1864 1093h2M1864 1109h2M1864 1117h2M1864 1119h2M1864 1121h2M1864 1123h2M1864 1125h2M1864 1127h2M1864 1129h2M1864 1131h2M1864 1133h2M1864 1135h2M1864 1139h2M1864 1143h2M1864 1145h2M1864 1147h2M1864 1149h2M1864 1151h2M1864 1153h2M1864 1155h2M1864 1157h2M1864 1159h2M1864 1161h2M1864 1163h2M1864 1165h2M1864 1167h2M1864 1173h2M1866 1083h2M1866 1089h2M1866 1093h2M1866 1097h2M1866 1109h2M1866 1125h2M1866 1129h2M1866 1131h2M1866 1133h2M1866 1135h2M1866 1139h2M1866 1141h2M1866 1143h2M1866 1147h2M1866 1149h2M1866 1151h2M1866 1153h2M1866 1157h2M1866 1159h2M1866 1161h2M1866 1165h2M1868 1017h2M1868 1031h2M1868 1033h2M1868 1043h2M1868 1055h2M1868 1059h2M1868 1061h2M1868 1079h2M1868 1101h2M1868 1119h2M1868 1121h2M1868 1131h2M1868 1135h2M1868 1137h2M1868 1139h2M1868 1141h2M1868 1143h2M1868 1145h2M1868 1147h2M1868 1149h2M1868 1151h2M1868 1153h2M1868 1155h2M1868 1157h2M1868 1169h2M1868 1183h2M1870 965h2M1870 1039h2M1870 1041h2M1870 1065h2M1870 1067h2M1870 1069h2M1870 1075h2M1870 1091h2M1870 1093h2M1870 1099h2M1870 1101h2M1870 1103h2M1870 1117h2M1870 1123h2M1870 1127h2M1870 1129h2M1870 1131h2M1870 1133h2M1870 1135h2M1870 1139h2M1870 1141h2M1870 1145h2M1870 1149h2M1870 1151h2M1870 1153h2M1870 1155h2M1870 1163h2M1872 1027h2M1872 1029h2M1872 1045h2M1872 1061h2M1872 1075h2M1872 1101h2M1872 1111h2M1872 1117h2M1872 1121h2M1872 1123h2M1872 1125h2M1872 1129h2M1872 1131h2M1872 1133h2M1872 1135h2M1872 1139h2M1872 1143h2M1872 1147h2M1872 1149h2M1872 1151h2M1872 1153h2M1872 1161h2M1872 1171h2M1872 1173h2M1874 985h2M1874 1019h2M1874 1041h2M1874 1073h2M1874 1081h2M1874 1093h2M1874 1097h2M1874 1101h2M1874 1107h2M1874 1113h2M1874 1119h2M1874 1121h2M1874 1125h2M1874 1127h2M1874 1129h2M1874 1133h2M1874 1135h2M1874 1139h2M1874 1141h2M1874 1143h2M1874 1145h2M1874 1147h2M1874 1149h2M1874 1151h2M1874 1157h2M1874 1163h2M1876 993h2M1876 1065h2M1876 1069h2M1876 1073h2M1876 1077h2M1876 1083h2M1876 1095h2M1876 1097h2M1876 1101h2M1876 1113h2M1876 1115h2M1876 1117h2M1876 1119h2M1876 1123h2M1876 1125h2M1876 1127h2M1876 1129h2M1876 1131h2M1876 1133h2M1876 1135h2M1876 1137h2M1876 1139h2M1876 1145h2M1876 1147h2M1876 1149h2M1876 1153h2M1878 1027h2M1878 1095h2M1878 1101h2M1878 1113h2M1878 1115h2M1878 1117h2M1878 1121h2M1878 1123h2M1878 1125h2M1878 1127h2M1878 1131h2M1878 1133h2M1878 1135h2M1878 1137h2M1878 1139h2M1878 1143h2M1878 1145h2M1878 1147h2M1878 1151h2M1878 1161h2M1878 1163h2M1880 935h2M1880 965h2M1880 1011h2M1880 1047h2M1880 1059h2M1880 1099h2M1880 1105h2M1880 1107h2M1880 1111h2M1880 1119h2M1880 1121h2M1880 1125h2M1880 1127h2M1880 1133h2M1880 1135h2M1880 1137h2M1880 1139h2M1880 1141h2M1880 1143h2M1880 1145h2M1880 1147h2M1882 1029h2M1882 1073h2M1882 1083h2M1882 1101h2M1882 1113h2M1882 1115h2M1882 1121h2M1882 1125h2M1882 1127h2M1882 1129h2M1882 1131h2M1882 1133h2M1882 1135h2M1882 1137h2M1882 1139h2M1882 1141h2M1882 1143h2M1882 1145h2M1882 1149h2M1882 1151h2M1882 1153h2M1882 1155h2M1882 1159h2M1884 981h2M1884 1075h2M1884 1099h2M1884 1107h2M1884 1109h2M1884 1111h2M1884 1115h2M1884 1117h2M1884 1121h2M1884 1125h2M1884 1127h2M1884 1131h2M1884 1133h2M1884 1135h2M1884 1137h2M1884 1139h2M1884 1141h2M1884 1143h2M1884 1157h2M1884 1159h2M1886 967h2M1886 1019h2M1886 1021h2M1886 1037h2M1886 1055h2M1886 1063h2M1886 1095h2M1886 1107h2M1886 1113h2M1886 1125h2M1886 1131h2M1886 1133h2M1886 1135h2M1886 1137h2M1886 1139h2M1886 1141h2M1886 1147h2M1886 1157h2M1888 965h2M1888 1015h2M1888 1045h2M1888 1095h2M1888 1103h2M1888 1107h2M1888 1121h2M1888 1123h2M1888 1125h2M1888 1127h2M1888 1129h2M1888 1131h2M1888 1133h2M1888 1135h2M1888 1137h2M1890 1003h2M1890 1013h2M1890 1037h2M1890 1071h2M1890 1077h2M1890 1087h2M1890 1109h2M1890 1113h2M1890 1115h2M1890 1117h2M1890 1119h2M1890 1127h2M1890 1129h2M1890 1131h2M1890 1133h2M1890 1135h2M1890 1139h2M1890 1143h2M1892 1003h2M1892 1047h2M1892 1059h2M1892 1069h2M1892 1077h2M1892 1091h2M1892 1103h2M1892 1105h2M1892 1111h2M1892 1113h2M1892 1117h2M1892 1119h2M1892 1121h2M1892 1123h2M1892 1125h2M1892 1127h2M1892 1129h2M1892 1131h2M1892 1133h2M1894 971h2M1894 983h2M1894 1049h2M1894 1089h2M1894 1101h2M1894 1115h2M1894 1119h2M1894 1121h2M1894 1125h2M1894 1127h2M1894 1129h2M1894 1131h2M1894 1133h2M1894 1135h2M1894 1149h2M1896 979h2M1896 999h2M1896 1093h2M1896 1099h2M1896 1103h2M1896 1107h2M1896 1115h2M1896 1119h2M1896 1121h2M1896 1125h2M1896 1127h2M1896 1129h2M1896 1133h2M1896 1135h2M1898 959h2M1898 1019h2M1898 1025h2M1898 1091h2M1898 1105h2M1898 1113h2M1898 1115h2M1898 1117h2M1898 1119h2M1898 1121h2M1898 1123h2M1898 1125h2M1898 1127h2M1898 1129h2M1898 1139h2M1900 997h2M1900 1109h2M1900 1111h2M1900 1115h2M1900 1117h2M1900 1119h2M1900 1121h2M1900 1123h2M1900 1125h2M1900 1127h2M1900 1135h2M1900 1139h2M1902 951h2M1902 967h2M1902 1003h2M1902 1063h2M1902 1103h2M1902 1107h2M1902 1115h2M1902 1119h2M1902 1121h2M1902 1123h2M1902 1125h2M1902 1131h2M1904 987h2M1904 1085h2M1904 1101h2M1904 1107h2M1904 1109h2M1904 1111h2M1904 1113h2M1904 1115h2M1904 1117h2M1904 1119h2M1904 1123h2M1904 1125h2M1904 1127h2M1906 981h2M1906 997h2M1906 1037h2M1906 1049h2M1906 1095h2M1906 1109h2M1906 1111h2M1906 1113h2M1906 1115h2M1906 1117h2M1906 1119h2M1908 983h2M1908 1025h2M1908 1031h2M1908 1051h2M1908 1097h2M1908 1099h2M1908 1107h2M1908 1109h2M1908 1113h2M1908 1115h2M1908 1117h2M1908 1119h2M1910 953h2M1910 1089h2M1910 1093h2M1910 1101h2M1910 1105h2M1910 1107h2M1910 1111h2M1910 1113h2M1910 1115h2M1910 1117h2M1910 1119h2M1910 1127h2M1912 1095h2M1912 1105h2M1912 1109h2M1912 1111h2M1912 1113h2M1914 1087h2M1914 1099h2M1914 1101h2M1914 1105h2M1914 1107h2M1914 1109h2M1914 1111h2M1914 1113h2M1916 1055h2M1916 1095h2M1916 1097h2M1916 1099h2M1916 1101h2M1916 1103h2M1916 1105h2M1916 1107h2M1916 1109h2M1916 1111h2M1918 1071h2M1918 1091h2M1918 1093h2M1918 1097h2M1918 1099h2M1918 1101h2M1918 1103h2M1918 1105h2M1918 1107h2M1918 1109h2M1920 1093h2M1920 1095h2M1920 1097h2M1920 1099h2M1920 1101h2M1920 1103h2M1920 1105h2M1920 1107h2M1920 1109h2M1920 1119h2M1922 961h2M1922 977h2M1922 1051h2M1922 1073h2M1922 1085h2M1922 1095h2M1922 1097h2M1922 1099h2M1922 1101h2M1922 1103h2M1924 1005h2M1924 1055h2M1924 1085h2M1924 1089h2M1924 1093h2M1924 1097h2M1924 1099h2M1924 1103h2M1924 1107h2M1926 999h2M1926 1061h2M1926 1083h2M1926 1091h2M1926 1093h2M1926 1095h2M1926 1097h2M1926 1099h2M1926 1101h2M1928 991h2M1928 1025h2M1928 1083h2M1928 1087h2M1928 1089h2M1928 1093h2M1928 1095h2M1928 1097h2M1928 1099h2M1928 1111h2M1930 957h2M1930 1067h2M1930 1091h2M1930 1093h2M1930 1095h2M1932 1083h2M1932 1085h2M1932 1087h2M1932 1091h2M1932 1093h2M1934 1077h2M1934 1087h2M1934 1089h2M1934 1091h2M1934 1093h2M1936 977h2M1936 1039h2M1936 1075h2M1936 1081h2M1936 1083h2M1936 1085h2M1936 1087h2M1936 1089h2M1936 1091h2M1938 1081h2M1938 1083h2M1938 1085h2M1938 1087h2M1938 1089h2M1940 963h2M1940 1073h2M1940 1079h2M1940 1081h2M1940 1083h2M1940 1085h2M1940 1087h2M1942 949h2M1942 1067h2M1942 1071h2M1942 1075h2M1942 1077h2M1942 1081h2M1942 1083h2M1942 1085h2M1944 1009h2M1944 1071h2M1944 1075h2M1944 1077h2M1944 1079h2M1944 1081h2M1944 1083h2M1946 949h2M1946 1065h2M1946 1069h2M1946 1071h2M1946 1075h2M1946 1077h2M1946 1079h2M1946 1081h2M1948 1061h2M1948 1067h2M1948 1071h2M1948 1073h2M1948 1075h2M1948 1077h2M1948 1079h2M1950 969h2M1950 1067h2M1950 1071h2M1950 1073h2M1950 1075h2M1952 1051h2M1952 1063h2M1952 1067h2M1952 1069h2M1952 1071h2M1952 1073h2M1952 1075h2M1954 1065h2M1954 1067h2M1954 1069h2M1954 1071h2M1954 1075h2M1956 1059h2M1956 1065h2M1956 1067h2M1956 1069h2M1956 1071h2M1958 1063h2M1958 1065h2M1958 1067h2M1960 1053h2M1960 1055h2M1960 1061h2M1960 1063h2M1960 1065h2M1960 1069h2M1962 1055h2M1962 1059h2M1962 1061h2M1962 1063h2M1962 1065h2M1964 1057h2M1964 1059h2M1964 1061h2M1964 1063h2M1966 1049h2M1966 1055h2M1966 1057h2M1966 1059h2M1966 1061h2M1968 1049h2M1968 1053h2M1968 1057h2M1968 1059h2M1970 999h2M1970 1049h2M1970 1053h2M1970 1055h2M1970 1057h2M1972 1025h2M1972 1043h2M1972 1045h2M1972 1047h2M1972 1049h2M1972 1051h2M1972 1053h2M1972 1055h2M1972 1065h2M1974 1043h2M1974 1047h2M1974 1049h2M1974 1051h2M1974 1053h2M1976 983h2M1976 1035h2M1976 1043h2M1976 1045h2M1976 1047h2M1976 1049h2M1976 1051h2M1978 941h2M1978 949h2M1978 1039h2M1978 1041h2M1978 1043h2M1978 1045h2M1978 1047h2M1978 1049h2M1980 1037h2M1980 1043h2M1980 1045h2M1982 1033h2M1982 1041h2M1982 1043h2M1982 1045h2M1984 1031h2M1984 1039h2M1984 1041h2M1986 1029h2M1986 1033h2M1986 1035h2M1986 1037h2M1986 1039h2M1986 1041h2M1988 1023h2M1988 1031h2M1988 1033h2M1988 1035h2M1988 1037h2M1988 1039h2M1990 1023h2M1990 1027h2M1990 1031h2M1990 1033h2M1990 1035h2M1990 1037h2M1992 945h2M1992 955h2M1992 971h2M1992 1021h2M1992 1025h2M1992 1029h2M1992 1031h2M1992 1033h2M1992 1035h2M1992 1037h2M1994 1025h2M1994 1029h2M1994 1031h2M1994 1033h2M1994 1035h2M1996 1023h2M1996 1027h2M1996 1029h2M1998 987h2M1998 1019h2M1998 1021h2M1998 1023h2M1998 1025h2M1998 1027h2M1998 1029h2M2000 1001h2M2000 1013h2M2000 1015h2M2000 1019h2M2000 1021h2M2000 1023h2M2000 1027h2M2002 1013h2M2002 1019h2M2002 1021h2M2002 1023h2M2002 1025h2M2004 1017h2M2004 1019h2M2004 1021h2M2004 1023h2M2006 1015h2M2006 1017h2M2006 1019h2M2006 1021h2M2008 935h2M2008 1007h2M2008 1013h2M2008 1015h2M2008 1017h2M2010 1005h2M2010 1011h2M2010 1013h2M2010 1015h2M2010 1017h2M2012 1007h2M2012 1009h2M2012 1011h2M2012 1013h2M2012 1015h2M2014 1005h2M2014 1007h2M2014 1009h2M2014 1011h2M2016 1003h2M2016 1005h2M2016 1007h2M2016 1009h2M2016 1011h2M2018 1001h2M2018 1003h2M2018 1007h2M2020 993h2M2020 999h2M2020 1001h2M2020 1003h2M2020 1005h2M2020 1007h2M2022 991h2M2022 997h2M2022 999h2M2022 1001h2M2022 1003h2M2022 1005h2M2024 991h2M2024 995h2M2024 999h2M2024 1001h2M2024 1003h2M2026 993h2M2026 995h2M2026 997h2M2028 995h2M2028 997h2M2028 999h2M2030 979h2M2030 989h2M2030 993h2M2030 995h2M2030 997h2M2032 989h2M2032 991h2M2032 993h2M2034 981h2M2034 983h2M2034 989h2M2034 991h2M2034 993h2M2036 979h2M2036 985h2M2036 987h2M2036 989h2M2038 983h2M2038 985h2M2038 987h2M2038 989h2M2040 983h2M2040 985h2M2040 987h2" stroke="#c4c4c4" stroke-width="2" fill="none"/><path d="M1924 1093h2M1924 1095h2M1924 1097h2M1924 1099h2M1926 1095h2M1926 1097h2M1926 1099h2M1928 1083h2M1928 1091h2M1928 1093h2M1928 1095h2M1928 1097h2M1930 1085h2M1930 1087h2M1930 1089h2M1930 1091h2M1930 1093h2M1932 1081h2M1932 1085h2M1932 1089h2M1932 1091h2M1932 1093h2M1934 1085h2M1934 1087h2M1934 1089h2M1934 1091h2M1936 1075h2M1936 1083h2M1936 1085h2M1936 1087h2M1936 1089h2M1938 1073h2M1938 1081h2M1938 1083h2M1938 1085h2M1938 1087h2M1940 1079h2M1940 1081h2M1940 1083h2M1940 1085h2M1942 1075h2M1942 1077h2M1942 1081h2M1942 1083h2M1944 1071h2M1944 1073h2M1944 1077h2M1944 1079h2M1944 1081h2M1946 1073h2M1946 1075h2M1946 1077h2M1946 1079h2M1948 1069h2M1948 1073h2M1948 1075h2M1948 1077h2M1950 1063h2M1950 1071h2M1950 1073h2M1950 1075h2M1952 1069h2M1952 1071h2M1952 1073h2M1954 1067h2M1954 1069h2M1954 1071h2M1956 1065h2M1956 1067h2M1956 1069h2M1958 1049h2M1958 1059h2M1958 1061h2M1958 1063h2M1958 1065h2M1960 1057h2M1960 1061h2M1960 1063h2M1960 1065h2M1962 1057h2M1962 1061h2M1964 1051h2M1964 1055h2M1964 1057h2M1964 1059h2M1964 1061h2M1966 1043h2M1966 1053h2M1966 1055h2M1966 1057h2M1966 1059h2M1968 1051h2M1968 1055h2M1968 1057h2M1970 1045h2M1970 1049h2M1970 1051h2M1970 1053h2M1972 1035h2M1972 1049h2M1972 1051h2M1972 1053h2M1974 1041h2M1974 1045h2M1974 1047h2M1974 1049h2M1976 1043h2M1976 1045h2M1976 1047h2M1976 1049h2M1978 1041h2M1978 1045h2M1978 1047h2M1980 1037h2M1980 1039h2M1980 1041h2M1980 1043h2M1980 1045h2M1982 1035h2M1982 1039h2M1982 1041h2M1982 1043h2M1984 1011h2M1984 1031h2M1984 1037h2M1984 1039h2M1984 1041h2M1986 1027h2M1986 1033h2M1986 1035h2M1986 1037h2M1986 1039h2M1988 1027h2M1988 1031h2M1988 1033h2M1988 1035h2M1988 1037h2M1990 1029h2M1990 1031h2M1990 1033h2M1990 1035h2M1992 1029h2M1992 1031h2M1992 1033h2M1994 1025h2M1994 1027h2M1994 1029h2M1994 1031h2M1996 1023h2M1996 1025h2M1996 1027h2M1996 1029h2M1998 1023h2M1998 1025h2M1998 1027h2M2000 1017h2M2000 1019h2M2000 1021h2M2000 1023h2M2000 1025h2M2002 1011h2M2002 1017h2M2002 1019h2M2002 1021h2M2002 1023h2M2004 1007h2M2004 1013h2M2004 1015h2M2004 1019h2M2004 1021h2M2006 1013h2M2006 1015h2M2006 1017h2M2006 1019h2M2008 1013h2M2008 1015h2M2008 1017h2M2010 1011h2M2010 1013h2M2010 1015h2M2012 1005h2M2012 1011h2M2012 1013h2M2014 1001h2M2014 1005h2M2014 1007h2M2014 1009h2M2014 1011h2M2016 1001h2M2016 1003h2M2016 1005h2M2016 1007h2M2016 1009h2M2018 989h2M2018 997h2M2018 999h2M2018 1003h2M2018 1005h2M2018 1007h2M2020 997h2M2020 999h2M2020 1001h2M2020 1003h2M2020 1005h2M2022 997h2M2022 999h2M2022 1001h2M2022 1003h2M2024 997h2M2024 999h2M2024 1001h2M2026 989h2M2026 991h2M2026 993h2M2026 995h2M2026 997h2M2026 999h2M2028 993h2M2028 995h2M2028 997h2M2030 989h2M2030 991h2M2030 993h2M2030 995h2M2032 987h2M2032 989h2M2032 991h2M2032 993h2M2034 991h2" stroke="#b8b8b8" stroke-width="2" fill="none"/><path d="M1932 1075h2M1938 1083h2M1940 1083h2M1942 1073h2M1942 1075h2M1942 1077h2M1942 1079h2M1942 1081h2M1944 1079h2M1944 1081h2M1946 1071h2M1946 1075h2M1946 1077h2M1946 1079h2M1948 1071h2M1948 1073h2M1948 1075h2M1948 1077h2M1950 1063h2M1950 1069h2M1950 1071h2M1950 1073h2M1950 1075h2M1952 1069h2M1952 1071h2M1952 1073h2M1954 1059h2M1954 1069h2M1954 1071h2M1956 1069h2M1958 1061h2M1958 1063h2M1958 1065h2M1958 1067h2M1960 1061h2M1960 1063h2M1960 1065h2M1962 1055h2M1962 1057h2M1962 1059h2M1962 1061h2M1962 1063h2M1964 1059h2M1964 1061h2M1966 1057h2M1966 1059h2M1968 1053h2M1968 1055h2M1968 1057h2M1970 1049h2M1970 1051h2M1970 1053h2M1970 1055h2M1972 1045h2M1972 1051h2M1972 1053h2M1974 1045h2M1974 1047h2M1974 1049h2M1974 1051h2M1976 1047h2M1976 1049h2M1978 1043h2M1978 1045h2M1980 1037h2M1980 1043h2M1980 1045h2M1982 1035h2M1982 1039h2M1982 1041h2M1982 1043h2M1984 1035h2M1984 1037h2M1984 1039h2M1984 1041h2M1986 1031h2M1986 1035h2M1986 1037h2M1986 1039h2M1988 1031h2M1988 1035h2M1988 1037h2M1990 1031h2M1990 1033h2M1990 1035h2M1992 1027h2M1992 1031h2M1992 1033h2M1994 1023h2M1994 1029h2M1994 1031h2M1996 1025h2M1996 1027h2M1996 1029h2M1998 1023h2M1998 1025h2M1998 1027h2M2000 1017h2M2000 1023h2M2000 1025h2M2002 1017h2M2002 1021h2M2002 1023h2M2004 1013h2M2004 1015h2M2004 1017h2M2004 1019h2M2004 1021h2M2006 1011h2M2006 1013h2M2006 1015h2M2006 1017h2M2006 1019h2M2008 1013h2M2008 1015h2M2008 1017h2M2010 1013h2M2010 1015h2M2012 1009h2M2012 1011h2M2012 1013h2M2014 1009h2M2014 1011h2M2016 1001h2M2016 1005h2M2016 1007h2M2016 1009h2M2018 1003h2M2018 1005h2M2018 1007h2M2020 1003h2M2020 1005h2M2022 1001h2M2022 1003h2M2024 999h2M2024 1001h2" stroke="#989898" stroke-width="2" fill="none"/><path d="M1954 1067h2M1954 1069h2M1956 1065h2M1956 1067h2M1956 1069h2M1958 1063h2M1958 1065h2M1958 1067h2M1960 1063h2M1960 1065h2M1962 1061h2M1962 1063h2M1964 1057h2M1964 1059h2M1964 1061h2M1966 1057h2M1966 1059h2M1968 1055h2M1968 1057h2M1970 1053h2M1970 1055h2M1972 1049h2M1972 1051h2M1972 1053h2M1974 1047h2M1974 1049h2M1974 1051h2M1976 1045h2M1976 1047h2M1978 1041h2M1978 1045h2M1978 1047h2M1980 1043h2M1980 1045h2M1982 1041h2M1982 1043h2M1984 1039h2M1984 1041h2M1986 1035h2M1986 1037h2M1986 1039h2M1988 1033h2M1988 1035h2M1988 1037h2M1990 1033h2M1990 1035h2M1992 1031h2M1992 1033h2M1994 1027h2M1994 1029h2M1994 1031h2M1996 1025h2M1996 1027h2M1996 1029h2M1998 1027h2M2000 1021h2M2000 1023h2M2000 1025h2M2002 1021h2M2002 1023h2M2004 1019h2M2004 1021h2M2006 1017h2M2006 1019h2M2008 1015h2M2008 1017h2M2010 1013h2M2010 1015h2" stroke="#6a6a6a" stroke-width="2" fill="none"/><path d="M1968 1053h2M1968 1055h2M1968 1057h2M1970 1051h2M1972 1051h2M1972 1053h2M1974 1049h2M1976 1047h2M1976 1049h2M1978 1047h2M1980 1043h2M1980 1045h2M1982 1041h2M1982 1043h2M1984 1039h2M1984 1041h2M1986 1037h2M1986 1039h2M1988 1033h2M1988 1035h2M1988 1037h2M1990 1033h2M1990 1035h2M1992 1029h2M1994 1029h2M1994 1031h2M1996 1027h2M1996 1029h2M1998 1027h2M2000 1023h2M2000 1025h2M2002 1023h2" stroke="#3a3a3a" stroke-width="2" fill="none"/><path d="M1978 1047h2M1980 1043h2M1980 1045h2M1982 1041h2M1982 1043h2M1984 1039h2M1984 1041h2M1986 1037h2M1986 1039h2M1988 1037h2M1990 1035h2M1992 1033h2" stroke="#141414" stroke-width="2" fill="none"/><polygon points="1825.8,1165 2025.5,938.8 2069.2,939.5 2062.9,1227.6 1824.1,1224.8" fill="none" stroke="#c020d8" stroke-width="1.9" stroke-linejoin="miter"/><text x="1825" y="923.2" class="g" fill="#b418cc">P1(84.06%)</text>
<path d="M1648.6 818.4H2089.7" stroke="#000" stroke-width="1.2" fill="none"/>
<path d="M2089.7 817.8V1260" stroke="#000" stroke-width="1.8" fill="none"/>
<path d="M1659.6 818.4V1260" stroke="#000" stroke-width="1.2" fill="none"/>
<path d="M1648.6 1249H2089.7" stroke="#000" stroke-width="2" fill="none"/>
<path d="M1659.6 1249v11M1728.6 1249v11M1797.5 1249v11M1866.5 1249v11M1935.5 1249v11M2004.4 1249v11M2073.4 1249v11" stroke="#000" stroke-width="1.4" fill="none"/>
<path d="M1680.4 1249v7M1692.5 1249v7M1701.1 1249v7M1707.8 1249v7M1713.3 1249v7M1717.9 1249v7M1721.9 1249v7M1725.4 1249v7M1749.3 1249v7M1761.5 1249v7M1770.1 1249v7M1776.8 1249v7M1782.2 1249v7M1786.9 1249v7M1790.9 1249v7M1794.4 1249v7M1818.3 1249v7M1830.4 1249v7M1839.1 1249v7M1845.7 1249v7M1851.2 1249v7M1855.8 1249v7M1859.8 1249v7M1863.4 1249v7M1887.3 1249v7M1899.4 1249v7M1908 1249v7M1914.7 1249v7M1920.2 1249v7M1924.8 1249v7M1928.8 1249v7M1932.3 1249v7M1956.2 1249v7M1968.4 1249v7M1977 1249v7M1983.7 1249v7M1989.1 1249v7M1993.8 1249v7M1997.8 1249v7M2001.3 1249v7M2025.2 1249v7M2037.4 1249v7M2046 1249v7M2052.7 1249v7M2058.1 1249v7M2062.7 1249v7M2066.7 1249v7M2070.3 1249v7" stroke="#000" stroke-width="1.7" fill="none"/>
<text x="1644.8" y="1284.8" class="t">10</text><text x="1670.2" y="1276.8" class="s">1</text>
<text x="1713.8" y="1284.8" class="t">10</text><text x="1739.2" y="1276.8" class="s">2</text>
<text x="1782.7" y="1284.8" class="t">10</text><text x="1808.1" y="1276.8" class="s">3</text>
<text x="1851.7" y="1284.8" class="t">10</text><text x="1877.1" y="1276.8" class="s">4</text>
<text x="1920.7" y="1284.8" class="t">10</text><text x="1946.1" y="1276.8" class="s">5</text>
<text x="1989.6" y="1284.8" class="t">10</text><text x="2015" y="1276.8" class="s">6</text>
<text x="2058.6" y="1284.8" class="t">10</text><text x="2084" y="1276.8" class="s">7</text>
<path d="M1659.6 1249h-11M1659.6 1180h-11M1659.6 1110.9h-11M1659.6 1041.8h-11M1659.6 972.8h-11M1659.6 903.7h-11M1659.6 834.6h-11" stroke="#000" stroke-width="1.4" fill="none"/>
<path d="M1659.6 1228.3h-7M1659.6 1216.1h-7M1659.6 1207.5h-7M1659.6 1200.8h-7M1659.6 1195.3h-7M1659.6 1190.7h-7M1659.6 1186.7h-7M1659.6 1183.1h-7M1659.6 1159.2h-7M1659.6 1147h-7M1659.6 1138.4h-7M1659.6 1131.7h-7M1659.6 1126.2h-7M1659.6 1121.6h-7M1659.6 1117.6h-7M1659.6 1114.1h-7M1659.6 1090.1h-7M1659.6 1078h-7M1659.6 1069.3h-7M1659.6 1062.6h-7M1659.6 1057.2h-7M1659.6 1052.5h-7M1659.6 1048.5h-7M1659.6 1045h-7M1659.6 1021h-7M1659.6 1008.9h-7M1659.6 1000.3h-7M1659.6 993.6h-7M1659.6 988.1h-7M1659.6 983.5h-7M1659.6 979.5h-7M1659.6 975.9h-7M1659.6 952h-7M1659.6 939.8h-7M1659.6 931.2h-7M1659.6 924.5h-7M1659.6 919h-7M1659.6 914.4h-7M1659.6 910.4h-7M1659.6 906.9h-7M1659.6 882.9h-7M1659.6 870.7h-7M1659.6 862.1h-7M1659.6 855.4h-7M1659.6 850h-7M1659.6 845.3h-7M1659.6 841.3h-7M1659.6 837.8h-7" stroke="#000" stroke-width="1.7" fill="none"/>
<g transform="translate(1639.3 1249) rotate(-90)"><text x="-13.6" y="0" class="t">10</text><text x="12.2" y="-11.9" class="s">1</text></g>
<g transform="translate(1639.3 1180) rotate(-90)"><text x="-13.6" y="0" class="t">10</text><text x="12.2" y="-11.9" class="s">2</text></g>
<g transform="translate(1639.3 1110.9) rotate(-90)"><text x="-13.6" y="0" class="t">10</text><text x="12.2" y="-11.9" class="s">3</text></g>
<g transform="translate(1639.3 1041.8) rotate(-90)"><text x="-13.6" y="0" class="t">10</text><text x="12.2" y="-11.9" class="s">4</text></g>
<g transform="translate(1639.3 972.8) rotate(-90)"><text x="-13.6" y="0" class="t">10</text><text x="12.2" y="-11.9" class="s">5</text></g>
<g transform="translate(1639.3 903.7) rotate(-90)"><text x="-13.6" y="0" class="t">10</text><text x="12.2" y="-11.9" class="s">6</text></g>
<g transform="translate(1639.3 834.6) rotate(-90)"><text x="-13.6" y="0" class="t">10</text><text x="12.2" y="-11.9" class="s">7</text></g>
<text x="1861.4" y="806.7" class="t" text-anchor="middle" textLength="363" lengthAdjust="spacingAndGlyphs">01-S1_18_20220713-D7 : All Events</text>
<text x="1874.7" y="1312.8" class="t" text-anchor="middle">FITC-A</text>
<text transform="translate(1609.4 1032.4) rotate(-90)" class="t" text-anchor="middle">PerCP-A</text>
<text x="1600.1" y="732.8" class="L">h)</text>
</g>
</svg></body></html>
